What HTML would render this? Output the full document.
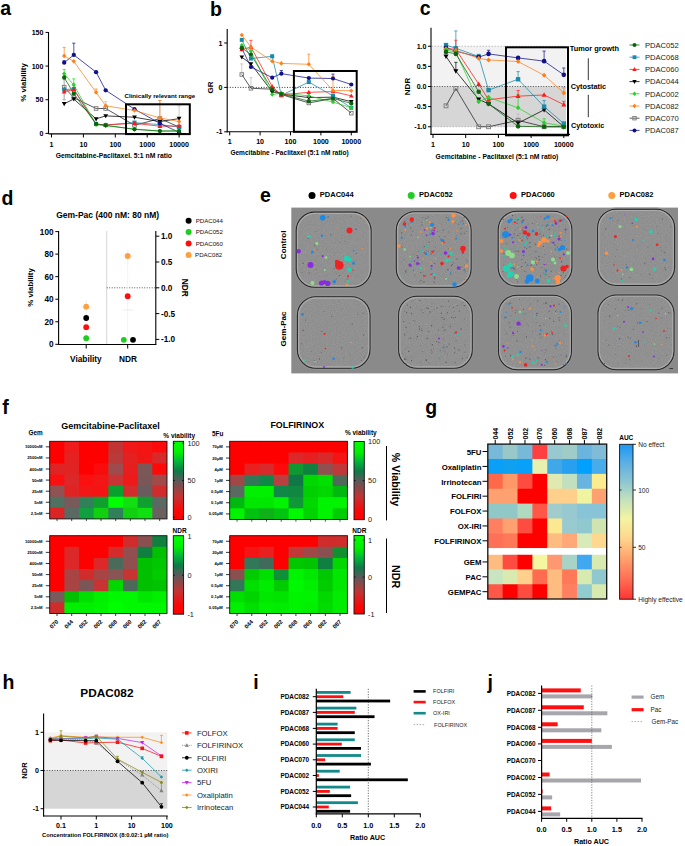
<!DOCTYPE html><html><head><meta charset="utf-8"><style>html,body{margin:0;padding:0;background:#fff;overflow:hidden}svg text{font-family:"Liberation Sans",sans-serif}</style></head><body><svg width="685" height="846" viewBox="0 0 685 846" style="display:block">
<defs><linearGradient id="gv" x1="0" y1="1" x2="0" y2="0"><stop offset="0" stop-color="#ff0000"/><stop offset="0.12" stop-color="#f80808"/><stop offset="0.3" stop-color="#c03434"/><stop offset="0.5" stop-color="#5a5a5a"/><stop offset="0.62" stop-color="#0e7a48"/><stop offset="0.75" stop-color="#00b838"/><stop offset="0.86" stop-color="#00f000"/><stop offset="1" stop-color="#00ff00"/></linearGradient><linearGradient id="gv2" x1="0" y1="1" x2="0" y2="0"><stop offset="0" stop-color="#ff0000"/><stop offset="0.11" stop-color="#f80808"/><stop offset="0.28" stop-color="#c03434"/><stop offset="0.471" stop-color="#5a5a5a"/><stop offset="0.59" stop-color="#0e7a48"/><stop offset="0.72" stop-color="#00b838"/><stop offset="0.84" stop-color="#00f000"/><stop offset="1" stop-color="#00ff00"/></linearGradient><linearGradient id="gauc" x1="0" y1="1" x2="0" y2="0"><stop offset="0" stop-color="#ff3434"/><stop offset="0.12" stop-color="#ff6a52"/><stop offset="0.28" stop-color="#ffa870"/><stop offset="0.4" stop-color="#fdd88e"/><stop offset="0.52" stop-color="#f4f4a2"/><stop offset="0.64" stop-color="#c4e2bc"/><stop offset="0.76" stop-color="#8cc6d2"/><stop offset="0.88" stop-color="#5cb0e4"/><stop offset="1" stop-color="#1a98f4"/></linearGradient><filter id="noise" x="0" y="0" width="100%" height="100%"><feTurbulence type="fractalNoise" baseFrequency="1.1" numOctaves="1" seed="3" result="t"/><feColorMatrix in="t" type="matrix" values="0 0 0 0 0.45  0 0 0 0 0.45  0 0 0 0 0.45  2.2 0 0 0 -0.7"/><feComposite in2="SourceGraphic" operator="in"/></filter></defs>
<rect width="685" height="846" fill="#fff"/>
<text x="0.3" y="14.8" font-size="19.5" font-weight="bold">a</text>
<line x1="48.5" y1="32" x2="48.5" y2="134" stroke="#000" stroke-width="1.1"/>
<line x1="48.5" y1="133.9" x2="186" y2="133.9" stroke="#000" stroke-width="1.1"/>
<line x1="45.5" y1="133.4" x2="48.5" y2="133.4" stroke="#000" stroke-width="1"/>
<text x="43.5" y="135.9" font-size="7.1" font-weight="bold" text-anchor="end">0</text>
<line x1="45.5" y1="99.74" x2="48.5" y2="99.74" stroke="#000" stroke-width="1"/>
<text x="43.5" y="102.24" font-size="7.1" font-weight="bold" text-anchor="end">50</text>
<line x1="45.5" y1="66.07" x2="48.5" y2="66.07" stroke="#000" stroke-width="1"/>
<text x="43.5" y="68.57" font-size="7.1" font-weight="bold" text-anchor="end">100</text>
<line x1="45.5" y1="32.41" x2="48.5" y2="32.41" stroke="#000" stroke-width="1"/>
<text x="43.5" y="34.91" font-size="7.1" font-weight="bold" text-anchor="end">150</text>
<line x1="51.5" y1="133.9" x2="51.5" y2="137.5" stroke="#000" stroke-width="1"/>
<text x="51.5" y="146.5" font-size="7.1" font-weight="bold" text-anchor="middle">1</text>
<line x1="83.4" y1="133.9" x2="83.4" y2="137.5" stroke="#000" stroke-width="1"/>
<text x="83.4" y="146.5" font-size="7.1" font-weight="bold" text-anchor="middle">10</text>
<line x1="115.3" y1="133.9" x2="115.3" y2="137.5" stroke="#000" stroke-width="1"/>
<text x="115.3" y="146.5" font-size="7.1" font-weight="bold" text-anchor="middle">100</text>
<line x1="147.2" y1="133.9" x2="147.2" y2="137.5" stroke="#000" stroke-width="1"/>
<text x="147.2" y="146.5" font-size="7.1" font-weight="bold" text-anchor="middle">1000</text>
<line x1="179.1" y1="133.9" x2="179.1" y2="137.5" stroke="#000" stroke-width="1"/>
<text x="179.1" y="146.5" font-size="7.1" font-weight="bold" text-anchor="middle">10000</text>
<text x="113.8" y="157.5" font-size="6.8" font-weight="bold" text-anchor="middle">Gemcitabine-Paclitaxel. 5:1 nM ratio</text>
<text x="26" y="82.5" font-size="7.9" font-weight="bold" text-anchor="middle" transform="rotate(-90 26 82.5)">% viability</text>
<line x1="64.19" y1="87.21" x2="64.19" y2="79.54" stroke="#b8b8b8" stroke-width="1.3"/>
<line x1="62.59" y1="79.54" x2="65.79" y2="79.54" stroke="#b8b8b8" stroke-width="1.3"/>
<line x1="64.19" y1="87.21" x2="64.19" y2="99.74" stroke="#b8b8b8" stroke-width="1.3"/>
<line x1="62.59" y1="99.74" x2="65.79" y2="99.74" stroke="#b8b8b8" stroke-width="1.3"/>
<line x1="105.7" y1="108.49" x2="105.7" y2="101.75" stroke="#b8b8b8" stroke-width="0.7"/>
<line x1="104.1" y1="101.75" x2="107.3" y2="101.75" stroke="#b8b8b8" stroke-width="0.7"/>
<line x1="159.89" y1="118.59" x2="159.89" y2="100.41" stroke="#b8b8b8" stroke-width="0.7"/>
<line x1="158.29" y1="100.41" x2="161.49" y2="100.41" stroke="#b8b8b8" stroke-width="0.7"/>
<line x1="179.1" y1="127" x2="179.1" y2="105.79" stroke="#b8b8b8" stroke-width="0.7"/>
<line x1="177.5" y1="105.79" x2="180.7" y2="105.79" stroke="#b8b8b8" stroke-width="0.7"/>
<polyline points="64.19,87.21 73.8,97.72 96.09,108.49 105.7,108.49 134.51,125.32 159.89,118.59 179.1,127" fill="none" stroke="#222" stroke-width="0.75"/>
<polyline points="64.19,103.77 73.8,99.06 96.09,118.92 105.7,115.89 134.51,117.24 159.89,121.62 179.1,118.59" fill="none" stroke="#000000" stroke-width="0.75"/>
<polyline points="64.19,89.64 73.8,88.96 96.09,123.97 105.7,124.98 134.51,122.63 159.89,124.65 179.1,127" fill="none" stroke="#1a8aaa" stroke-width="0.75"/>
<polyline points="64.19,91.66 73.8,89.64 96.09,124.31 105.7,124.98 134.51,123.3 159.89,126.2 179.1,125.99" fill="none" stroke="#ff1a1a" stroke-width="0.75"/>
<line x1="73.8" y1="54.89" x2="73.8" y2="43.18" stroke="#10108a" stroke-width="0.7"/>
<line x1="72.2" y1="43.18" x2="75.4" y2="43.18" stroke="#10108a" stroke-width="0.7"/>
<line x1="64.19" y1="62.7" x2="64.19" y2="60.68" stroke="#10108a" stroke-width="0.7"/>
<line x1="62.59" y1="60.68" x2="65.79" y2="60.68" stroke="#10108a" stroke-width="0.7"/>
<polyline points="64.19,62.7 73.8,54.89 96.09,72.13 105.7,90.31 134.51,109.16 159.89,123.3 179.1,132.39" fill="none" stroke="#10108a" stroke-width="0.75"/>
<line x1="64.19" y1="55.97" x2="64.19" y2="47.42" stroke="#ff8019" stroke-width="0.7"/>
<line x1="62.59" y1="47.42" x2="65.79" y2="47.42" stroke="#ff8019" stroke-width="0.7"/>
<line x1="96.09" y1="92.33" x2="96.09" y2="88.96" stroke="#ff8019" stroke-width="0.7"/>
<line x1="94.49" y1="88.96" x2="97.69" y2="88.96" stroke="#ff8019" stroke-width="0.7"/>
<line x1="159.89" y1="117.91" x2="159.89" y2="100.41" stroke="#ff8019" stroke-width="0.7"/>
<line x1="158.29" y1="100.41" x2="161.49" y2="100.41" stroke="#ff8019" stroke-width="0.7"/>
<polyline points="64.19,55.97 73.8,61.36 96.09,92.33 105.7,105.79 134.51,110.51 159.89,117.91 179.1,121.62" fill="none" stroke="#ff8019" stroke-width="0.75"/>
<line x1="73.8" y1="84.92" x2="73.8" y2="78.86" stroke="#2ad02a" stroke-width="0.7"/>
<line x1="72.2" y1="78.86" x2="75.4" y2="78.86" stroke="#2ad02a" stroke-width="0.7"/>
<line x1="64.19" y1="73.81" x2="64.19" y2="69.44" stroke="#2ad02a" stroke-width="0.7"/>
<line x1="62.59" y1="69.44" x2="65.79" y2="69.44" stroke="#2ad02a" stroke-width="0.7"/>
<polyline points="64.19,73.81 73.8,84.92 96.09,124.65 105.7,125.66 134.51,129.02 159.89,131.04 179.1,130.84" fill="none" stroke="#2ad02a" stroke-width="0.75"/>
<polyline points="64.19,77.52 73.8,93.68 96.09,123.97 105.7,125.32 134.51,129.36 159.89,131.04 179.1,131.04" fill="none" stroke="#0b640b" stroke-width="0.75"/>
<rect x="62.37" y="85.38" width="3.65" height="3.65" fill="none" stroke="#7a7a7a" stroke-width="0.9"/>
<rect x="71.97" y="95.89" width="3.65" height="3.65" fill="none" stroke="#7a7a7a" stroke-width="0.9"/>
<rect x="94.27" y="106.66" width="3.65" height="3.65" fill="none" stroke="#7a7a7a" stroke-width="0.9"/>
<rect x="103.87" y="106.66" width="3.65" height="3.65" fill="none" stroke="#7a7a7a" stroke-width="0.9"/>
<rect x="132.68" y="123.49" width="3.65" height="3.65" fill="none" stroke="#7a7a7a" stroke-width="0.9"/>
<rect x="158.07" y="116.76" width="3.65" height="3.65" fill="none" stroke="#7a7a7a" stroke-width="0.9"/>
<rect x="177.27" y="125.18" width="3.65" height="3.65" fill="none" stroke="#7a7a7a" stroke-width="0.9"/>
<polygon points="64.19,106.25 66.56,102.05 61.83,102.05" fill="#000000"/>
<polygon points="73.8,101.53 76.16,97.34 71.43,97.34" fill="#000000"/>
<polygon points="96.09,121.4 98.46,117.2 93.73,117.2" fill="#000000"/>
<polygon points="105.7,118.37 108.06,114.17 103.33,114.17" fill="#000000"/>
<polygon points="134.51,119.71 136.87,115.52 132.14,115.52" fill="#000000"/>
<polygon points="159.89,124.09 162.26,119.9 157.53,119.9" fill="#000000"/>
<polygon points="179.1,121.06 181.47,116.87 176.73,116.87" fill="#000000"/>
<rect x="62.15" y="87.59" width="4.08" height="4.08" fill="#1a8aaa"/>
<rect x="71.75" y="86.92" width="4.08" height="4.08" fill="#1a8aaa"/>
<rect x="94.05" y="121.93" width="4.08" height="4.08" fill="#1a8aaa"/>
<rect x="103.65" y="122.94" width="4.08" height="4.08" fill="#1a8aaa"/>
<rect x="132.46" y="120.58" width="4.08" height="4.08" fill="#1a8aaa"/>
<rect x="157.85" y="122.6" width="4.08" height="4.08" fill="#1a8aaa"/>
<rect x="177.06" y="124.96" width="4.08" height="4.08" fill="#1a8aaa"/>
<polygon points="64.19,89.18 66.56,93.38 61.83,93.38" fill="#ff1a1a"/>
<polygon points="73.8,87.16 76.16,91.36 71.43,91.36" fill="#ff1a1a"/>
<polygon points="96.09,121.84 98.46,126.03 93.73,126.03" fill="#ff1a1a"/>
<polygon points="105.7,122.51 108.06,126.7 103.33,126.7" fill="#ff1a1a"/>
<polygon points="134.51,120.83 136.87,125.02 132.14,125.02" fill="#ff1a1a"/>
<polygon points="159.89,123.72 162.26,127.92 157.53,127.92" fill="#ff1a1a"/>
<polygon points="179.1,123.52 181.47,127.71 176.73,127.71" fill="#ff1a1a"/>
<circle cx="64.19" cy="62.7" r="2.15" fill="#10108a"/>
<circle cx="73.8" cy="54.89" r="2.15" fill="#10108a"/>
<circle cx="96.09" cy="72.13" r="2.15" fill="#10108a"/>
<circle cx="105.7" cy="90.31" r="2.15" fill="#10108a"/>
<circle cx="134.51" cy="109.16" r="2.15" fill="#10108a"/>
<circle cx="159.89" cy="123.3" r="2.15" fill="#10108a"/>
<circle cx="179.1" cy="132.39" r="2.15" fill="#10108a"/>
<polygon points="64.19,53.61 66.34,55.97 64.19,58.34 62.04,55.97" fill="#ff8019"/>
<polygon points="73.8,58.99 75.95,61.36 73.8,63.72 71.65,61.36" fill="#ff8019"/>
<polygon points="96.09,89.96 98.24,92.33 96.09,94.69 93.94,92.33" fill="#ff8019"/>
<polygon points="105.7,103.43 107.85,105.79 105.7,108.16 103.55,105.79" fill="#ff8019"/>
<polygon points="134.51,108.14 136.66,110.51 134.51,112.87 132.36,110.51" fill="#ff8019"/>
<polygon points="159.89,115.55 162.04,117.91 159.89,120.28 157.74,117.91" fill="#ff8019"/>
<polygon points="179.1,119.25 181.25,121.62 179.1,123.98 176.95,121.62" fill="#ff8019"/>
<polygon points="64.19,71.45 66.34,73.81 64.19,76.18 62.04,73.81" fill="#2ad02a"/>
<polygon points="73.8,82.56 75.95,84.92 73.8,87.29 71.65,84.92" fill="#2ad02a"/>
<polygon points="96.09,122.28 98.24,124.65 96.09,127.01 93.94,124.65" fill="#2ad02a"/>
<polygon points="105.7,123.29 107.85,125.66 105.7,128.02 103.55,125.66" fill="#2ad02a"/>
<polygon points="134.51,126.66 136.66,129.02 134.51,131.39 132.36,129.02" fill="#2ad02a"/>
<polygon points="159.89,128.68 162.04,131.04 159.89,133.41 157.74,131.04" fill="#2ad02a"/>
<polygon points="179.1,128.48 181.25,130.84 179.1,133.21 176.95,130.84" fill="#2ad02a"/>
<circle cx="64.19" cy="77.52" r="2.15" fill="#0b640b"/>
<circle cx="73.8" cy="93.68" r="2.15" fill="#0b640b"/>
<circle cx="96.09" cy="123.97" r="2.15" fill="#0b640b"/>
<circle cx="105.7" cy="125.32" r="2.15" fill="#0b640b"/>
<circle cx="134.51" cy="129.36" r="2.15" fill="#0b640b"/>
<circle cx="159.89" cy="131.04" r="2.15" fill="#0b640b"/>
<circle cx="179.1" cy="131.04" r="2.15" fill="#0b640b"/>
<rect x="126" y="104.3" width="63.8" height="29.8" fill="none" stroke="#000" stroke-width="2"/>
<text x="124.5" y="97.7" font-size="6.15" font-weight="bold">Clinically relevant range</text>
<text x="210" y="15.5" font-size="19.5" font-weight="bold">b</text>
<line x1="227.2" y1="29" x2="227.2" y2="132.2" stroke="#000" stroke-width="1.1"/>
<line x1="226.7" y1="131.8" x2="355" y2="131.8" stroke="#000" stroke-width="1.1"/>
<line x1="224.2" y1="43" x2="227.2" y2="43" stroke="#000" stroke-width="1"/>
<text x="222.5" y="45.5" font-size="7.1" font-weight="bold" text-anchor="end">1</text>
<line x1="224.2" y1="87.4" x2="227.2" y2="87.4" stroke="#000" stroke-width="1"/>
<text x="222.5" y="89.9" font-size="7.1" font-weight="bold" text-anchor="end">0</text>
<line x1="224.2" y1="131.8" x2="227.2" y2="131.8" stroke="#000" stroke-width="1"/>
<text x="222.5" y="134.3" font-size="7.1" font-weight="bold" text-anchor="end">-1</text>
<line x1="229.7" y1="131.8" x2="229.7" y2="135.4" stroke="#000" stroke-width="1"/>
<text x="229.7" y="144.3" font-size="7.1" font-weight="bold" text-anchor="middle">1</text>
<line x1="260.1" y1="131.8" x2="260.1" y2="135.4" stroke="#000" stroke-width="1"/>
<text x="260.1" y="144.3" font-size="7.1" font-weight="bold" text-anchor="middle">10</text>
<line x1="290.5" y1="131.8" x2="290.5" y2="135.4" stroke="#000" stroke-width="1"/>
<text x="290.5" y="144.3" font-size="7.1" font-weight="bold" text-anchor="middle">100</text>
<line x1="320.9" y1="131.8" x2="320.9" y2="135.4" stroke="#000" stroke-width="1"/>
<text x="320.9" y="144.3" font-size="7.1" font-weight="bold" text-anchor="middle">1000</text>
<line x1="351.3" y1="131.8" x2="351.3" y2="135.4" stroke="#000" stroke-width="1"/>
<text x="351.3" y="144.3" font-size="7.1" font-weight="bold" text-anchor="middle">10000</text>
<text x="289.5" y="154.5" font-size="6.56" font-weight="bold" text-anchor="middle">Gemcitabine - Paclitaxel (5:1 nM ratio)</text>
<text x="213" y="87.4" font-size="8" font-weight="bold" text-anchor="middle" transform="rotate(-90 213 87.4)">GR</text>
<line x1="227.2" y1="87.4" x2="352" y2="87.4" stroke="#000" stroke-width="0.8" stroke-dasharray="1,1.6"/>
<line x1="241.8" y1="74.52" x2="241.8" y2="63.87" stroke="#b8b8b8" stroke-width="0.7"/>
<line x1="240.2" y1="63.87" x2="243.4" y2="63.87" stroke="#b8b8b8" stroke-width="0.7"/>
<line x1="250.95" y1="88.29" x2="250.95" y2="77.63" stroke="#b8b8b8" stroke-width="0.7"/>
<line x1="249.35" y1="77.63" x2="252.55" y2="77.63" stroke="#b8b8b8" stroke-width="0.7"/>
<polyline points="241.8,74.52 250.95,88.29 272.2,89.18 281.35,94.5 308.8,102.94 333,98.5 351.3,113.15" fill="none" stroke="#222" stroke-width="0.75"/>
<polyline points="241.8,57.21 250.95,63.87 272.2,91.84 281.35,94.06 308.8,97.61 333,97.17 351.3,101.61" fill="none" stroke="#000000" stroke-width="0.75"/>
<line x1="272.2" y1="56.32" x2="272.2" y2="54.99" stroke="#1a8aaa" stroke-width="0.7"/>
<line x1="270.6" y1="54.99" x2="273.8" y2="54.99" stroke="#1a8aaa" stroke-width="0.7"/>
<polyline points="241.8,39.89 250.95,58.54 272.2,56.32 281.35,95.39 308.8,82.07 333,95.84 351.3,107.82" fill="none" stroke="#1a8aaa" stroke-width="0.75"/>
<line x1="250.95" y1="47" x2="250.95" y2="40.34" stroke="#ff1a1a" stroke-width="0.7"/>
<line x1="249.35" y1="40.34" x2="252.55" y2="40.34" stroke="#ff1a1a" stroke-width="0.7"/>
<polyline points="241.8,49.66 250.95,47 272.2,86.51 281.35,94.95 308.8,92.28 333,91.62 351.3,95.84" fill="none" stroke="#ff1a1a" stroke-width="0.75"/>
<line x1="333" y1="78.52" x2="333" y2="74.08" stroke="#10108a" stroke-width="0.7"/>
<line x1="331.4" y1="74.08" x2="334.6" y2="74.08" stroke="#10108a" stroke-width="0.7"/>
<line x1="281.35" y1="73.64" x2="281.35" y2="70.53" stroke="#10108a" stroke-width="0.7"/>
<line x1="279.75" y1="70.53" x2="282.95" y2="70.53" stroke="#10108a" stroke-width="0.7"/>
<polyline points="241.8,48.33 250.95,66.98 272.2,77.63 281.35,73.64 308.8,78.08 333,78.52 351.3,84.51" fill="none" stroke="#10108a" stroke-width="0.75"/>
<line x1="308.8" y1="64.31" x2="308.8" y2="54.1" stroke="#ff8019" stroke-width="0.7"/>
<line x1="307.2" y1="54.1" x2="310.4" y2="54.1" stroke="#ff8019" stroke-width="0.7"/>
<line x1="333" y1="90.51" x2="333" y2="76.3" stroke="#ff8019" stroke-width="0.7"/>
<line x1="331.4" y1="76.3" x2="334.6" y2="76.3" stroke="#ff8019" stroke-width="0.7"/>
<polyline points="241.8,35.01 250.95,47 272.2,61.2 281.35,63.42 308.8,64.31 333,90.51 351.3,90.73" fill="none" stroke="#ff8019" stroke-width="0.75"/>
<polyline points="241.8,45.22 250.95,50.99 272.2,94.5 281.35,93.17 308.8,95.84 333,102.05 351.3,107.82" fill="none" stroke="#2ad02a" stroke-width="0.75"/>
<polyline points="241.8,47.88 250.95,54.54 272.2,89.62 281.35,94.06 308.8,101.16 333,98.5 351.3,103.38" fill="none" stroke="#0b640b" stroke-width="0.75"/>
<rect x="240.01" y="72.74" width="3.57" height="3.57" fill="none" stroke="#7a7a7a" stroke-width="0.9"/>
<rect x="249.16" y="86.5" width="3.57" height="3.57" fill="none" stroke="#7a7a7a" stroke-width="0.9"/>
<rect x="270.41" y="87.39" width="3.57" height="3.57" fill="none" stroke="#7a7a7a" stroke-width="0.9"/>
<rect x="279.56" y="92.72" width="3.57" height="3.57" fill="none" stroke="#7a7a7a" stroke-width="0.9"/>
<rect x="307.02" y="101.16" width="3.57" height="3.57" fill="none" stroke="#7a7a7a" stroke-width="0.9"/>
<rect x="331.21" y="96.72" width="3.57" height="3.57" fill="none" stroke="#7a7a7a" stroke-width="0.9"/>
<rect x="349.51" y="111.37" width="3.57" height="3.57" fill="none" stroke="#7a7a7a" stroke-width="0.9"/>
<polygon points="241.8,59.62 244.11,55.53 239.49,55.53" fill="#000000"/>
<polygon points="250.95,66.28 253.26,62.19 248.64,62.19" fill="#000000"/>
<polygon points="272.2,94.26 274.51,90.16 269.89,90.16" fill="#000000"/>
<polygon points="281.35,96.48 283.66,92.38 279.04,92.38" fill="#000000"/>
<polygon points="308.8,100.03 311.11,95.93 306.49,95.93" fill="#000000"/>
<polygon points="333,99.58 335.31,95.49 330.69,95.49" fill="#000000"/>
<polygon points="351.3,104.02 353.61,99.93 348.99,99.93" fill="#000000"/>
<rect x="239.8" y="37.9" width="3.99" height="3.99" fill="#1a8aaa"/>
<rect x="248.95" y="56.55" width="3.99" height="3.99" fill="#1a8aaa"/>
<rect x="270.2" y="54.33" width="3.99" height="3.99" fill="#1a8aaa"/>
<rect x="279.35" y="93.4" width="3.99" height="3.99" fill="#1a8aaa"/>
<rect x="306.81" y="80.08" width="3.99" height="3.99" fill="#1a8aaa"/>
<rect x="331" y="93.84" width="3.99" height="3.99" fill="#1a8aaa"/>
<rect x="349.3" y="105.83" width="3.99" height="3.99" fill="#1a8aaa"/>
<polygon points="241.8,47.25 244.11,51.34 239.49,51.34" fill="#ff1a1a"/>
<polygon points="250.95,44.58 253.26,48.68 248.64,48.68" fill="#ff1a1a"/>
<polygon points="272.2,84.1 274.51,88.19 269.89,88.19" fill="#ff1a1a"/>
<polygon points="281.35,92.53 283.66,96.63 279.04,96.63" fill="#ff1a1a"/>
<polygon points="308.8,89.87 311.11,93.96 306.49,93.96" fill="#ff1a1a"/>
<polygon points="333,89.2 335.31,93.3 330.69,93.3" fill="#ff1a1a"/>
<polygon points="351.3,93.42 353.61,97.52 348.99,97.52" fill="#ff1a1a"/>
<circle cx="241.8" cy="48.33" r="2.1" fill="#10108a"/>
<circle cx="250.95" cy="66.98" r="2.1" fill="#10108a"/>
<circle cx="272.2" cy="77.63" r="2.1" fill="#10108a"/>
<circle cx="281.35" cy="73.64" r="2.1" fill="#10108a"/>
<circle cx="308.8" cy="78.08" r="2.1" fill="#10108a"/>
<circle cx="333" cy="78.52" r="2.1" fill="#10108a"/>
<circle cx="351.3" cy="84.51" r="2.1" fill="#10108a"/>
<polygon points="241.8,32.7 243.9,35.01 241.8,37.32 239.7,35.01" fill="#ff8019"/>
<polygon points="250.95,44.69 253.05,47 250.95,49.31 248.85,47" fill="#ff8019"/>
<polygon points="272.2,58.89 274.3,61.2 272.2,63.51 270.1,61.2" fill="#ff8019"/>
<polygon points="281.35,61.11 283.45,63.42 281.35,65.73 279.25,63.42" fill="#ff8019"/>
<polygon points="308.8,62 310.9,64.31 308.8,66.62 306.7,64.31" fill="#ff8019"/>
<polygon points="333,88.2 335.1,90.51 333,92.82 330.9,90.51" fill="#ff8019"/>
<polygon points="351.3,88.42 353.4,90.73 351.3,93.04 349.2,90.73" fill="#ff8019"/>
<polygon points="241.8,42.91 243.9,45.22 241.8,47.53 239.7,45.22" fill="#2ad02a"/>
<polygon points="250.95,48.68 253.05,50.99 250.95,53.3 248.85,50.99" fill="#2ad02a"/>
<polygon points="272.2,92.19 274.3,94.5 272.2,96.81 270.1,94.5" fill="#2ad02a"/>
<polygon points="281.35,90.86 283.45,93.17 281.35,95.48 279.25,93.17" fill="#2ad02a"/>
<polygon points="308.8,93.53 310.9,95.84 308.8,98.15 306.7,95.84" fill="#2ad02a"/>
<polygon points="333,99.74 335.1,102.05 333,104.36 330.9,102.05" fill="#2ad02a"/>
<polygon points="351.3,105.51 353.4,107.82 351.3,110.13 349.2,107.82" fill="#2ad02a"/>
<circle cx="241.8" cy="47.88" r="2.1" fill="#0b640b"/>
<circle cx="250.95" cy="54.54" r="2.1" fill="#0b640b"/>
<circle cx="272.2" cy="89.62" r="2.1" fill="#0b640b"/>
<circle cx="281.35" cy="94.06" r="2.1" fill="#0b640b"/>
<circle cx="308.8" cy="101.16" r="2.1" fill="#0b640b"/>
<circle cx="333" cy="98.5" r="2.1" fill="#0b640b"/>
<circle cx="351.3" cy="103.38" r="2.1" fill="#0b640b"/>
<rect x="293.9" y="71" width="62.8" height="60.8" fill="none" stroke="#000" stroke-width="2"/>
<text x="419.7" y="14.8" font-size="19.5" font-weight="bold">c</text>
<rect x="431.5" y="46.25" width="134.5" height="40.25" fill="#f2f2f2"/>
<rect x="431.5" y="86.5" width="134.5" height="40.25" fill="#d6d6d6"/>
<line x1="431.5" y1="46.25" x2="566" y2="46.25" stroke="#999" stroke-width="0.6" stroke-dasharray="1.5,1.5"/>
<line x1="431.5" y1="126.75" x2="566" y2="126.75" stroke="#999" stroke-width="0.6" stroke-dasharray="1.5,1.5"/>
<line x1="431.5" y1="86.5" x2="566" y2="86.5" stroke="#222" stroke-width="0.8" stroke-dasharray="1,1.6"/>
<line x1="431" y1="27.7" x2="431" y2="134.9" stroke="#000" stroke-width="1.1"/>
<line x1="430.5" y1="134.4" x2="570" y2="134.4" stroke="#000" stroke-width="1.1"/>
<line x1="428" y1="46.25" x2="431" y2="46.25" stroke="#000" stroke-width="1"/>
<text x="426.5" y="48.75" font-size="7.1" font-weight="bold" text-anchor="end">1.0</text>
<line x1="428" y1="66.38" x2="431" y2="66.38" stroke="#000" stroke-width="1"/>
<text x="426.5" y="68.88" font-size="7.1" font-weight="bold" text-anchor="end">0.5</text>
<line x1="428" y1="86.5" x2="431" y2="86.5" stroke="#000" stroke-width="1"/>
<text x="426.5" y="89" font-size="7.1" font-weight="bold" text-anchor="end">0.0</text>
<line x1="428" y1="106.62" x2="431" y2="106.62" stroke="#000" stroke-width="1"/>
<text x="426.5" y="109.12" font-size="7.1" font-weight="bold" text-anchor="end">-0.5</text>
<line x1="428" y1="126.75" x2="431" y2="126.75" stroke="#000" stroke-width="1"/>
<text x="426.5" y="129.25" font-size="7.1" font-weight="bold" text-anchor="end">-1.0</text>
<line x1="433" y1="134.4" x2="433" y2="138" stroke="#000" stroke-width="1"/>
<text x="433" y="146.8" font-size="7.1" font-weight="bold" text-anchor="middle">1</text>
<line x1="465.7" y1="134.4" x2="465.7" y2="138" stroke="#000" stroke-width="1"/>
<text x="465.7" y="146.8" font-size="7.1" font-weight="bold" text-anchor="middle">10</text>
<line x1="498.4" y1="134.4" x2="498.4" y2="138" stroke="#000" stroke-width="1"/>
<text x="498.4" y="146.8" font-size="7.1" font-weight="bold" text-anchor="middle">100</text>
<line x1="531.1" y1="134.4" x2="531.1" y2="138" stroke="#000" stroke-width="1"/>
<text x="531.1" y="146.8" font-size="7.1" font-weight="bold" text-anchor="middle">1000</text>
<line x1="563.8" y1="134.4" x2="563.8" y2="138" stroke="#000" stroke-width="1"/>
<text x="563.8" y="146.8" font-size="7.1" font-weight="bold" text-anchor="middle">10000</text>
<text x="497" y="159" font-size="6.8" font-weight="bold" text-anchor="middle">Gemcitabine - Paclitaxel (5:1 nM ratio)</text>
<text x="410" y="86.5" font-size="8" font-weight="bold" text-anchor="middle" transform="rotate(-90 410 86.5)">NDR</text>
<line x1="518.09" y1="120.31" x2="518.09" y2="113.87" stroke="#b8b8b8" stroke-width="0.7"/>
<line x1="516.49" y1="113.87" x2="519.69" y2="113.87" stroke="#b8b8b8" stroke-width="0.7"/>
<polyline points="446.01,105.82 455.86,88.51 478.71,126.75 488.56,126.75 518.09,120.31 544.11,126.75 563.8,126.75" fill="none" stroke="#222" stroke-width="0.75"/>
<line x1="455.86" y1="71.2" x2="455.86" y2="62.35" stroke="#000000" stroke-width="0.7"/>
<line x1="454.26" y1="62.35" x2="457.46" y2="62.35" stroke="#000000" stroke-width="0.7"/>
<polyline points="446.01,56.31 455.86,71.2 478.71,99.38 488.56,103.81 518.09,123.13 544.11,109.84 563.8,126.75" fill="none" stroke="#000000" stroke-width="0.75"/>
<line x1="455.86" y1="48.26" x2="455.86" y2="30.96" stroke="#1a8aaa" stroke-width="0.7"/>
<line x1="454.26" y1="30.96" x2="457.46" y2="30.96" stroke="#1a8aaa" stroke-width="0.7"/>
<line x1="518.09" y1="79.25" x2="518.09" y2="71.61" stroke="#1a8aaa" stroke-width="0.7"/>
<line x1="516.49" y1="71.61" x2="519.69" y2="71.61" stroke="#1a8aaa" stroke-width="0.7"/>
<line x1="544.11" y1="106.62" x2="544.11" y2="100.59" stroke="#1a8aaa" stroke-width="0.7"/>
<line x1="542.51" y1="100.59" x2="545.71" y2="100.59" stroke="#1a8aaa" stroke-width="0.7"/>
<line x1="478.71" y1="56.51" x2="478.71" y2="54.3" stroke="#1a8aaa" stroke-width="0.7"/>
<line x1="477.11" y1="54.3" x2="480.31" y2="54.3" stroke="#1a8aaa" stroke-width="0.7"/>
<polyline points="446.01,45.04 455.86,48.26 478.71,56.51 488.56,90.12 518.09,79.25 544.11,106.62 563.8,123.53" fill="none" stroke="#1a8aaa" stroke-width="0.75"/>
<line x1="455.86" y1="49.47" x2="455.86" y2="40.21" stroke="#ff1a1a" stroke-width="0.7"/>
<line x1="454.26" y1="40.21" x2="457.46" y2="40.21" stroke="#ff1a1a" stroke-width="0.7"/>
<line x1="518.09" y1="96.16" x2="518.09" y2="90.53" stroke="#ff1a1a" stroke-width="0.7"/>
<line x1="516.49" y1="90.53" x2="519.69" y2="90.53" stroke="#ff1a1a" stroke-width="0.7"/>
<line x1="563.8" y1="104.61" x2="563.8" y2="101.39" stroke="#ff1a1a" stroke-width="0.7"/>
<line x1="562.2" y1="101.39" x2="565.4" y2="101.39" stroke="#ff1a1a" stroke-width="0.7"/>
<polyline points="446.01,48.26 455.86,49.47 478.71,84.08 488.56,99.78 518.09,96.16 544.11,94.95 563.8,104.61" fill="none" stroke="#ff1a1a" stroke-width="0.75"/>
<line x1="488.56" y1="53.9" x2="488.56" y2="50.27" stroke="#10108a" stroke-width="0.7"/>
<line x1="486.96" y1="50.27" x2="490.16" y2="50.27" stroke="#10108a" stroke-width="0.7"/>
<line x1="544.11" y1="61.14" x2="544.11" y2="51.08" stroke="#10108a" stroke-width="0.7"/>
<line x1="542.51" y1="51.08" x2="545.71" y2="51.08" stroke="#10108a" stroke-width="0.7"/>
<line x1="563.8" y1="74.83" x2="563.8" y2="67.98" stroke="#10108a" stroke-width="0.7"/>
<line x1="562.2" y1="67.98" x2="565.4" y2="67.98" stroke="#10108a" stroke-width="0.7"/>
<polyline points="446.01,47.86 455.86,51.08 478.71,57.12 488.56,53.9 518.09,57.92 544.11,61.14 563.8,74.83" fill="none" stroke="#10108a" stroke-width="0.75"/>
<line x1="563.8" y1="92.94" x2="563.8" y2="87.71" stroke="#ff8019" stroke-width="0.7"/>
<line x1="562.2" y1="87.71" x2="565.4" y2="87.71" stroke="#ff8019" stroke-width="0.7"/>
<line x1="518.09" y1="61.55" x2="518.09" y2="59.94" stroke="#ff8019" stroke-width="0.7"/>
<line x1="516.49" y1="59.94" x2="519.69" y2="59.94" stroke="#ff8019" stroke-width="0.7"/>
<polyline points="446.01,48.66 455.86,50.27 478.71,58.33 488.56,59.94 518.09,61.55 544.11,75.23 563.8,92.94" fill="none" stroke="#ff8019" stroke-width="0.75"/>
<line x1="518.09" y1="107.83" x2="518.09" y2="94.55" stroke="#2ad02a" stroke-width="0.7"/>
<line x1="516.49" y1="94.55" x2="519.69" y2="94.55" stroke="#2ad02a" stroke-width="0.7"/>
<line x1="544.11" y1="122.72" x2="544.11" y2="118.7" stroke="#2ad02a" stroke-width="0.7"/>
<line x1="542.51" y1="118.7" x2="545.71" y2="118.7" stroke="#2ad02a" stroke-width="0.7"/>
<polyline points="446.01,49.87 455.86,52.29 478.71,101.8 488.56,97.37 518.09,107.83 544.11,122.72 563.8,126.35" fill="none" stroke="#2ad02a" stroke-width="0.75"/>
<polyline points="446.01,51.88 455.86,53.9 478.71,91.73 488.56,103.81 518.09,126.35 544.11,126.75 563.8,126.75" fill="none" stroke="#0b640b" stroke-width="0.75"/>
<rect x="444.06" y="103.86" width="3.91" height="3.91" fill="none" stroke="#7a7a7a" stroke-width="0.9"/>
<rect x="453.9" y="86.56" width="3.91" height="3.91" fill="none" stroke="#7a7a7a" stroke-width="0.9"/>
<rect x="476.76" y="124.8" width="3.91" height="3.91" fill="none" stroke="#7a7a7a" stroke-width="0.9"/>
<rect x="486.6" y="124.8" width="3.91" height="3.91" fill="none" stroke="#7a7a7a" stroke-width="0.9"/>
<rect x="516.13" y="118.36" width="3.91" height="3.91" fill="none" stroke="#7a7a7a" stroke-width="0.9"/>
<rect x="542.16" y="124.8" width="3.91" height="3.91" fill="none" stroke="#7a7a7a" stroke-width="0.9"/>
<rect x="561.84" y="124.8" width="3.91" height="3.91" fill="none" stroke="#7a7a7a" stroke-width="0.9"/>
<polygon points="446.01,58.96 448.54,54.47 443.48,54.47" fill="#000000"/>
<polygon points="455.86,73.85 458.39,69.36 453.33,69.36" fill="#000000"/>
<polygon points="478.71,102.02 481.24,97.54 476.18,97.54" fill="#000000"/>
<polygon points="488.56,106.45 491.09,101.97 486.03,101.97" fill="#000000"/>
<polygon points="518.09,125.77 520.62,121.29 515.56,121.29" fill="#000000"/>
<polygon points="544.11,112.49 546.64,108 541.58,108" fill="#000000"/>
<polygon points="563.8,129.4 566.33,124.91 561.27,124.91" fill="#000000"/>
<rect x="443.83" y="42.86" width="4.37" height="4.37" fill="#1a8aaa"/>
<rect x="453.67" y="46.08" width="4.37" height="4.37" fill="#1a8aaa"/>
<rect x="476.53" y="54.33" width="4.37" height="4.37" fill="#1a8aaa"/>
<rect x="486.37" y="87.94" width="4.37" height="4.37" fill="#1a8aaa"/>
<rect x="515.9" y="77.07" width="4.37" height="4.37" fill="#1a8aaa"/>
<rect x="541.93" y="104.44" width="4.37" height="4.37" fill="#1a8aaa"/>
<rect x="561.62" y="121.34" width="4.37" height="4.37" fill="#1a8aaa"/>
<polygon points="446.01,45.62 448.54,50.1 443.48,50.1" fill="#ff1a1a"/>
<polygon points="455.86,46.83 458.39,51.31 453.33,51.31" fill="#ff1a1a"/>
<polygon points="478.71,81.44 481.24,85.92 476.18,85.92" fill="#ff1a1a"/>
<polygon points="488.56,97.14 491.09,101.62 486.03,101.62" fill="#ff1a1a"/>
<polygon points="518.09,93.52 520.62,98 515.56,98" fill="#ff1a1a"/>
<polygon points="544.11,92.31 546.64,96.79 541.58,96.79" fill="#ff1a1a"/>
<polygon points="563.8,101.97 566.33,106.45 561.27,106.45" fill="#ff1a1a"/>
<circle cx="446.01" cy="47.86" r="2.3" fill="#10108a"/>
<circle cx="455.86" cy="51.08" r="2.3" fill="#10108a"/>
<circle cx="478.71" cy="57.12" r="2.3" fill="#10108a"/>
<circle cx="488.56" cy="53.9" r="2.3" fill="#10108a"/>
<circle cx="518.09" cy="57.92" r="2.3" fill="#10108a"/>
<circle cx="544.11" cy="61.14" r="2.3" fill="#10108a"/>
<circle cx="563.8" cy="74.83" r="2.3" fill="#10108a"/>
<polygon points="446.01,46.13 448.31,48.66 446.01,51.2 443.71,48.66" fill="#ff8019"/>
<polygon points="455.86,47.74 458.16,50.27 455.86,52.8 453.56,50.27" fill="#ff8019"/>
<polygon points="478.71,55.8 481.01,58.33 478.71,60.86 476.41,58.33" fill="#ff8019"/>
<polygon points="488.56,57.41 490.86,59.94 488.56,62.47 486.26,59.94" fill="#ff8019"/>
<polygon points="518.09,59.02 520.39,61.55 518.09,64.08 515.79,61.55" fill="#ff8019"/>
<polygon points="544.11,72.7 546.41,75.23 544.11,77.76 541.81,75.23" fill="#ff8019"/>
<polygon points="563.8,90.41 566.1,92.94 563.8,95.47 561.5,92.94" fill="#ff8019"/>
<polygon points="446.01,47.34 448.31,49.87 446.01,52.4 443.71,49.87" fill="#2ad02a"/>
<polygon points="455.86,49.76 458.16,52.29 455.86,54.82 453.56,52.29" fill="#2ad02a"/>
<polygon points="478.71,99.27 481.01,101.8 478.71,104.33 476.41,101.8" fill="#2ad02a"/>
<polygon points="488.56,94.84 490.86,97.37 488.56,99.9 486.26,97.37" fill="#2ad02a"/>
<polygon points="518.09,105.3 520.39,107.83 518.09,110.36 515.79,107.83" fill="#2ad02a"/>
<polygon points="544.11,120.19 546.41,122.72 544.11,125.25 541.81,122.72" fill="#2ad02a"/>
<polygon points="563.8,123.82 566.1,126.35 563.8,128.88 561.5,126.35" fill="#2ad02a"/>
<circle cx="446.01" cy="51.88" r="2.3" fill="#0b640b"/>
<circle cx="455.86" cy="53.9" r="2.3" fill="#0b640b"/>
<circle cx="478.71" cy="91.73" r="2.3" fill="#0b640b"/>
<circle cx="488.56" cy="103.81" r="2.3" fill="#0b640b"/>
<circle cx="518.09" cy="126.35" r="2.3" fill="#0b640b"/>
<circle cx="544.11" cy="126.75" r="2.3" fill="#0b640b"/>
<circle cx="563.8" cy="126.75" r="2.3" fill="#0b640b"/>
<rect x="506" y="47.3" width="62" height="88" fill="none" stroke="#000" stroke-width="2"/>
<text x="569.8" y="50.8" font-size="7.4" font-weight="bold">Tumor growth</text>
<text x="570.8" y="88.8" font-size="7.3" font-weight="bold">Cytostatic</text>
<text x="571" y="127.5" font-size="7.3" font-weight="bold">Cytotoxic</text>
<line x1="588.3" y1="58.3" x2="588.3" y2="80.2" stroke="#000" stroke-width="0.8"/>
<line x1="588.3" y1="94.8" x2="588.3" y2="117.2" stroke="#000" stroke-width="0.8"/>
<line x1="629.5" y1="45" x2="639.5" y2="45" stroke="#0b640b" stroke-width="0.8"/>
<circle cx="634.5" cy="45" r="2" fill="#0b640b"/>
<text x="644.9" y="47.7" font-size="7.6" fill="#222">PDAC052</text>
<line x1="629.5" y1="57.2" x2="639.5" y2="57.2" stroke="#1a8aaa" stroke-width="0.8"/>
<rect x="632.6" y="55.3" width="3.8" height="3.8" fill="#1a8aaa"/>
<text x="644.9" y="59.9" font-size="7.6" fill="#222">PDAC068</text>
<line x1="629.5" y1="69.4" x2="639.5" y2="69.4" stroke="#ff1a1a" stroke-width="0.8"/>
<polygon points="634.5,67.1 636.7,71 632.3,71" fill="#ff1a1a"/>
<text x="644.9" y="72.1" font-size="7.6" fill="#222">PDAC060</text>
<line x1="629.5" y1="81.6" x2="639.5" y2="81.6" stroke="#000000" stroke-width="0.8"/>
<polygon points="634.5,83.9 636.7,80 632.3,80" fill="#000000"/>
<text x="644.9" y="84.3" font-size="7.6" fill="#222">PDAC044</text>
<line x1="629.5" y1="93.8" x2="639.5" y2="93.8" stroke="#2ad02a" stroke-width="0.8"/>
<polygon points="634.5,91.6 636.5,93.8 634.5,96 632.5,93.8" fill="#2ad02a"/>
<text x="644.9" y="96.5" font-size="7.6" fill="#222">PDAC002</text>
<line x1="629.5" y1="106" x2="639.5" y2="106" stroke="#ff8019" stroke-width="0.8"/>
<polygon points="634.5,103.8 636.5,106 634.5,108.2 632.5,106" fill="#ff8019"/>
<text x="644.9" y="108.7" font-size="7.6" fill="#222">PDAC082</text>
<line x1="629.5" y1="118.2" x2="639.5" y2="118.2" stroke="#333" stroke-width="0.8"/>
<rect x="632.8" y="116.5" width="3.4" height="3.4" fill="none" stroke="#7a7a7a" stroke-width="0.9"/>
<text x="644.9" y="120.9" font-size="7.6" fill="#222">PDAC070</text>
<line x1="629.5" y1="130.4" x2="639.5" y2="130.4" stroke="#10108a" stroke-width="0.8"/>
<circle cx="634.5" cy="130.4" r="2" fill="#10108a"/>
<text x="644.9" y="133.1" font-size="7.6" fill="#222">PDAC087</text>
<text x="1.5" y="204.5" font-size="19.5" font-weight="bold">d</text>
<text x="107.7" y="217.5" font-size="8.5" font-weight="bold" text-anchor="middle">Gem-Pac (400 nM: 80 nM)</text>
<line x1="106.7" y1="231" x2="106.7" y2="344" stroke="#dcdcdc" stroke-width="1.2"/>
<line x1="58.6" y1="231" x2="58.6" y2="344.8" stroke="#000" stroke-width="1.1"/>
<line x1="58.1" y1="344.5" x2="156.3" y2="344.5" stroke="#000" stroke-width="1.1"/>
<line x1="155.8" y1="231" x2="155.8" y2="344.8" stroke="#000" stroke-width="1.1"/>
<line x1="55.3" y1="344.3" x2="58.6" y2="344.3" stroke="#000" stroke-width="1"/>
<text x="53.5" y="347.2" font-size="8.2" font-weight="bold" text-anchor="end">0</text>
<line x1="55.3" y1="321.76" x2="58.6" y2="321.76" stroke="#000" stroke-width="1"/>
<text x="53.5" y="324.66" font-size="8.2" font-weight="bold" text-anchor="end">20</text>
<line x1="55.3" y1="299.22" x2="58.6" y2="299.22" stroke="#000" stroke-width="1"/>
<text x="53.5" y="302.12" font-size="8.2" font-weight="bold" text-anchor="end">40</text>
<line x1="55.3" y1="276.68" x2="58.6" y2="276.68" stroke="#000" stroke-width="1"/>
<text x="53.5" y="279.58" font-size="8.2" font-weight="bold" text-anchor="end">60</text>
<line x1="55.3" y1="254.14" x2="58.6" y2="254.14" stroke="#000" stroke-width="1"/>
<text x="53.5" y="257.04" font-size="8.2" font-weight="bold" text-anchor="end">80</text>
<line x1="55.3" y1="231.6" x2="58.6" y2="231.6" stroke="#000" stroke-width="1"/>
<text x="53.5" y="234.5" font-size="8.2" font-weight="bold" text-anchor="end">100</text>
<line x1="155.8" y1="236.2" x2="159.3" y2="236.2" stroke="#000" stroke-width="1"/>
<text x="161" y="239.1" font-size="8.2" font-weight="bold">1.0</text>
<line x1="155.8" y1="262" x2="159.3" y2="262" stroke="#000" stroke-width="1"/>
<text x="161" y="264.9" font-size="8.2" font-weight="bold">0.5</text>
<line x1="155.8" y1="287.8" x2="159.3" y2="287.8" stroke="#000" stroke-width="1"/>
<text x="161" y="290.7" font-size="8.2" font-weight="bold">0.0</text>
<line x1="155.8" y1="313.6" x2="159.3" y2="313.6" stroke="#000" stroke-width="1"/>
<text x="161" y="316.5" font-size="8.2" font-weight="bold">-0.5</text>
<line x1="155.8" y1="339.4" x2="159.3" y2="339.4" stroke="#000" stroke-width="1"/>
<text x="161" y="342.3" font-size="8.2" font-weight="bold">-1.0</text>
<line x1="86.2" y1="344.5" x2="86.2" y2="348.5" stroke="#000" stroke-width="1"/>
<line x1="127.7" y1="344.5" x2="127.7" y2="348.5" stroke="#000" stroke-width="1"/>
<text x="85.9" y="362" font-size="8.3" font-weight="bold" text-anchor="middle">Viability</text>
<text x="127.9" y="362" font-size="8.3" font-weight="bold" text-anchor="middle">NDR</text>
<text x="33" y="287.5" font-size="7.9" font-weight="bold" text-anchor="middle" transform="rotate(-90 33 287.5)">% viability</text>
<text x="182" y="287.8" font-size="8.3" font-weight="bold" text-anchor="middle" transform="rotate(90 182 287.8)">NDR</text>
<line x1="106.7" y1="287.8" x2="155.8" y2="287.8" stroke="#333" stroke-width="0.8" stroke-dasharray="1,1.5"/>
<line x1="86.2" y1="300" x2="86.2" y2="342" stroke="#e8e8e8" stroke-width="0.8"/>
<line x1="81" y1="307.11" x2="91.5" y2="307.11" stroke="#e8e8e8" stroke-width="0.8"/>
<line x1="81" y1="337.54" x2="91.5" y2="337.54" stroke="#e8e8e8" stroke-width="0.8"/>
<line x1="127.7" y1="250" x2="127.7" y2="342" stroke="#efefef" stroke-width="0.8"/>
<line x1="122.5" y1="256" x2="133" y2="256" stroke="#e8e8e8" stroke-width="0.8"/>
<line x1="122.5" y1="310" x2="133" y2="310" stroke="#e8e8e8" stroke-width="0.8"/>
<circle cx="86.2" cy="306.7" r="2.9" fill="#ffa040"/>
<circle cx="86.2" cy="318" r="2.9" fill="#000"/>
<circle cx="86.2" cy="327.2" r="2.9" fill="#ff0d0d"/>
<circle cx="86.2" cy="338.2" r="2.9" fill="#1fcc1f"/>
<circle cx="127.7" cy="256" r="2.9" fill="#ffa040"/>
<circle cx="127.7" cy="296.2" r="2.9" fill="#ff0d0d"/>
<circle cx="123.8" cy="339.8" r="2.9" fill="#1fcc1f"/>
<circle cx="133" cy="339.8" r="2.9" fill="#000"/>
<circle cx="188.6" cy="220.8" r="3" fill="#000"/>
<text x="195.8" y="223" font-size="6.1" fill="#111">PDAC044</text>
<circle cx="188.6" cy="232" r="3" fill="#1fcc1f"/>
<text x="195.8" y="234.2" font-size="6.1" fill="#111">PDAC052</text>
<circle cx="188.6" cy="243.6" r="3" fill="#ff0d0d"/>
<text x="195.8" y="245.8" font-size="6.1" fill="#111">PDAC060</text>
<circle cx="188.6" cy="255.1" r="3" fill="#ffa040"/>
<text x="195.1" y="257.3" font-size="6.1" fill="#111">PDAC082</text>
<text x="260" y="202" font-size="19.5" font-weight="bold">e</text>
<circle cx="312" cy="195.6" r="3.5" fill="#000"/>
<text x="319.8" y="197.4" font-size="7.5" font-weight="bold">PDAC044</text>
<circle cx="411.2" cy="195.6" r="3.5" fill="#22cc22"/>
<text x="419" y="197.4" font-size="7.5" font-weight="bold">PDAC052</text>
<circle cx="513.2" cy="195.6" r="3.5" fill="#ff1010"/>
<text x="521" y="197.4" font-size="7.5" font-weight="bold">PDAC060</text>
<circle cx="611.8" cy="195.6" r="3.5" fill="#ffa040"/>
<text x="619.6" y="197.4" font-size="7.5" font-weight="bold">PDAC082</text>
<rect x="291.3" y="207.6" width="386.7" height="165.8" fill="#8a8a8a"/>
<text x="286.2" y="244.8" font-size="8.1" font-weight="bold" text-anchor="middle" transform="rotate(-90 286.2 244.8)">Control</text>
<text x="286.2" y="329" font-size="8.1" font-weight="bold" text-anchor="middle" transform="rotate(-90 286.2 329)">Gem-Pac</text>
<rect x="295" y="210.9" width="77.3" height="77.5" rx="19.5" fill="none" stroke="#929292" stroke-width="1.0"/>
<rect x="296.2" y="212.1" width="74.9" height="75.1" rx="18.5" fill="#8c8c8c" stroke="#262626" stroke-width="1.05"/>
<rect x="297.2" y="213.1" width="72.9" height="73.1" rx="17.5" fill="#fff" filter="url(#noise)" opacity="0.3"/>
<rect x="297.5" y="213.4" width="72.3" height="72.5" rx="17.5" fill="none" stroke="#ababab" stroke-width="1.1"/>
<circle cx="309.19" cy="272.96" r="0.58" fill="#555"/>
<circle cx="317.26" cy="249.34" r="0.48" fill="#555"/>
<circle cx="343.79" cy="269.02" r="0.38" fill="#555"/>
<circle cx="302.1" cy="272.18" r="0.48" fill="#555"/>
<circle cx="351.2" cy="216.24" r="0.48" fill="#555"/>
<circle cx="348.47" cy="231.45" r="0.63" fill="#555"/>
<circle cx="360.51" cy="218.15" r="0.36" fill="#555"/>
<circle cx="336.42" cy="279.12" r="0.46" fill="#555"/>
<circle cx="314.69" cy="244.42" r="0.36" fill="#555"/>
<circle cx="315.03" cy="245.48" r="0.5" fill="#555"/>
<circle cx="315.79" cy="231.59" r="0.42" fill="#555"/>
<circle cx="330.95" cy="235.54" r="0.36" fill="#555"/>
<circle cx="356.23" cy="253.44" r="0.54" fill="#555"/>
<circle cx="312.64" cy="282.7" r="0.61" fill="#555"/>
<circle cx="308.29" cy="238.42" r="0.57" fill="#555"/>
<circle cx="347.78" cy="278.94" r="0.48" fill="#555"/>
<circle cx="355.73" cy="261.08" r="0.44" fill="#555"/>
<circle cx="339.51" cy="275.31" r="0.6" fill="#555"/>
<circle cx="334" cy="255.62" r="0.36" fill="#555"/>
<circle cx="316.44" cy="269.61" r="0.47" fill="#555"/>
<circle cx="311.77" cy="252.92" r="0.56" fill="#555"/>
<circle cx="345.32" cy="241.24" r="0.48" fill="#555"/>
<circle cx="334.21" cy="268.33" r="0.51" fill="#555"/>
<circle cx="326.51" cy="248.96" r="0.36" fill="#555"/>
<circle cx="303.11" cy="263.3" r="0.64" fill="#555"/>
<circle cx="339.88" cy="242.51" r="0.4" fill="#555"/>
<circle cx="333.8" cy="282" r="0.58" fill="#555"/>
<circle cx="336.3" cy="273.83" r="0.42" fill="#555"/>
<circle cx="334.57" cy="280.01" r="0.52" fill="#555"/>
<circle cx="330.92" cy="234.17" r="0.51" fill="#555"/>
<circle cx="363.32" cy="217.47" r="1.04" fill="#ff8c3c"/>
<circle cx="353.71" cy="250.87" r="0.87" fill="#2090e0"/>
<circle cx="362.84" cy="248.42" r="0.72" fill="#ff8c3c"/>
<circle cx="314.17" cy="249.96" r="0.81" fill="#ff8c3c"/>
<circle cx="328.1" cy="217.2" r="0.86" fill="#1e88e5"/>
<circle cx="322.69" cy="256.15" r="1.05" fill="#8a2be2"/>
<circle cx="336.94" cy="228.87" r="0.52" fill="#ff8c3c"/>
<circle cx="352.93" cy="270.25" r="0.64" fill="#ff2020"/>
<circle cx="322.7" cy="217.7" r="2.8" fill="#1e88e5"/>
<circle cx="349.5" cy="230.6" r="3" fill="#f22020"/>
<circle cx="298.7" cy="251.3" r="2.2" fill="#8a2be2"/>
<circle cx="310.5" cy="265" r="3" fill="#8a2be2"/>
<circle cx="339.3" cy="265.4" r="4.3" fill="#f22020"/>
<circle cx="337" cy="262" r="2.2" fill="#f22020"/>
<circle cx="346.7" cy="258.5" r="2.8" fill="#22d3b3"/>
<circle cx="349.5" cy="259.5" r="2" fill="#22d3b3"/>
<circle cx="349.4" cy="269.7" r="2.1" fill="#22d3b3"/>
<circle cx="353.5" cy="263.2" r="1.5" fill="#1e88e5"/>
<circle cx="321.5" cy="283" r="2.6" fill="#8a2be2"/>
<circle cx="327.7" cy="283.4" r="2.7" fill="#8a2be2"/>
<circle cx="324.5" cy="282" r="2" fill="#8a2be2"/>
<circle cx="334.3" cy="281.7" r="1.8" fill="#1e88e5"/>
<circle cx="312.4" cy="282.9" r="2" fill="#8fdc8f"/>
<circle cx="308.8" cy="236.6" r="1.7" fill="#22d3b3"/>
<circle cx="316.8" cy="243.4" r="1.5" fill="#8fdc8f"/>
<circle cx="312.5" cy="251.7" r="1.3" fill="#1e88e5"/>
<circle cx="326" cy="257.6" r="1.3" fill="#8fdc8f"/>
<circle cx="324.8" cy="270" r="1" fill="#8fdc8f"/>
<circle cx="348" cy="276.3" r="1" fill="#f22020"/>
<circle cx="348" cy="281.5" r="1.3" fill="#22d3b3"/>
<circle cx="347" cy="285" r="1.3" fill="#ff8f45"/>
<circle cx="322" cy="235.7" r="1.2" fill="#1e88e5"/>
<circle cx="356" cy="229.3" r="0.8" fill="#8a2be2"/>
<rect x="395.1" y="210.5" width="77.2" height="77.9" rx="19.5" fill="none" stroke="#929292" stroke-width="1.0"/>
<rect x="396.3" y="211.7" width="74.8" height="75.5" rx="18.5" fill="#8c8c8c" stroke="#262626" stroke-width="1.05"/>
<rect x="397.3" y="212.7" width="72.8" height="73.5" rx="17.5" fill="#fff" filter="url(#noise)" opacity="0.3"/>
<rect x="397.6" y="213" width="72.2" height="72.9" rx="17.5" fill="none" stroke="#ababab" stroke-width="1.1"/>
<circle cx="464.16" cy="279.68" r="0.37" fill="#555"/>
<circle cx="405.97" cy="272.1" r="0.57" fill="#555"/>
<circle cx="445.04" cy="236.5" r="0.53" fill="#555"/>
<circle cx="440.83" cy="254.93" r="0.4" fill="#555"/>
<circle cx="429.07" cy="242.26" r="0.57" fill="#555"/>
<circle cx="466.75" cy="279.78" r="0.51" fill="#555"/>
<circle cx="430.02" cy="233.81" r="0.36" fill="#555"/>
<circle cx="402.13" cy="247.08" r="0.45" fill="#555"/>
<circle cx="425.68" cy="275.9" r="0.51" fill="#555"/>
<circle cx="437.74" cy="231.64" r="0.36" fill="#555"/>
<circle cx="422.02" cy="224.93" r="0.5" fill="#555"/>
<circle cx="467.01" cy="261.23" r="0.4" fill="#555"/>
<circle cx="459.99" cy="269.48" r="0.57" fill="#555"/>
<circle cx="460.86" cy="267.19" r="0.59" fill="#555"/>
<circle cx="423.93" cy="281.92" r="0.64" fill="#555"/>
<circle cx="411.07" cy="266.6" r="0.56" fill="#555"/>
<circle cx="431.12" cy="251.5" r="0.5" fill="#555"/>
<circle cx="462.08" cy="249.51" r="0.6" fill="#555"/>
<circle cx="423.94" cy="275.29" r="0.62" fill="#555"/>
<circle cx="431.1" cy="254.02" r="0.63" fill="#555"/>
<circle cx="448.65" cy="248.55" r="0.42" fill="#555"/>
<circle cx="421.99" cy="262.92" r="0.4" fill="#555"/>
<circle cx="460.95" cy="233.8" r="0.62" fill="#555"/>
<circle cx="420.98" cy="280.32" r="0.56" fill="#555"/>
<circle cx="433.98" cy="250.65" r="0.55" fill="#555"/>
<circle cx="439.57" cy="236.75" r="0.41" fill="#555"/>
<circle cx="434.49" cy="278.76" r="0.54" fill="#555"/>
<circle cx="405.34" cy="271.08" r="0.57" fill="#555"/>
<circle cx="460.93" cy="228.62" r="0.57" fill="#555"/>
<circle cx="404.23" cy="259.77" r="0.43" fill="#555"/>
<circle cx="415.44" cy="274.8" r="0.38" fill="#555"/>
<circle cx="435.19" cy="273.34" r="0.42" fill="#555"/>
<circle cx="414.36" cy="275.14" r="0.48" fill="#555"/>
<circle cx="448.19" cy="217.85" r="0.46" fill="#555"/>
<circle cx="411.78" cy="261.11" r="0.37" fill="#555"/>
<circle cx="464.06" cy="217.41" r="0.57" fill="#555"/>
<circle cx="401.71" cy="232.96" r="0.59" fill="#555"/>
<circle cx="410.8" cy="228.1" r="0.56" fill="#555"/>
<circle cx="426.06" cy="218.61" r="0.65" fill="#555"/>
<circle cx="410.41" cy="218.15" r="0.45" fill="#555"/>
<circle cx="441.4" cy="265.82" r="0.38" fill="#555"/>
<circle cx="422.83" cy="217.78" r="0.48" fill="#555"/>
<circle cx="451.47" cy="265.65" r="0.62" fill="#555"/>
<circle cx="450.78" cy="273.92" r="0.56" fill="#555"/>
<circle cx="431.88" cy="230.92" r="0.55" fill="#555"/>
<circle cx="421.43" cy="222.59" r="0.48" fill="#555"/>
<circle cx="458.73" cy="224.31" r="0.53" fill="#555"/>
<circle cx="426.55" cy="250.45" r="0.39" fill="#555"/>
<circle cx="464.41" cy="233.19" r="0.53" fill="#555"/>
<circle cx="428.34" cy="216.92" r="0.52" fill="#555"/>
<circle cx="409.69" cy="219.53" r="0.36" fill="#555"/>
<circle cx="411.07" cy="222.17" r="0.54" fill="#555"/>
<circle cx="434.25" cy="282.08" r="0.63" fill="#555"/>
<circle cx="466.73" cy="231.39" r="0.48" fill="#555"/>
<circle cx="417.05" cy="255.61" r="0.54" fill="#555"/>
<circle cx="453.75" cy="263.59" r="0.43" fill="#555"/>
<circle cx="428.56" cy="251.22" r="0.35" fill="#555"/>
<circle cx="402.67" cy="243.29" r="0.38" fill="#555"/>
<circle cx="448.65" cy="231.96" r="0.38" fill="#555"/>
<circle cx="412.44" cy="231.33" r="0.42" fill="#555"/>
<circle cx="435.09" cy="247.05" r="0.44" fill="#555"/>
<circle cx="443.17" cy="230.04" r="0.62" fill="#555"/>
<circle cx="464.64" cy="264.9" r="0.48" fill="#555"/>
<circle cx="434.47" cy="254.92" r="0.37" fill="#555"/>
<circle cx="428.22" cy="251.14" r="0.4" fill="#555"/>
<circle cx="406.56" cy="269.88" r="0.46" fill="#555"/>
<circle cx="434.98" cy="277.9" r="0.53" fill="#555"/>
<circle cx="419.64" cy="282.09" r="0.46" fill="#555"/>
<circle cx="401.57" cy="261.96" r="0.38" fill="#555"/>
<circle cx="420.74" cy="272.44" r="0.55" fill="#555"/>
<circle cx="401.35" cy="246.17" r="0.47" fill="#555"/>
<circle cx="432.76" cy="229.76" r="0.53" fill="#555"/>
<circle cx="405.23" cy="234.89" r="0.46" fill="#555"/>
<circle cx="462.78" cy="220.87" r="0.58" fill="#555"/>
<circle cx="413.15" cy="254.28" r="0.47" fill="#555"/>
<circle cx="431.24" cy="266.57" r="0.47" fill="#555"/>
<circle cx="408.43" cy="223.92" r="0.37" fill="#555"/>
<circle cx="457.08" cy="258.97" r="0.64" fill="#555"/>
<circle cx="446.57" cy="217.37" r="0.55" fill="#555"/>
<circle cx="452.22" cy="264.54" r="0.5" fill="#555"/>
<circle cx="424.19" cy="246.55" r="0.59" fill="#555"/>
<circle cx="418.27" cy="251.23" r="0.49" fill="#555"/>
<circle cx="464.07" cy="269.99" r="0.63" fill="#555"/>
<circle cx="456.15" cy="235.73" r="0.42" fill="#555"/>
<circle cx="432.95" cy="233.21" r="0.48" fill="#555"/>
<circle cx="445.67" cy="277.7" r="0.53" fill="#555"/>
<circle cx="454.93" cy="222.18" r="0.46" fill="#555"/>
<circle cx="466.95" cy="225.59" r="0.48" fill="#555"/>
<circle cx="404.76" cy="221.52" r="0.62" fill="#555"/>
<circle cx="466.34" cy="259.45" r="0.39" fill="#555"/>
<circle cx="420.51" cy="231.88" r="0.95" fill="#ff8c3c"/>
<circle cx="429.74" cy="251.02" r="0.53" fill="#ff8c3c"/>
<circle cx="465.24" cy="280.16" r="0.77" fill="#ff8c3c"/>
<circle cx="434.77" cy="263.56" r="0.64" fill="#8a2be2"/>
<circle cx="431.17" cy="262.76" r="0.75" fill="#ff8c3c"/>
<circle cx="452.03" cy="254.26" r="0.56" fill="#20c8b0"/>
<circle cx="447.88" cy="269.74" r="0.74" fill="#8a2be2"/>
<circle cx="426.76" cy="220.21" r="0.66" fill="#88dd88"/>
<circle cx="447.34" cy="278.05" r="0.98" fill="#20c8b0"/>
<circle cx="424.63" cy="252.57" r="0.98" fill="#ff2020"/>
<circle cx="450.65" cy="272.51" r="0.62" fill="#1e88e5"/>
<circle cx="413.47" cy="270.17" r="0.74" fill="#1e88e5"/>
<circle cx="421.58" cy="250.99" r="1.13" fill="#20c8b0"/>
<circle cx="443.43" cy="270.15" r="0.46" fill="#20d0b0"/>
<circle cx="448.57" cy="256.42" r="1.13" fill="#ff2020"/>
<circle cx="426.57" cy="253.23" r="1.05" fill="#88dd88"/>
<circle cx="449.53" cy="255.1" r="0.59" fill="#1e88e5"/>
<circle cx="410.23" cy="256.81" r="0.78" fill="#88dd88"/>
<circle cx="434.57" cy="228.07" r="0.98" fill="#ff2020"/>
<circle cx="424" cy="276.02" r="0.85" fill="#ff2020"/>
<circle cx="450.2" cy="248.47" r="0.96" fill="#ff8c3c"/>
<circle cx="431.06" cy="274.18" r="0.8" fill="#ff2020"/>
<circle cx="441.05" cy="239.47" r="1.02" fill="#2090e0"/>
<circle cx="417.84" cy="257.65" r="1.08" fill="#8a2be2"/>
<circle cx="404.8" cy="249.42" r="1.19" fill="#88dd88"/>
<circle cx="411.4" cy="235.21" r="0.8" fill="#1e88e5"/>
<circle cx="425.05" cy="251.94" r="0.74" fill="#20c8b0"/>
<circle cx="414.55" cy="261.01" r="0.82" fill="#8a2be2"/>
<circle cx="432.65" cy="251.98" r="1.14" fill="#ff2020"/>
<circle cx="418.02" cy="237.21" r="0.7" fill="#88dd88"/>
<circle cx="443.64" cy="242.44" r="1.08" fill="#ff2020"/>
<circle cx="434.25" cy="230.5" r="0.9" fill="#8a2be2"/>
<circle cx="453" cy="257.89" r="0.68" fill="#20d0b0"/>
<circle cx="462.83" cy="253.47" r="0.84" fill="#1e88e5"/>
<circle cx="463.36" cy="224.03" r="1.06" fill="#2090e0"/>
<circle cx="456.81" cy="230.7" r="0.72" fill="#ff8c3c"/>
<circle cx="430.94" cy="227.61" r="0.78" fill="#88dd88"/>
<circle cx="431.18" cy="225.47" r="0.99" fill="#20d0b0"/>
<circle cx="461.54" cy="238.07" r="0.52" fill="#20d0b0"/>
<circle cx="431.68" cy="265.98" r="1.08" fill="#8a2be2"/>
<circle cx="424.38" cy="268.78" r="0.62" fill="#ff8c3c"/>
<circle cx="442.31" cy="242.92" r="1.07" fill="#ff8c3c"/>
<circle cx="419.49" cy="263.86" r="0.9" fill="#1e88e5"/>
<circle cx="446.01" cy="278.85" r="1.01" fill="#88dd88"/>
<circle cx="435.77" cy="258.42" r="0.5" fill="#88dd88"/>
<circle cx="426.91" cy="228.15" r="1.17" fill="#ff8c3c"/>
<circle cx="429.86" cy="222.44" r="1.14" fill="#ff8c3c"/>
<circle cx="463.55" cy="225.02" r="0.47" fill="#ff8c3c"/>
<circle cx="412.13" cy="221.75" r="1.11" fill="#2090e0"/>
<circle cx="401.84" cy="237.69" r="1.07" fill="#1e88e5"/>
<circle cx="426.57" cy="235.34" r="0.93" fill="#8a2be2"/>
<circle cx="424.62" cy="229.94" r="0.82" fill="#8a2be2"/>
<circle cx="452.1" cy="238.4" r="0.56" fill="#ff8c3c"/>
<circle cx="417.51" cy="239.15" r="0.63" fill="#20d0b0"/>
<circle cx="448.48" cy="219.77" r="1.16" fill="#1e88e5"/>
<circle cx="405.3" cy="226.13" r="1.09" fill="#2090e0"/>
<circle cx="430.05" cy="234.51" r="0.69" fill="#1e88e5"/>
<circle cx="456.08" cy="238.84" r="1.03" fill="#1e88e5"/>
<circle cx="463.34" cy="231.62" r="0.49" fill="#20c8b0"/>
<circle cx="433.04" cy="273.77" r="0.86" fill="#1e88e5"/>
<circle cx="440.02" cy="255.21" r="0.85" fill="#20c8b0"/>
<circle cx="465.38" cy="271.77" r="0.79" fill="#2090e0"/>
<circle cx="426.31" cy="246.35" r="1.11" fill="#20c8b0"/>
<circle cx="465.79" cy="225.1" r="1.15" fill="#ff8c3c"/>
<circle cx="460.6" cy="221.77" r="0.68" fill="#1e88e5"/>
<circle cx="417.69" cy="260.5" r="0.62" fill="#1e88e5"/>
<circle cx="410.82" cy="260.57" r="0.52" fill="#20c8b0"/>
<circle cx="404.52" cy="275.57" r="0.63" fill="#20c8b0"/>
<circle cx="410.34" cy="218.69" r="0.97" fill="#ff8c3c"/>
<circle cx="405.21" cy="229.77" r="1.14" fill="#ff8c3c"/>
<circle cx="423.18" cy="251.32" r="0.63" fill="#ff8c3c"/>
<circle cx="433.19" cy="225.33" r="0.54" fill="#ff2020"/>
<circle cx="431.52" cy="268.97" r="0.91" fill="#2090e0"/>
<circle cx="423.12" cy="259.12" r="0.75" fill="#ff8c3c"/>
<circle cx="434.16" cy="276.76" r="0.57" fill="#ff2020"/>
<circle cx="411.8" cy="219.5" r="2.2" fill="#f22020"/>
<circle cx="404.5" cy="224" r="1.8" fill="#f22020"/>
<circle cx="432" cy="224.8" r="2" fill="#1e88e5"/>
<circle cx="433" cy="233.5" r="1.8" fill="#8a2be2"/>
<circle cx="442.5" cy="240.5" r="1.6" fill="#1e88e5"/>
<circle cx="463" cy="248.5" r="2.8" fill="#f22020"/>
<circle cx="463" cy="252" r="1.4" fill="#f22020"/>
<circle cx="445.5" cy="253" r="1.8" fill="#8a2be2"/>
<circle cx="451" cy="253.5" r="1.6" fill="#22d3b3"/>
<circle cx="446.5" cy="260.5" r="1.8" fill="#22d3b3"/>
<circle cx="449.5" cy="260" r="1.3" fill="#22d3b3"/>
<circle cx="442" cy="263.5" r="1.8" fill="#f22020"/>
<circle cx="417.5" cy="263.5" r="1.6" fill="#8a2be2"/>
<circle cx="466.5" cy="266" r="1.8" fill="#ff8f45"/>
<circle cx="458.5" cy="268" r="1.8" fill="#8a2be2"/>
<circle cx="434.5" cy="274.5" r="1.6" fill="#22d3b3"/>
<circle cx="454.5" cy="284.5" r="2.2" fill="#1e88e5"/>
<circle cx="453.5" cy="215.5" r="2.2" fill="#ff8f45"/>
<circle cx="453" cy="221.5" r="1.6" fill="#ff8f45"/>
<circle cx="399" cy="246" r="1.8" fill="#ff8f45"/>
<circle cx="426" cy="253.5" r="1.5" fill="#1e88e5"/>
<circle cx="410" cy="265" r="1.6" fill="#8a2be2"/>
<circle cx="421" cy="268" r="1.3" fill="#22d3b3"/>
<rect x="497" y="210.1" width="76.1" height="77.2" rx="19.5" fill="none" stroke="#929292" stroke-width="1.0"/>
<rect x="498.2" y="211.3" width="73.7" height="74.8" rx="18.5" fill="#8c8c8c" stroke="#262626" stroke-width="1.05"/>
<rect x="499.2" y="212.3" width="71.7" height="72.8" rx="17.5" fill="#fff" filter="url(#noise)" opacity="0.3"/>
<rect x="499.5" y="212.6" width="71.1" height="72.2" rx="17.5" fill="none" stroke="#ababab" stroke-width="1.1"/>
<circle cx="517.83" cy="251.65" r="0.46" fill="#555"/>
<circle cx="541.88" cy="257.1" r="0.37" fill="#555"/>
<circle cx="503.07" cy="271.24" r="0.43" fill="#555"/>
<circle cx="517.6" cy="281.81" r="0.49" fill="#555"/>
<circle cx="557.16" cy="247.12" r="0.54" fill="#555"/>
<circle cx="512.1" cy="257.71" r="0.61" fill="#555"/>
<circle cx="536.57" cy="264.82" r="0.55" fill="#555"/>
<circle cx="506.41" cy="265.95" r="0.53" fill="#555"/>
<circle cx="521.99" cy="217.37" r="0.61" fill="#555"/>
<circle cx="533.26" cy="263.32" r="0.61" fill="#555"/>
<circle cx="549.12" cy="276.83" r="0.47" fill="#555"/>
<circle cx="554.82" cy="245" r="0.63" fill="#555"/>
<circle cx="559.94" cy="221.81" r="0.39" fill="#555"/>
<circle cx="516.46" cy="279.79" r="0.48" fill="#555"/>
<circle cx="543.37" cy="235.41" r="0.5" fill="#555"/>
<circle cx="527.55" cy="238.74" r="0.53" fill="#555"/>
<circle cx="540.59" cy="275.7" r="0.55" fill="#555"/>
<circle cx="563.23" cy="272.51" r="0.65" fill="#555"/>
<circle cx="546.3" cy="226.2" r="0.61" fill="#555"/>
<circle cx="565.58" cy="275.73" r="0.52" fill="#555"/>
<circle cx="549.1" cy="229.4" r="0.6" fill="#555"/>
<circle cx="539.88" cy="234.34" r="0.37" fill="#555"/>
<circle cx="558.3" cy="281.42" r="0.38" fill="#555"/>
<circle cx="554.8" cy="242.72" r="0.4" fill="#555"/>
<circle cx="521.51" cy="266.66" r="0.61" fill="#555"/>
<circle cx="505.1" cy="256.35" r="0.36" fill="#555"/>
<circle cx="549.4" cy="237.41" r="0.61" fill="#555"/>
<circle cx="566.63" cy="249.06" r="0.65" fill="#555"/>
<circle cx="522.55" cy="220.44" r="0.53" fill="#555"/>
<circle cx="504.26" cy="228.49" r="0.47" fill="#555"/>
<circle cx="542.31" cy="225.73" r="0.36" fill="#555"/>
<circle cx="559.21" cy="236.26" r="0.64" fill="#555"/>
<circle cx="561.11" cy="240.54" r="0.49" fill="#555"/>
<circle cx="536.37" cy="258.31" r="0.53" fill="#555"/>
<circle cx="538.94" cy="256.72" r="0.63" fill="#555"/>
<circle cx="535.51" cy="244.1" r="0.57" fill="#555"/>
<circle cx="517.81" cy="235.41" r="0.64" fill="#555"/>
<circle cx="536.44" cy="251.94" r="0.35" fill="#555"/>
<circle cx="529.48" cy="254.04" r="0.36" fill="#555"/>
<circle cx="542.66" cy="257.53" r="0.37" fill="#555"/>
<circle cx="543.42" cy="246.45" r="0.55" fill="#555"/>
<circle cx="525.36" cy="262.52" r="0.57" fill="#555"/>
<circle cx="503.66" cy="219.35" r="0.55" fill="#555"/>
<circle cx="565.49" cy="232.07" r="0.49" fill="#555"/>
<circle cx="541.14" cy="236.68" r="0.46" fill="#555"/>
<circle cx="522.74" cy="239.96" r="0.53" fill="#555"/>
<circle cx="521.94" cy="240.49" r="0.58" fill="#555"/>
<circle cx="503.97" cy="253.33" r="0.57" fill="#555"/>
<circle cx="522.57" cy="230.17" r="0.59" fill="#555"/>
<circle cx="517.88" cy="227.82" r="0.48" fill="#555"/>
<circle cx="548.06" cy="222.1" r="0.45" fill="#555"/>
<circle cx="524.13" cy="270.98" r="0.48" fill="#555"/>
<circle cx="558.41" cy="226.61" r="0.45" fill="#555"/>
<circle cx="544.92" cy="274.41" r="0.49" fill="#555"/>
<circle cx="516.98" cy="223.38" r="0.51" fill="#555"/>
<circle cx="514.74" cy="269.19" r="0.6" fill="#555"/>
<circle cx="514.26" cy="233.91" r="0.59" fill="#555"/>
<circle cx="544.38" cy="269.16" r="0.45" fill="#555"/>
<circle cx="510.72" cy="234.8" r="0.59" fill="#555"/>
<circle cx="520.02" cy="238.44" r="0.48" fill="#555"/>
<circle cx="529.78" cy="242.66" r="0.63" fill="#555"/>
<circle cx="512.45" cy="215.61" r="0.63" fill="#555"/>
<circle cx="560.01" cy="281.23" r="0.48" fill="#555"/>
<circle cx="564.63" cy="277.25" r="0.42" fill="#555"/>
<circle cx="551.18" cy="271.19" r="0.55" fill="#555"/>
<circle cx="536.3" cy="234.61" r="0.45" fill="#555"/>
<circle cx="517.14" cy="219.85" r="0.53" fill="#555"/>
<circle cx="521.06" cy="269.42" r="0.36" fill="#555"/>
<circle cx="561.57" cy="261.64" r="0.63" fill="#555"/>
<circle cx="561.1" cy="275.4" r="0.52" fill="#555"/>
<circle cx="503.06" cy="265.09" r="0.4" fill="#555"/>
<circle cx="521.9" cy="259.58" r="0.51" fill="#555"/>
<circle cx="529.38" cy="278.03" r="0.53" fill="#555"/>
<circle cx="524.63" cy="232.17" r="0.61" fill="#555"/>
<circle cx="533.55" cy="267.56" r="0.46" fill="#555"/>
<circle cx="515.16" cy="251.01" r="0.6" fill="#555"/>
<circle cx="513.45" cy="268.18" r="0.63" fill="#555"/>
<circle cx="555.16" cy="270.31" r="0.35" fill="#555"/>
<circle cx="543.5" cy="272.92" r="0.36" fill="#555"/>
<circle cx="520.03" cy="233.24" r="0.51" fill="#555"/>
<circle cx="529.99" cy="246.89" r="0.58" fill="#555"/>
<circle cx="502.32" cy="218.96" r="0.39" fill="#555"/>
<circle cx="510.39" cy="219.87" r="0.64" fill="#555"/>
<circle cx="558.34" cy="221.05" r="0.5" fill="#555"/>
<circle cx="522.95" cy="236.31" r="0.46" fill="#555"/>
<circle cx="544.7" cy="254.49" r="0.46" fill="#555"/>
<circle cx="514.75" cy="237.26" r="0.39" fill="#555"/>
<circle cx="538.7" cy="263.13" r="0.46" fill="#555"/>
<circle cx="507.45" cy="227.23" r="0.46" fill="#555"/>
<circle cx="541.91" cy="267.58" r="0.46" fill="#555"/>
<circle cx="554.84" cy="256.91" r="0.48" fill="#555"/>
<circle cx="526.67" cy="248.44" r="0.56" fill="#555"/>
<circle cx="529.83" cy="261.67" r="0.49" fill="#555"/>
<circle cx="518.3" cy="251.09" r="0.56" fill="#555"/>
<circle cx="506.9" cy="243.68" r="0.48" fill="#555"/>
<circle cx="559.99" cy="277.86" r="0.46" fill="#555"/>
<circle cx="561.19" cy="268.13" r="0.43" fill="#555"/>
<circle cx="532.69" cy="223.53" r="0.59" fill="#555"/>
<circle cx="545.71" cy="274.57" r="0.59" fill="#555"/>
<circle cx="546.06" cy="264.31" r="0.52" fill="#555"/>
<circle cx="509.77" cy="254.39" r="0.45" fill="#8a2be2"/>
<circle cx="518.23" cy="241.49" r="0.85" fill="#1e88e5"/>
<circle cx="509.53" cy="273.35" r="0.58" fill="#1e88e5"/>
<circle cx="524.95" cy="271.53" r="0.47" fill="#ff2020"/>
<circle cx="546.1" cy="270.48" r="1.16" fill="#1e88e5"/>
<circle cx="522.27" cy="222.05" r="1.2" fill="#1e88e5"/>
<circle cx="535.77" cy="262.64" r="0.53" fill="#ff2020"/>
<circle cx="562.73" cy="220.26" r="0.69" fill="#1e88e5"/>
<circle cx="514.69" cy="221.31" r="1.2" fill="#20d0b0"/>
<circle cx="532.13" cy="261.67" r="1.16" fill="#88dd88"/>
<circle cx="526.61" cy="242" r="0.71" fill="#2090e0"/>
<circle cx="564.75" cy="240.62" r="0.63" fill="#2090e0"/>
<circle cx="556.94" cy="278.97" r="0.76" fill="#1e88e5"/>
<circle cx="551.36" cy="259.97" r="0.84" fill="#20c8b0"/>
<circle cx="513.15" cy="242.29" r="1.12" fill="#8a2be2"/>
<circle cx="509.31" cy="264.78" r="1.14" fill="#ff8c3c"/>
<circle cx="563.76" cy="254.3" r="1.09" fill="#8a2be2"/>
<circle cx="520.23" cy="229.21" r="0.89" fill="#ff8c3c"/>
<circle cx="562.75" cy="271.48" r="0.85" fill="#88dd88"/>
<circle cx="545.97" cy="271.72" r="0.9" fill="#1e88e5"/>
<circle cx="540.44" cy="233.61" r="0.61" fill="#1e88e5"/>
<circle cx="520.28" cy="268.41" r="0.6" fill="#1e88e5"/>
<circle cx="526.16" cy="237.17" r="1.03" fill="#8a2be2"/>
<circle cx="529.85" cy="261.5" r="0.98" fill="#20d0b0"/>
<circle cx="533.01" cy="270.38" r="1.07" fill="#ff8c3c"/>
<circle cx="504.97" cy="280.63" r="0.5" fill="#2090e0"/>
<circle cx="553.08" cy="273.44" r="0.48" fill="#20d0b0"/>
<circle cx="559.96" cy="258.31" r="1.03" fill="#ff2020"/>
<circle cx="564.27" cy="271.63" r="0.63" fill="#20d0b0"/>
<circle cx="552.62" cy="225.21" r="0.92" fill="#1e88e5"/>
<circle cx="560.51" cy="232.82" r="1.1" fill="#ff8c3c"/>
<circle cx="514.87" cy="222.19" r="1.05" fill="#ff2020"/>
<circle cx="509.1" cy="270.34" r="0.67" fill="#ff8c3c"/>
<circle cx="532.02" cy="263.87" r="0.7" fill="#1e88e5"/>
<circle cx="524.53" cy="244.57" r="0.81" fill="#20d0b0"/>
<circle cx="544.24" cy="264.41" r="0.82" fill="#8a2be2"/>
<circle cx="537.88" cy="224.02" r="0.66" fill="#2090e0"/>
<circle cx="510.37" cy="273.79" r="1.13" fill="#ff2020"/>
<circle cx="536.81" cy="261.71" r="0.96" fill="#ff8c3c"/>
<circle cx="551.44" cy="235.45" r="0.96" fill="#88dd88"/>
<circle cx="510.03" cy="277.5" r="0.7" fill="#1e88e5"/>
<circle cx="537.35" cy="223.64" r="0.82" fill="#ff8c3c"/>
<circle cx="506.99" cy="235.38" r="1" fill="#8a2be2"/>
<circle cx="544.34" cy="263.62" r="0.56" fill="#ff8c3c"/>
<circle cx="559.89" cy="258.77" r="0.54" fill="#ff8c3c"/>
<circle cx="512.21" cy="237.78" r="0.99" fill="#1e88e5"/>
<circle cx="529.96" cy="235.78" r="0.59" fill="#20c8b0"/>
<circle cx="523.1" cy="227.73" r="0.5" fill="#8a2be2"/>
<circle cx="551.26" cy="251.5" r="1" fill="#ff8c3c"/>
<circle cx="509.56" cy="233.85" r="0.49" fill="#8a2be2"/>
<circle cx="505.88" cy="249.01" r="0.64" fill="#ff8c3c"/>
<circle cx="525.76" cy="237.87" r="0.75" fill="#ff8c3c"/>
<circle cx="554.74" cy="220.79" r="0.82" fill="#ff2020"/>
<circle cx="512.86" cy="254.54" r="0.96" fill="#1e88e5"/>
<circle cx="552.82" cy="263.43" r="0.59" fill="#20d0b0"/>
<circle cx="539.32" cy="259.73" r="0.74" fill="#8a2be2"/>
<circle cx="540.91" cy="225.79" r="0.75" fill="#20d0b0"/>
<circle cx="537.9" cy="227.34" r="0.58" fill="#88dd88"/>
<circle cx="526.74" cy="235.29" r="1.08" fill="#20c8b0"/>
<circle cx="559.97" cy="277.82" r="0.74" fill="#ff8c3c"/>
<circle cx="560.92" cy="236.36" r="0.82" fill="#ff8c3c"/>
<circle cx="546.94" cy="235.7" r="1.1" fill="#20c8b0"/>
<circle cx="505.12" cy="228.64" r="0.93" fill="#ff2020"/>
<circle cx="552.28" cy="259.19" r="0.82" fill="#ff8c3c"/>
<circle cx="543.01" cy="229.19" r="1.04" fill="#20d0b0"/>
<circle cx="505.56" cy="248.73" r="0.93" fill="#20c8b0"/>
<circle cx="510.31" cy="234.65" r="0.94" fill="#8a2be2"/>
<circle cx="511.84" cy="267.65" r="0.92" fill="#1e88e5"/>
<circle cx="504.83" cy="256.37" r="0.83" fill="#20c8b0"/>
<circle cx="537.53" cy="276.55" r="0.69" fill="#ff8c3c"/>
<circle cx="547.45" cy="225.01" r="1.09" fill="#1e88e5"/>
<circle cx="552.59" cy="218.5" r="0.51" fill="#ff8c3c"/>
<circle cx="566.76" cy="229.59" r="0.5" fill="#20d0b0"/>
<circle cx="531.04" cy="265.34" r="0.81" fill="#ff2020"/>
<circle cx="553.32" cy="242.77" r="1.08" fill="#8a2be2"/>
<circle cx="528.14" cy="246.97" r="0.5" fill="#2090e0"/>
<circle cx="516.47" cy="247.99" r="0.47" fill="#20c8b0"/>
<circle cx="551.43" cy="242.31" r="0.59" fill="#1e88e5"/>
<circle cx="549.04" cy="240.08" r="0.73" fill="#ff8c3c"/>
<circle cx="526.23" cy="242.34" r="1.18" fill="#20d0b0"/>
<circle cx="519.68" cy="240.25" r="1.09" fill="#ff8c3c"/>
<circle cx="515.64" cy="229.86" r="0.58" fill="#2090e0"/>
<circle cx="535.28" cy="257.56" r="0.55" fill="#1e88e5"/>
<circle cx="513.92" cy="248.07" r="0.49" fill="#1e88e5"/>
<circle cx="528.88" cy="236.9" r="0.47" fill="#1e88e5"/>
<circle cx="518.44" cy="218.84" r="0.82" fill="#20d0b0"/>
<circle cx="518.59" cy="241.51" r="0.59" fill="#ff8c3c"/>
<circle cx="542.85" cy="238.74" r="0.54" fill="#1e88e5"/>
<circle cx="554.64" cy="235.14" r="1.19" fill="#20c8b0"/>
<circle cx="553.48" cy="278.62" r="0.82" fill="#ff8c3c"/>
<circle cx="520.13" cy="269.09" r="0.92" fill="#ff8c3c"/>
<circle cx="523.4" cy="219.98" r="0.78" fill="#ff2020"/>
<circle cx="540.93" cy="216.54" r="0.47" fill="#ff2020"/>
<circle cx="504.42" cy="248.9" r="0.81" fill="#20d0b0"/>
<circle cx="544.88" cy="274.64" r="0.6" fill="#20c8b0"/>
<circle cx="524.86" cy="247.32" r="0.71" fill="#1e88e5"/>
<circle cx="527.55" cy="265" r="0.92" fill="#2090e0"/>
<circle cx="508.79" cy="235.31" r="1.09" fill="#ff2020"/>
<circle cx="535.53" cy="251.76" r="0.85" fill="#2090e0"/>
<circle cx="514.32" cy="264.24" r="1" fill="#ff8c3c"/>
<circle cx="526.08" cy="228.22" r="1.05" fill="#20c8b0"/>
<circle cx="517.81" cy="266.81" r="0.81" fill="#88dd88"/>
<circle cx="555.49" cy="249.16" r="1.01" fill="#2090e0"/>
<circle cx="563.68" cy="219.07" r="0.58" fill="#1e88e5"/>
<circle cx="555.61" cy="222.26" r="0.97" fill="#ff2020"/>
<circle cx="523.59" cy="255.22" r="1.05" fill="#1e88e5"/>
<circle cx="559.16" cy="272.82" r="0.79" fill="#ff8c3c"/>
<circle cx="566.71" cy="216.41" r="0.6" fill="#ff2020"/>
<circle cx="524.76" cy="236.47" r="0.79" fill="#20d0b0"/>
<circle cx="518.53" cy="219.46" r="0.56" fill="#8a2be2"/>
<circle cx="505.6" cy="234.5" r="3.5" fill="#1e88e5"/>
<circle cx="509" cy="221.5" r="1.8" fill="#1e88e5"/>
<circle cx="511" cy="219.8" r="1.6" fill="#1e88e5"/>
<circle cx="525" cy="232.5" r="2.3" fill="#f22020"/>
<circle cx="528.5" cy="234.5" r="2" fill="#f22020"/>
<circle cx="536.5" cy="233.9" r="1.8" fill="#f22020"/>
<circle cx="544" cy="240" r="2.8" fill="#ff8f45"/>
<circle cx="540" cy="243" r="2.2" fill="#ff8f45"/>
<circle cx="538.5" cy="245.5" r="1.6" fill="#ff8f45"/>
<circle cx="548" cy="241" r="1.5" fill="#ff8f45"/>
<circle cx="501.5" cy="241" r="2" fill="#ff8f45"/>
<circle cx="501.5" cy="251" r="1.7" fill="#ff8f45"/>
<circle cx="508.2" cy="253" r="3" fill="#8fdc8f"/>
<circle cx="512" cy="255.6" r="2.8" fill="#8fdc8f"/>
<circle cx="562.5" cy="247.5" r="2.6" fill="#1e88e5"/>
<circle cx="559.5" cy="249.5" r="1.8" fill="#1e88e5"/>
<circle cx="568" cy="253" r="2" fill="#8fdc8f"/>
<circle cx="506" cy="268.5" r="3.2" fill="#22d3b3"/>
<circle cx="510.5" cy="265" r="2.4" fill="#22d3b3"/>
<circle cx="510.5" cy="274" r="3" fill="#22d3b3"/>
<circle cx="509" cy="276" r="2.2" fill="#22d3b3"/>
<circle cx="516.5" cy="276.5" r="2.4" fill="#8fdc8f"/>
<circle cx="529.7" cy="278" r="3.8" fill="#1e88e5"/>
<circle cx="527" cy="281.5" r="2.4" fill="#1e88e5"/>
<circle cx="537.4" cy="281" r="2.4" fill="#1e88e5"/>
<circle cx="548.6" cy="280.8" r="2" fill="#22d3b3"/>
<circle cx="557.6" cy="278" r="3.1" fill="#ff8f45"/>
<circle cx="558" cy="282" r="2.3" fill="#ff8f45"/>
<circle cx="563.5" cy="268.6" r="3.1" fill="#f22020"/>
<circle cx="567" cy="266.5" r="1.8" fill="#f22020"/>
<circle cx="533" cy="262.5" r="2" fill="#8fdc8f"/>
<circle cx="553" cy="259.5" r="2" fill="#8fdc8f"/>
<circle cx="555" cy="263" r="1.4" fill="#8fdc8f"/>
<circle cx="532" cy="269" r="1.8" fill="#ff8f45"/>
<circle cx="523.5" cy="251.5" r="1.5" fill="#8a2be2"/>
<circle cx="548" cy="217" r="1.8" fill="#1e88e5"/>
<circle cx="545" cy="218.5" r="1.3" fill="#1e88e5"/>
<circle cx="560.5" cy="220.6" r="1.3" fill="#f22020"/>
<circle cx="559" cy="239" r="1.5" fill="#8a2be2"/>
<circle cx="533" cy="231" r="1.3" fill="#1e88e5"/>
<circle cx="565.5" cy="229.5" r="1" fill="#8a2be2"/>
<circle cx="556" cy="223.5" r="1.3" fill="#8a2be2"/>
<circle cx="526" cy="227.5" r="1.4" fill="#8a2be2"/>
<rect x="596.4" y="208" width="79.4" height="78.6" rx="19.5" fill="none" stroke="#929292" stroke-width="1.0"/>
<rect x="597.6" y="209.2" width="77" height="76.2" rx="18.5" fill="#8c8c8c" stroke="#262626" stroke-width="1.05"/>
<rect x="598.6" y="210.2" width="75" height="74.2" rx="17.5" fill="#fff" filter="url(#noise)" opacity="0.3"/>
<rect x="598.9" y="210.5" width="74.4" height="73.6" rx="17.5" fill="none" stroke="#ababab" stroke-width="1.1"/>
<circle cx="617.89" cy="220.24" r="0.47" fill="#555"/>
<circle cx="612.29" cy="217.74" r="0.47" fill="#555"/>
<circle cx="664.94" cy="267.79" r="0.58" fill="#555"/>
<circle cx="616.91" cy="249.8" r="0.43" fill="#555"/>
<circle cx="613.51" cy="220.44" r="0.41" fill="#555"/>
<circle cx="665.6" cy="269.73" r="0.59" fill="#555"/>
<circle cx="656.83" cy="226.39" r="0.44" fill="#555"/>
<circle cx="644.86" cy="263.12" r="0.61" fill="#555"/>
<circle cx="662.32" cy="219.11" r="0.53" fill="#555"/>
<circle cx="647.95" cy="247.71" r="0.4" fill="#555"/>
<circle cx="634.28" cy="219.29" r="0.63" fill="#555"/>
<circle cx="661.32" cy="250.55" r="0.44" fill="#555"/>
<circle cx="664.31" cy="252.24" r="0.61" fill="#555"/>
<circle cx="660.12" cy="247.87" r="0.47" fill="#555"/>
<circle cx="642.92" cy="242.6" r="0.4" fill="#555"/>
<circle cx="622.65" cy="268.62" r="0.36" fill="#555"/>
<circle cx="604.8" cy="255.92" r="0.43" fill="#555"/>
<circle cx="638.49" cy="245.34" r="0.45" fill="#555"/>
<circle cx="670.41" cy="226.54" r="0.47" fill="#555"/>
<circle cx="615.58" cy="256.35" r="0.43" fill="#555"/>
<circle cx="626.15" cy="264.14" r="0.45" fill="#555"/>
<circle cx="640.14" cy="274.87" r="0.38" fill="#555"/>
<circle cx="605.85" cy="228.81" r="0.58" fill="#555"/>
<circle cx="644.06" cy="229.39" r="0.45" fill="#555"/>
<circle cx="613.85" cy="244.51" r="0.36" fill="#555"/>
<circle cx="649.71" cy="274.3" r="0.64" fill="#555"/>
<circle cx="652.31" cy="278.66" r="0.36" fill="#555"/>
<circle cx="621.54" cy="279.08" r="0.58" fill="#555"/>
<circle cx="629.92" cy="277.53" r="0.54" fill="#555"/>
<circle cx="658.04" cy="233.21" r="0.41" fill="#555"/>
<circle cx="632.36" cy="223.23" r="0.74" fill="#8a2be2"/>
<circle cx="624.8" cy="214.82" r="0.48" fill="#8a2be2"/>
<circle cx="627.07" cy="267.45" r="1.2" fill="#1e88e5"/>
<circle cx="609.11" cy="279.19" r="0.77" fill="#20d0b0"/>
<circle cx="610.21" cy="218.32" r="1" fill="#1e88e5"/>
<circle cx="647.95" cy="224.11" r="0.48" fill="#20c8b0"/>
<circle cx="641.64" cy="235.48" r="0.48" fill="#ff8c3c"/>
<circle cx="622.22" cy="280.2" r="0.94" fill="#20d0b0"/>
<circle cx="636" cy="219.6" r="1.8" fill="#22d3b3"/>
<circle cx="620" cy="226.5" r="1.5" fill="#8fdc8f"/>
<circle cx="637" cy="226.8" r="1" fill="#ff8f45"/>
<circle cx="651" cy="231.8" r="1.8" fill="#22d3b3"/>
<circle cx="615.5" cy="236.6" r="1.5" fill="#f22020"/>
<circle cx="633" cy="240" r="1" fill="#1e88e5"/>
<circle cx="643.5" cy="241" r="1" fill="#22d3b3"/>
<circle cx="657.2" cy="244.7" r="1.3" fill="#f22020"/>
<circle cx="606.5" cy="253.3" r="1.8" fill="#ff8f45"/>
<circle cx="653" cy="258.9" r="1.3" fill="#8a2be2"/>
<circle cx="664.5" cy="260" r="1.3" fill="#1e88e5"/>
<circle cx="654.6" cy="269" r="1.8" fill="#22d3b3"/>
<circle cx="631.4" cy="269.4" r="1.8" fill="#8fdc8f"/>
<circle cx="617.5" cy="270.4" r="1" fill="#f22020"/>
<circle cx="621.6" cy="269.7" r="1" fill="#ff8f45"/>
<circle cx="623" cy="274.2" r="0.8" fill="#8fdc8f"/>
<circle cx="614" cy="265" r="0.8" fill="#f22020"/>
<rect x="296.2" y="295.6" width="75" height="73.8" rx="19.5" fill="none" stroke="#929292" stroke-width="1.0"/>
<rect x="297.4" y="296.8" width="72.6" height="71.4" rx="18.5" fill="#8c8c8c" stroke="#262626" stroke-width="1.05"/>
<rect x="298.4" y="297.8" width="70.6" height="69.4" rx="17.5" fill="#fff" filter="url(#noise)" opacity="0.3"/>
<rect x="298.7" y="298.1" width="70" height="68.8" rx="17.5" fill="none" stroke="#ababab" stroke-width="1.1"/>
<circle cx="341.64" cy="347.83" r="0.59" fill="#555"/>
<circle cx="362.28" cy="347.71" r="0.63" fill="#555"/>
<circle cx="303.27" cy="330.32" r="0.63" fill="#555"/>
<circle cx="343.32" cy="357.92" r="0.38" fill="#555"/>
<circle cx="331.7" cy="316.43" r="0.51" fill="#555"/>
<circle cx="338.48" cy="301.63" r="0.42" fill="#555"/>
<circle cx="319.45" cy="358.9" r="0.58" fill="#555"/>
<circle cx="311.71" cy="351.34" r="0.39" fill="#555"/>
<circle cx="341.29" cy="308.83" r="0.35" fill="#555"/>
<circle cx="357.69" cy="314.08" r="0.41" fill="#555"/>
<circle cx="364.86" cy="356.11" r="0.44" fill="#555"/>
<circle cx="363.51" cy="334.99" r="0.55" fill="#555"/>
<circle cx="314.63" cy="360.46" r="0.56" fill="#555"/>
<circle cx="363.84" cy="357.46" r="0.44" fill="#555"/>
<circle cx="324.73" cy="311.32" r="0.39" fill="#555"/>
<circle cx="305.61" cy="319.91" r="0.53" fill="#555"/>
<circle cx="301.62" cy="343.78" r="0.45" fill="#555"/>
<circle cx="321.42" cy="352.69" r="0.49" fill="#555"/>
<circle cx="321.8" cy="331.31" r="0.56" fill="#555"/>
<circle cx="305.08" cy="362.62" r="0.36" fill="#555"/>
<circle cx="349.84" cy="354.37" r="0.36" fill="#555"/>
<circle cx="352.29" cy="324.02" r="0.52" fill="#555"/>
<circle cx="301.99" cy="303.76" r="0.4" fill="#555"/>
<circle cx="363.1" cy="313.26" r="0.58" fill="#555"/>
<circle cx="361.46" cy="360.53" r="0.45" fill="#555"/>
<circle cx="324.61" cy="334.02" r="1.03" fill="#ff2020"/>
<circle cx="302.5" cy="314.3" r="1.4" fill="#1e88e5"/>
<circle cx="333.6" cy="358.7" r="1.2" fill="#1e88e5"/>
<circle cx="324" cy="367" r="1" fill="#8a2be2"/>
<circle cx="352.5" cy="367.5" r="1.2" fill="#22d3b3"/>
<circle cx="305" cy="360.5" r="0.9" fill="#22d3b3"/>
<circle cx="315" cy="361.5" r="0.8" fill="#8fdc8f"/>
<circle cx="325.5" cy="348.5" r="0.8" fill="#f22020"/>
<circle cx="351.5" cy="342.5" r="0.8" fill="#ff8f45"/>
<rect x="397.4" y="295.1" width="76.1" height="74.3" rx="19.5" fill="none" stroke="#929292" stroke-width="1.0"/>
<rect x="398.6" y="296.3" width="73.7" height="71.9" rx="18.5" fill="#8c8c8c" stroke="#262626" stroke-width="1.05"/>
<rect x="399.6" y="297.3" width="71.7" height="69.9" rx="17.5" fill="#fff" filter="url(#noise)" opacity="0.3"/>
<rect x="399.9" y="297.6" width="71.1" height="69.3" rx="17.5" fill="none" stroke="#ababab" stroke-width="1.1"/>
<circle cx="454.72" cy="352.82" r="0.5" fill="#555"/>
<circle cx="419.79" cy="300.33" r="0.55" fill="#555"/>
<circle cx="433.5" cy="348.85" r="0.46" fill="#555"/>
<circle cx="453.2" cy="317.73" r="0.59" fill="#555"/>
<circle cx="450.55" cy="326.76" r="0.51" fill="#555"/>
<circle cx="447.41" cy="312.63" r="0.52" fill="#555"/>
<circle cx="455.5" cy="317.27" r="0.59" fill="#555"/>
<circle cx="447.65" cy="354.25" r="0.45" fill="#555"/>
<circle cx="408.72" cy="351.44" r="0.59" fill="#555"/>
<circle cx="431.85" cy="306.29" r="0.41" fill="#555"/>
<circle cx="444.31" cy="318.91" r="0.64" fill="#555"/>
<circle cx="441.27" cy="313.14" r="0.55" fill="#555"/>
<circle cx="426.28" cy="359.9" r="0.62" fill="#555"/>
<circle cx="436.41" cy="341.49" r="0.56" fill="#555"/>
<circle cx="455.52" cy="362.69" r="0.36" fill="#555"/>
<circle cx="426.34" cy="338.75" r="0.44" fill="#555"/>
<circle cx="441.31" cy="306.03" r="0.61" fill="#555"/>
<circle cx="437.11" cy="307.77" r="0.55" fill="#555"/>
<circle cx="423.12" cy="312.84" r="0.5" fill="#555"/>
<circle cx="411.67" cy="313.71" r="0.61" fill="#555"/>
<circle cx="448.47" cy="301.1" r="0.58" fill="#555"/>
<circle cx="403.72" cy="321.57" r="0.62" fill="#555"/>
<circle cx="443.35" cy="319.86" r="0.46" fill="#555"/>
<circle cx="428.17" cy="308.4" r="0.65" fill="#555"/>
<circle cx="406.14" cy="327.32" r="0.57" fill="#555"/>
<circle cx="428.73" cy="362.98" r="0.42" fill="#555"/>
<circle cx="466.94" cy="357.32" r="0.55" fill="#555"/>
<circle cx="461.04" cy="328.88" r="0.6" fill="#555"/>
<circle cx="454.9" cy="333.32" r="0.49" fill="#555"/>
<circle cx="448.96" cy="326.44" r="0.38" fill="#555"/>
<circle cx="451.65" cy="317.29" r="0.5" fill="#555"/>
<circle cx="454.11" cy="311.3" r="0.36" fill="#555"/>
<circle cx="410.71" cy="337.96" r="0.46" fill="#555"/>
<circle cx="419.44" cy="329.15" r="0.63" fill="#555"/>
<circle cx="419.34" cy="326.54" r="0.61" fill="#555"/>
<circle cx="442.82" cy="317.42" r="0.49" fill="#555"/>
<circle cx="434.04" cy="309.39" r="0.46" fill="#555"/>
<circle cx="422.68" cy="351.72" r="0.45" fill="#555"/>
<circle cx="445.91" cy="362.33" r="0.63" fill="#555"/>
<circle cx="427.31" cy="338.83" r="0.45" fill="#555"/>
<circle cx="428.77" cy="331.48" r="0.59" fill="#555"/>
<circle cx="464.14" cy="318.88" r="0.35" fill="#555"/>
<circle cx="432.12" cy="303.95" r="0.36" fill="#555"/>
<circle cx="453.42" cy="307.47" r="0.57" fill="#555"/>
<circle cx="426.38" cy="360.27" r="0.61" fill="#555"/>
<circle cx="406.69" cy="312.61" r="0.63" fill="#555"/>
<circle cx="442.9" cy="327.27" r="0.58" fill="#555"/>
<circle cx="456.05" cy="331.72" r="0.49" fill="#555"/>
<circle cx="409.18" cy="323.43" r="0.39" fill="#555"/>
<circle cx="443.7" cy="339.06" r="0.39" fill="#555"/>
<circle cx="443.86" cy="306.52" r="0.38" fill="#555"/>
<circle cx="445.01" cy="329.87" r="0.62" fill="#555"/>
<circle cx="443.94" cy="345.12" r="0.39" fill="#555"/>
<circle cx="457.31" cy="305.64" r="0.54" fill="#555"/>
<circle cx="462.48" cy="358.3" r="0.62" fill="#555"/>
<circle cx="432.3" cy="344.63" r="0.59" fill="#555"/>
<circle cx="411.61" cy="360.58" r="0.62" fill="#555"/>
<circle cx="431.57" cy="350.05" r="0.48" fill="#555"/>
<circle cx="420.76" cy="345.83" r="0.37" fill="#555"/>
<circle cx="455.17" cy="362.8" r="0.44" fill="#555"/>
<circle cx="464.34" cy="305.65" r="0.61" fill="#555"/>
<circle cx="420.98" cy="362.04" r="0.48" fill="#555"/>
<circle cx="463.19" cy="302.34" r="0.38" fill="#555"/>
<circle cx="456.24" cy="341.1" r="0.51" fill="#555"/>
<circle cx="404.75" cy="311.37" r="0.46" fill="#555"/>
<circle cx="406.02" cy="363.76" r="0.58" fill="#555"/>
<circle cx="465" cy="345.07" r="0.45" fill="#555"/>
<circle cx="407.7" cy="347.04" r="0.38" fill="#555"/>
<circle cx="438.55" cy="329.95" r="0.5" fill="#555"/>
<circle cx="407.54" cy="305.03" r="0.51" fill="#555"/>
<circle cx="404.6" cy="333.87" r="0.4" fill="#555"/>
<circle cx="421.11" cy="309.95" r="0.52" fill="#555"/>
<circle cx="428.11" cy="314.55" r="0.42" fill="#555"/>
<circle cx="439.66" cy="358.49" r="0.48" fill="#555"/>
<circle cx="413.32" cy="320.52" r="0.42" fill="#555"/>
<circle cx="440.2" cy="350.55" r="0.52" fill="#555"/>
<circle cx="414.96" cy="321.08" r="0.46" fill="#555"/>
<circle cx="431.57" cy="325.7" r="0.65" fill="#555"/>
<circle cx="438.8" cy="342.61" r="0.56" fill="#555"/>
<circle cx="444.99" cy="351.76" r="0.46" fill="#555"/>
<circle cx="446.39" cy="362.45" r="0.4" fill="#555"/>
<circle cx="443.69" cy="324.88" r="0.37" fill="#555"/>
<circle cx="405.22" cy="348.8" r="0.38" fill="#555"/>
<circle cx="449.32" cy="306.7" r="0.46" fill="#555"/>
<circle cx="404.71" cy="334.98" r="0.59" fill="#555"/>
<circle cx="417.42" cy="336.42" r="0.63" fill="#555"/>
<circle cx="421.88" cy="330.4" r="0.57" fill="#555"/>
<circle cx="459.38" cy="311.07" r="0.55" fill="#555"/>
<circle cx="410.49" cy="307.47" r="0.64" fill="#555"/>
<circle cx="405.89" cy="359.08" r="0.58" fill="#555"/>
<circle cx="447.01" cy="346.91" r="0.55" fill="#555"/>
<circle cx="421.46" cy="328.63" r="0.41" fill="#555"/>
<circle cx="459.05" cy="350.07" r="0.59" fill="#555"/>
<circle cx="416.66" cy="338.14" r="0.43" fill="#555"/>
<circle cx="454.54" cy="347.89" r="0.65" fill="#555"/>
<circle cx="449.13" cy="344" r="0.58" fill="#555"/>
<circle cx="408.75" cy="338.34" r="0.36" fill="#555"/>
<circle cx="426.72" cy="307.78" r="0.63" fill="#555"/>
<circle cx="404.44" cy="359.17" r="0.63" fill="#555"/>
<circle cx="431.22" cy="353.49" r="0.37" fill="#555"/>
<circle cx="411.76" cy="300.93" r="0.37" fill="#555"/>
<circle cx="402.77" cy="353.23" r="0.38" fill="#555"/>
<circle cx="441.41" cy="317.76" r="0.39" fill="#555"/>
<circle cx="430.14" cy="311.92" r="0.64" fill="#555"/>
<circle cx="427.82" cy="338.25" r="0.52" fill="#555"/>
<circle cx="443.79" cy="331" r="0.43" fill="#555"/>
<circle cx="411.59" cy="357.05" r="0.41" fill="#555"/>
<circle cx="432.06" cy="351.95" r="0.52" fill="#555"/>
<circle cx="464.89" cy="352.03" r="0.5" fill="#555"/>
<circle cx="410.48" cy="338.17" r="0.49" fill="#555"/>
<circle cx="458.49" cy="334.16" r="0.97" fill="#20c8b0"/>
<circle cx="456" cy="332.5" r="1" fill="#f22020"/>
<circle cx="439" cy="338.5" r="1" fill="#8a2be2"/>
<circle cx="443.5" cy="347.5" r="1" fill="#1e88e5"/>
<circle cx="439.5" cy="355" r="0.8" fill="#22d3b3"/>
<rect x="497.3" y="294" width="75.4" height="76.9" rx="19.5" fill="none" stroke="#929292" stroke-width="1.0"/>
<rect x="498.5" y="295.2" width="73" height="74.5" rx="18.5" fill="#8c8c8c" stroke="#262626" stroke-width="1.05"/>
<rect x="499.5" y="296.2" width="71" height="72.5" rx="17.5" fill="#fff" filter="url(#noise)" opacity="0.3"/>
<rect x="499.8" y="296.5" width="70.4" height="71.9" rx="17.5" fill="none" stroke="#ababab" stroke-width="1.1"/>
<circle cx="523.55" cy="309.23" r="0.55" fill="#555"/>
<circle cx="507.21" cy="334.84" r="0.46" fill="#555"/>
<circle cx="506.27" cy="332.94" r="0.36" fill="#555"/>
<circle cx="530.69" cy="303.85" r="0.38" fill="#555"/>
<circle cx="530.09" cy="354.19" r="0.39" fill="#555"/>
<circle cx="517.01" cy="340.92" r="0.63" fill="#555"/>
<circle cx="540.01" cy="325.58" r="0.64" fill="#555"/>
<circle cx="505.53" cy="356.29" r="0.44" fill="#555"/>
<circle cx="511.88" cy="307.03" r="0.44" fill="#555"/>
<circle cx="555.55" cy="311.22" r="0.52" fill="#555"/>
<circle cx="544.03" cy="323.96" r="0.51" fill="#555"/>
<circle cx="506.58" cy="303.16" r="0.41" fill="#555"/>
<circle cx="546.73" cy="327.63" r="0.44" fill="#555"/>
<circle cx="540.56" cy="329.34" r="0.44" fill="#555"/>
<circle cx="554.13" cy="345.68" r="0.42" fill="#555"/>
<circle cx="539.84" cy="334.13" r="0.61" fill="#555"/>
<circle cx="549.91" cy="318.35" r="0.64" fill="#555"/>
<circle cx="510.17" cy="327.01" r="0.58" fill="#555"/>
<circle cx="512.38" cy="331.72" r="0.36" fill="#555"/>
<circle cx="545.93" cy="350.04" r="0.52" fill="#555"/>
<circle cx="559.41" cy="320.06" r="0.56" fill="#555"/>
<circle cx="541.13" cy="337.76" r="0.49" fill="#555"/>
<circle cx="557.1" cy="362.02" r="0.49" fill="#555"/>
<circle cx="545.67" cy="303.23" r="0.56" fill="#555"/>
<circle cx="544.56" cy="365.24" r="0.6" fill="#555"/>
<circle cx="521" cy="324.86" r="0.55" fill="#555"/>
<circle cx="503.97" cy="329.9" r="0.4" fill="#555"/>
<circle cx="510.11" cy="303.12" r="0.58" fill="#555"/>
<circle cx="510.91" cy="315.67" r="0.47" fill="#555"/>
<circle cx="559.14" cy="304.56" r="0.48" fill="#555"/>
<circle cx="538.21" cy="357.95" r="0.6" fill="#555"/>
<circle cx="558.66" cy="317.72" r="0.47" fill="#555"/>
<circle cx="525.82" cy="358" r="0.64" fill="#555"/>
<circle cx="512.31" cy="310.92" r="0.42" fill="#555"/>
<circle cx="517.67" cy="331.45" r="0.53" fill="#555"/>
<circle cx="519.58" cy="299.47" r="0.48" fill="#555"/>
<circle cx="526.5" cy="336.86" r="0.64" fill="#555"/>
<circle cx="547.38" cy="333.48" r="0.54" fill="#555"/>
<circle cx="546.45" cy="302.79" r="0.62" fill="#555"/>
<circle cx="553.2" cy="357.36" r="0.59" fill="#555"/>
<circle cx="528" cy="325.73" r="0.38" fill="#555"/>
<circle cx="543.73" cy="303.34" r="0.37" fill="#555"/>
<circle cx="516.07" cy="309.99" r="0.45" fill="#555"/>
<circle cx="505.92" cy="299.22" r="0.4" fill="#555"/>
<circle cx="509.1" cy="323.38" r="0.36" fill="#555"/>
<circle cx="559.33" cy="340.04" r="0.39" fill="#555"/>
<circle cx="518.9" cy="322.3" r="0.46" fill="#555"/>
<circle cx="510.48" cy="355.65" r="0.65" fill="#555"/>
<circle cx="532.79" cy="331.38" r="0.38" fill="#555"/>
<circle cx="509.14" cy="321.99" r="0.43" fill="#555"/>
<circle cx="556.38" cy="309.94" r="0.36" fill="#555"/>
<circle cx="564.31" cy="334.33" r="0.39" fill="#555"/>
<circle cx="537.81" cy="301" r="0.51" fill="#555"/>
<circle cx="566.1" cy="356.61" r="0.56" fill="#555"/>
<circle cx="519.47" cy="323.59" r="0.4" fill="#555"/>
<circle cx="552.68" cy="334.62" r="0.58" fill="#555"/>
<circle cx="523.93" cy="314.03" r="0.59" fill="#555"/>
<circle cx="566.52" cy="355.9" r="0.59" fill="#555"/>
<circle cx="555.69" cy="348.4" r="0.42" fill="#555"/>
<circle cx="536.15" cy="322.84" r="0.36" fill="#555"/>
<circle cx="504.32" cy="317.78" r="0.43" fill="#555"/>
<circle cx="547.51" cy="362.81" r="0.48" fill="#555"/>
<circle cx="563.41" cy="364.9" r="0.64" fill="#555"/>
<circle cx="526.2" cy="313.86" r="0.42" fill="#555"/>
<circle cx="515.29" cy="312.79" r="0.54" fill="#555"/>
<circle cx="561.02" cy="355.09" r="0.49" fill="#555"/>
<circle cx="544.94" cy="352.38" r="0.38" fill="#555"/>
<circle cx="545.44" cy="359.7" r="0.58" fill="#555"/>
<circle cx="551.26" cy="330.99" r="0.4" fill="#555"/>
<circle cx="553.79" cy="321.31" r="0.59" fill="#555"/>
<circle cx="564.71" cy="325.73" r="0.75" fill="#ff2020"/>
<circle cx="549.16" cy="311.17" r="0.55" fill="#8a2be2"/>
<circle cx="540.72" cy="330.22" r="0.94" fill="#1e88e5"/>
<circle cx="555.57" cy="363.43" r="0.94" fill="#ff8c3c"/>
<circle cx="513.32" cy="335.56" r="0.47" fill="#ff2020"/>
<circle cx="536.67" cy="360.42" r="0.78" fill="#20d0b0"/>
<circle cx="555.55" cy="313.81" r="0.64" fill="#88dd88"/>
<circle cx="535.07" cy="349.46" r="0.69" fill="#ff8c3c"/>
<circle cx="529.9" cy="308.65" r="1.13" fill="#ff8c3c"/>
<circle cx="560.06" cy="342.93" r="1.06" fill="#ff8c3c"/>
<circle cx="530" cy="359.39" r="0.83" fill="#ff8c3c"/>
<circle cx="513.07" cy="333.13" r="1.1" fill="#8a2be2"/>
<circle cx="541.84" cy="350.25" r="0.56" fill="#8a2be2"/>
<circle cx="533.33" cy="346.97" r="0.87" fill="#ff8c3c"/>
<circle cx="546.49" cy="334.43" r="0.81" fill="#ff2020"/>
<circle cx="559.14" cy="303.87" r="0.59" fill="#1e88e5"/>
<circle cx="552.15" cy="332.95" r="0.87" fill="#ff2020"/>
<circle cx="531.42" cy="339.71" r="0.83" fill="#ff8c3c"/>
<circle cx="516.06" cy="318.08" r="0.83" fill="#20c8b0"/>
<circle cx="535.49" cy="316.17" r="0.84" fill="#88dd88"/>
<circle cx="561.64" cy="357.78" r="0.6" fill="#20c8b0"/>
<circle cx="512.14" cy="308.04" r="0.78" fill="#ff2020"/>
<circle cx="545.78" cy="327.83" r="0.61" fill="#88dd88"/>
<circle cx="552.89" cy="358.06" r="0.57" fill="#ff8c3c"/>
<circle cx="512.51" cy="357.14" r="1.18" fill="#20d0b0"/>
<circle cx="550.54" cy="306.27" r="1.11" fill="#8a2be2"/>
<circle cx="565.86" cy="353.89" r="0.57" fill="#2090e0"/>
<circle cx="566.13" cy="326.25" r="0.77" fill="#ff8c3c"/>
<circle cx="523.57" cy="346.78" r="0.46" fill="#ff8c3c"/>
<circle cx="532.4" cy="345.55" r="0.74" fill="#ff8c3c"/>
<circle cx="542.81" cy="333.24" r="0.5" fill="#20d0b0"/>
<circle cx="564.72" cy="306.96" r="0.65" fill="#1e88e5"/>
<circle cx="560.57" cy="311.91" r="1.02" fill="#2090e0"/>
<circle cx="557.02" cy="343.8" r="1.16" fill="#2090e0"/>
<circle cx="512.91" cy="359.49" r="0.88" fill="#ff8c3c"/>
<circle cx="509.14" cy="303.91" r="0.97" fill="#2090e0"/>
<circle cx="559.9" cy="317.55" r="0.46" fill="#ff2020"/>
<circle cx="554" cy="305.6" r="1.09" fill="#ff2020"/>
<circle cx="520.16" cy="308.05" r="0.46" fill="#ff8c3c"/>
<circle cx="529.82" cy="359.25" r="0.92" fill="#1e88e5"/>
<circle cx="536.7" cy="315.58" r="0.53" fill="#8a2be2"/>
<circle cx="520" cy="311.88" r="1.15" fill="#88dd88"/>
<circle cx="536.96" cy="313.48" r="0.78" fill="#8a2be2"/>
<circle cx="520.54" cy="352.04" r="1.2" fill="#1e88e5"/>
<circle cx="504.47" cy="347.48" r="0.86" fill="#20d0b0"/>
<circle cx="535.9" cy="316.05" r="0.79" fill="#2090e0"/>
<circle cx="544.86" cy="335.41" r="1.12" fill="#ff8c3c"/>
<circle cx="522.89" cy="314.08" r="0.62" fill="#20d0b0"/>
<circle cx="555.93" cy="345.78" r="0.93" fill="#2090e0"/>
<circle cx="565.83" cy="363.53" r="1.08" fill="#1e88e5"/>
<circle cx="507.96" cy="347.99" r="0.64" fill="#8a2be2"/>
<circle cx="506.99" cy="343.11" r="0.74" fill="#ff8c3c"/>
<circle cx="545.74" cy="318.38" r="0.63" fill="#88dd88"/>
<circle cx="506.35" cy="312.16" r="0.65" fill="#1e88e5"/>
<circle cx="520.08" cy="362.24" r="1.18" fill="#ff8c3c"/>
<circle cx="518.5" cy="323.6" r="2.2" fill="#8a2be2"/>
<circle cx="525.6" cy="364.9" r="1.8" fill="#f22020"/>
<circle cx="565.5" cy="325.6" r="1.5" fill="#22d3b3"/>
<circle cx="505.7" cy="317.4" r="1.1" fill="#1e88e5"/>
<circle cx="503.4" cy="346.4" r="1.3" fill="#8a2be2"/>
<circle cx="504.5" cy="350.5" r="1" fill="#f22020"/>
<circle cx="517.6" cy="355" r="1.2" fill="#22d3b3"/>
<circle cx="533.3" cy="362.7" r="1.2" fill="#22d3b3"/>
<circle cx="541.8" cy="364.8" r="1" fill="#8a2be2"/>
<circle cx="546.7" cy="361.8" r="1" fill="#1e88e5"/>
<rect x="596.8" y="293.8" width="78.4" height="77.1" rx="19.5" fill="none" stroke="#929292" stroke-width="1.0"/>
<rect x="598" y="295" width="76" height="74.7" rx="18.5" fill="#8c8c8c" stroke="#262626" stroke-width="1.05"/>
<rect x="599" y="296" width="74" height="72.7" rx="17.5" fill="#fff" filter="url(#noise)" opacity="0.3"/>
<rect x="599.3" y="296.3" width="73.4" height="72.1" rx="17.5" fill="none" stroke="#ababab" stroke-width="1.1"/>
<circle cx="617.42" cy="363.19" r="0.39" fill="#555"/>
<circle cx="649.93" cy="304.68" r="0.42" fill="#555"/>
<circle cx="669.94" cy="312.97" r="0.54" fill="#555"/>
<circle cx="633.22" cy="329.22" r="0.5" fill="#555"/>
<circle cx="615.07" cy="354.4" r="0.38" fill="#555"/>
<circle cx="617.92" cy="300.33" r="0.43" fill="#555"/>
<circle cx="629.72" cy="359.17" r="0.46" fill="#555"/>
<circle cx="609.73" cy="316.23" r="0.65" fill="#555"/>
<circle cx="606.29" cy="340.37" r="0.46" fill="#555"/>
<circle cx="646.94" cy="321.57" r="0.56" fill="#555"/>
<circle cx="635.84" cy="342.34" r="0.62" fill="#555"/>
<circle cx="641.54" cy="308.48" r="0.37" fill="#555"/>
<circle cx="666.33" cy="331.59" r="0.41" fill="#555"/>
<circle cx="666.33" cy="337.62" r="0.57" fill="#555"/>
<circle cx="661.91" cy="318.05" r="0.46" fill="#555"/>
<circle cx="661.71" cy="308" r="0.58" fill="#555"/>
<circle cx="608.64" cy="345.04" r="0.56" fill="#555"/>
<circle cx="666.6" cy="355.26" r="0.5" fill="#555"/>
<circle cx="615.44" cy="309.02" r="0.51" fill="#555"/>
<circle cx="636.67" cy="303.76" r="0.62" fill="#555"/>
<circle cx="636.5" cy="345.78" r="0.42" fill="#555"/>
<circle cx="618.58" cy="299.79" r="0.45" fill="#555"/>
<circle cx="620.15" cy="327.24" r="0.46" fill="#555"/>
<circle cx="658.73" cy="358.46" r="0.4" fill="#555"/>
<circle cx="628.95" cy="310.08" r="0.55" fill="#555"/>
<circle cx="668.29" cy="312.46" r="0.58" fill="#555"/>
<circle cx="622.4" cy="299.88" r="0.58" fill="#555"/>
<circle cx="625.24" cy="310.35" r="0.48" fill="#555"/>
<circle cx="617.76" cy="326.35" r="0.48" fill="#555"/>
<circle cx="630.42" cy="338.25" r="0.44" fill="#555"/>
<circle cx="608.47" cy="304.69" r="0.38" fill="#555"/>
<circle cx="637.42" cy="323.02" r="0.59" fill="#555"/>
<circle cx="636.33" cy="346.24" r="0.64" fill="#555"/>
<circle cx="606.28" cy="300.13" r="0.39" fill="#555"/>
<circle cx="628.27" cy="337.26" r="0.57" fill="#555"/>
<circle cx="625.9" cy="363.36" r="0.35" fill="#555"/>
<circle cx="658.83" cy="313.01" r="0.61" fill="#555"/>
<circle cx="604.25" cy="363.38" r="0.58" fill="#555"/>
<circle cx="669.35" cy="337.69" r="0.4" fill="#555"/>
<circle cx="667.95" cy="328.45" r="0.38" fill="#555"/>
<circle cx="642.96" cy="332.17" r="0.8" fill="#8a2be2"/>
<circle cx="628.15" cy="307.02" r="0.99" fill="#8a2be2"/>
<circle cx="631.7" cy="308.5" r="1.5" fill="#1e88e5"/>
<circle cx="650.3" cy="310.5" r="1.3" fill="#22d3b3"/>
<circle cx="617.8" cy="315.5" r="0.8" fill="#ff8f45"/>
<circle cx="624" cy="321.8" r="1" fill="#8a2be2"/>
<circle cx="640" cy="322.8" r="1.2" fill="#1e88e5"/>
<circle cx="614" cy="328.5" r="1.4" fill="#22d3b3"/>
<circle cx="656" cy="318.5" r="0.7" fill="#f22020"/>
<circle cx="664" cy="331" r="0.9" fill="#f22020"/>
<circle cx="619.5" cy="338.7" r="0.7" fill="#8a2be2"/>
<circle cx="635.3" cy="342.3" r="1.2" fill="#1e88e5"/>
<circle cx="654.5" cy="344" r="0.8" fill="#8fdc8f"/>
<circle cx="661.5" cy="344.5" r="0.8" fill="#ff8f45"/>
<circle cx="629" cy="356" r="0.9" fill="#f22020"/>
<circle cx="654" cy="356.5" r="0.9" fill="#8a2be2"/>
<circle cx="665.5" cy="313.8" r="0.8" fill="#8fdc8f"/>
<circle cx="645" cy="342" r="0.7" fill="#22d3b3"/>
<line x1="638.5" y1="340" x2="638.5" y2="347" stroke="#333" stroke-width="0.6"/>
<line x1="669.5" y1="368.5" x2="673" y2="368.5" stroke="#222" stroke-width="0.8"/>
<text x="2.3" y="413.6" font-size="19.5" font-weight="bold">f</text>
<text x="110.6" y="428.7" font-size="9" font-weight="bold" text-anchor="middle">Gemcitabine-Paclitaxel</text>
<text x="297.3" y="428" font-size="8.9" font-weight="bold" text-anchor="middle">FOLFIRINOX</text>
<text x="28.6" y="435.1" font-size="6.4" font-weight="bold">Gem</text>
<line x1="28.6" y1="435.6" x2="42.4" y2="435.6" stroke="#bbb" stroke-width="0.5"/>
<text x="212" y="436.3" font-size="6.4" font-weight="bold">5Fu</text>
<line x1="212" y1="436.8" x2="223.3" y2="436.8" stroke="#bbb" stroke-width="0.5"/>
<rect x="49.7" y="441.3" width="15.66" height="12.09" fill="#ff0000"/>
<rect x="64.36" y="441.3" width="15.66" height="12.09" fill="#ee1c1c"/>
<rect x="79.03" y="441.3" width="15.66" height="12.09" fill="#ff0000"/>
<rect x="93.69" y="441.3" width="15.66" height="12.09" fill="#ff0000"/>
<rect x="108.35" y="441.3" width="15.66" height="12.09" fill="#c03434"/>
<rect x="123.01" y="441.3" width="15.66" height="12.09" fill="#f01818"/>
<rect x="137.68" y="441.3" width="15.66" height="12.09" fill="#f41414"/>
<rect x="152.34" y="441.3" width="14.66" height="12.09" fill="#ff0a0a"/>
<rect x="49.7" y="452.39" width="15.66" height="12.09" fill="#ff0000"/>
<rect x="64.36" y="452.39" width="15.66" height="12.09" fill="#e42222"/>
<rect x="79.03" y="452.39" width="15.66" height="12.09" fill="#ff0000"/>
<rect x="93.69" y="452.39" width="15.66" height="12.09" fill="#ff0000"/>
<rect x="108.35" y="452.39" width="15.66" height="12.09" fill="#b83a3a"/>
<rect x="123.01" y="452.39" width="15.66" height="12.09" fill="#e42020"/>
<rect x="137.68" y="452.39" width="15.66" height="12.09" fill="#f01616"/>
<rect x="152.34" y="452.39" width="14.66" height="12.09" fill="#d82a2a"/>
<rect x="49.7" y="463.47" width="15.66" height="12.09" fill="#e02424"/>
<rect x="64.36" y="463.47" width="15.66" height="12.09" fill="#e02424"/>
<rect x="79.03" y="463.47" width="15.66" height="12.09" fill="#ff0000"/>
<rect x="93.69" y="463.47" width="15.66" height="12.09" fill="#fa0c0c"/>
<rect x="108.35" y="463.47" width="15.66" height="12.09" fill="#9c4c4c"/>
<rect x="123.01" y="463.47" width="15.66" height="12.09" fill="#e81e1e"/>
<rect x="137.68" y="463.47" width="15.66" height="12.09" fill="#7a5858"/>
<rect x="152.34" y="463.47" width="14.66" height="12.09" fill="#ff0808"/>
<rect x="49.7" y="474.56" width="15.66" height="12.09" fill="#fa1010"/>
<rect x="64.36" y="474.56" width="15.66" height="12.09" fill="#dc2828"/>
<rect x="79.03" y="474.56" width="15.66" height="12.09" fill="#fa1010"/>
<rect x="93.69" y="474.56" width="15.66" height="12.09" fill="#f21616"/>
<rect x="108.35" y="474.56" width="15.66" height="12.09" fill="#c83434"/>
<rect x="123.01" y="474.56" width="15.66" height="12.09" fill="#ee1a1a"/>
<rect x="137.68" y="474.56" width="15.66" height="12.09" fill="#7a5656"/>
<rect x="152.34" y="474.56" width="14.66" height="12.09" fill="#a24a4a"/>
<rect x="49.7" y="485.64" width="15.66" height="12.09" fill="#905252"/>
<rect x="64.36" y="485.64" width="15.66" height="12.09" fill="#e02424"/>
<rect x="79.03" y="485.64" width="15.66" height="12.09" fill="#f21616"/>
<rect x="93.69" y="485.64" width="15.66" height="12.09" fill="#f51414"/>
<rect x="108.35" y="485.64" width="15.66" height="12.09" fill="#0aa030"/>
<rect x="123.01" y="485.64" width="15.66" height="12.09" fill="#d42c2c"/>
<rect x="137.68" y="485.64" width="15.66" height="12.09" fill="#6a5c5c"/>
<rect x="152.34" y="485.64" width="14.66" height="12.09" fill="#d02c2c"/>
<rect x="49.7" y="496.73" width="15.66" height="12.09" fill="#507060"/>
<rect x="64.36" y="496.73" width="15.66" height="12.09" fill="#785a5a"/>
<rect x="79.03" y="496.73" width="15.66" height="12.09" fill="#30805a"/>
<rect x="93.69" y="496.73" width="15.66" height="12.09" fill="#10a030"/>
<rect x="108.35" y="496.73" width="15.66" height="12.09" fill="#00ff00"/>
<rect x="123.01" y="496.73" width="15.66" height="12.09" fill="#10e010"/>
<rect x="137.68" y="496.73" width="15.66" height="12.09" fill="#10a030"/>
<rect x="152.34" y="496.73" width="14.66" height="12.09" fill="#5a6a62"/>
<rect x="49.7" y="507.81" width="15.66" height="11.09" fill="#dc2424"/>
<rect x="64.36" y="507.81" width="15.66" height="11.09" fill="#5a6a62"/>
<rect x="79.03" y="507.81" width="15.66" height="11.09" fill="#10a040"/>
<rect x="93.69" y="507.81" width="15.66" height="11.09" fill="#10d010"/>
<rect x="108.35" y="507.81" width="15.66" height="11.09" fill="#30805a"/>
<rect x="123.01" y="507.81" width="15.66" height="11.09" fill="#10d010"/>
<rect x="137.68" y="507.81" width="15.66" height="11.09" fill="#10e010"/>
<rect x="152.34" y="507.81" width="14.66" height="11.09" fill="#6a6060"/>
<rect x="49.7" y="441.3" width="117.3" height="77.6" fill="none" stroke="#111" stroke-width="0.9"/>
<rect x="49.7" y="535.7" width="15.66" height="12.11" fill="#ff0000"/>
<rect x="64.36" y="535.7" width="15.66" height="12.11" fill="#ff0000"/>
<rect x="79.03" y="535.7" width="15.66" height="12.11" fill="#ff0000"/>
<rect x="93.69" y="535.7" width="15.66" height="12.11" fill="#ff0000"/>
<rect x="108.35" y="535.7" width="15.66" height="12.11" fill="#ff0000"/>
<rect x="123.01" y="535.7" width="15.66" height="12.11" fill="#d02c2c"/>
<rect x="137.68" y="535.7" width="15.66" height="12.11" fill="#8a5050"/>
<rect x="152.34" y="535.7" width="14.66" height="12.11" fill="#108040"/>
<rect x="49.7" y="546.81" width="15.66" height="12.11" fill="#ff0000"/>
<rect x="64.36" y="546.81" width="15.66" height="12.11" fill="#dc2828"/>
<rect x="79.03" y="546.81" width="15.66" height="12.11" fill="#ff0000"/>
<rect x="93.69" y="546.81" width="15.66" height="12.11" fill="#ff0000"/>
<rect x="108.35" y="546.81" width="15.66" height="12.11" fill="#d42c2c"/>
<rect x="123.01" y="546.81" width="15.66" height="12.11" fill="#905050"/>
<rect x="137.68" y="546.81" width="15.66" height="12.11" fill="#108040"/>
<rect x="152.34" y="546.81" width="14.66" height="12.11" fill="#00c000"/>
<rect x="49.7" y="557.93" width="15.66" height="12.11" fill="#ff0000"/>
<rect x="64.36" y="557.93" width="15.66" height="12.11" fill="#dc2828"/>
<rect x="79.03" y="557.93" width="15.66" height="12.11" fill="#ff0000"/>
<rect x="93.69" y="557.93" width="15.66" height="12.11" fill="#dc2828"/>
<rect x="108.35" y="557.93" width="15.66" height="12.11" fill="#4a6a5a"/>
<rect x="123.01" y="557.93" width="15.66" height="12.11" fill="#905050"/>
<rect x="137.68" y="557.93" width="15.66" height="12.11" fill="#00c000"/>
<rect x="152.34" y="557.93" width="14.66" height="12.11" fill="#00c800"/>
<rect x="49.7" y="569.04" width="15.66" height="12.11" fill="#ff0000"/>
<rect x="64.36" y="569.04" width="15.66" height="12.11" fill="#a84444"/>
<rect x="79.03" y="569.04" width="15.66" height="12.11" fill="#d02c2c"/>
<rect x="93.69" y="569.04" width="15.66" height="12.11" fill="#a84444"/>
<rect x="108.35" y="569.04" width="15.66" height="12.11" fill="#885454"/>
<rect x="123.01" y="569.04" width="15.66" height="12.11" fill="#c83434"/>
<rect x="137.68" y="569.04" width="15.66" height="12.11" fill="#00c000"/>
<rect x="152.34" y="569.04" width="14.66" height="12.11" fill="#00cc00"/>
<rect x="49.7" y="580.16" width="15.66" height="12.11" fill="#ff0000"/>
<rect x="64.36" y="580.16" width="15.66" height="12.11" fill="#a84444"/>
<rect x="79.03" y="580.16" width="15.66" height="12.11" fill="#7a5656"/>
<rect x="93.69" y="580.16" width="15.66" height="12.11" fill="#c83434"/>
<rect x="108.35" y="580.16" width="15.66" height="12.11" fill="#00d800"/>
<rect x="123.01" y="580.16" width="15.66" height="12.11" fill="#4a6a5a"/>
<rect x="137.68" y="580.16" width="15.66" height="12.11" fill="#00c000"/>
<rect x="152.34" y="580.16" width="14.66" height="12.11" fill="#00c400"/>
<rect x="49.7" y="591.27" width="15.66" height="12.11" fill="#7a5a5a"/>
<rect x="64.36" y="591.27" width="15.66" height="12.11" fill="#00c000"/>
<rect x="79.03" y="591.27" width="15.66" height="12.11" fill="#00e000"/>
<rect x="93.69" y="591.27" width="15.66" height="12.11" fill="#00f000"/>
<rect x="108.35" y="591.27" width="15.66" height="12.11" fill="#00f800"/>
<rect x="123.01" y="591.27" width="15.66" height="12.11" fill="#00f800"/>
<rect x="137.68" y="591.27" width="15.66" height="12.11" fill="#00e800"/>
<rect x="152.34" y="591.27" width="14.66" height="12.11" fill="#00f000"/>
<rect x="49.7" y="602.39" width="15.66" height="11.11" fill="#d02c2c"/>
<rect x="64.36" y="602.39" width="15.66" height="11.11" fill="#00f000"/>
<rect x="79.03" y="602.39" width="15.66" height="11.11" fill="#00f000"/>
<rect x="93.69" y="602.39" width="15.66" height="11.11" fill="#00f400"/>
<rect x="108.35" y="602.39" width="15.66" height="11.11" fill="#00ff00"/>
<rect x="123.01" y="602.39" width="15.66" height="11.11" fill="#00f800"/>
<rect x="137.68" y="602.39" width="15.66" height="11.11" fill="#00f800"/>
<rect x="152.34" y="602.39" width="14.66" height="11.11" fill="#00f800"/>
<rect x="49.7" y="535.7" width="117.3" height="77.8" fill="none" stroke="#111" stroke-width="0.9"/>
<rect x="229.7" y="441.3" width="15.71" height="12.17" fill="#ff0000"/>
<rect x="244.41" y="441.3" width="15.71" height="12.17" fill="#ff0000"/>
<rect x="259.12" y="441.3" width="15.71" height="12.17" fill="#ff0000"/>
<rect x="273.84" y="441.3" width="15.71" height="12.17" fill="#ff0000"/>
<rect x="288.55" y="441.3" width="15.71" height="12.17" fill="#ff0000"/>
<rect x="303.26" y="441.3" width="15.71" height="12.17" fill="#ff0000"/>
<rect x="317.97" y="441.3" width="15.71" height="12.17" fill="#ff0000"/>
<rect x="332.69" y="441.3" width="14.71" height="12.17" fill="#ff0000"/>
<rect x="229.7" y="452.47" width="15.71" height="12.17" fill="#ff0000"/>
<rect x="244.41" y="452.47" width="15.71" height="12.17" fill="#ff0000"/>
<rect x="259.12" y="452.47" width="15.71" height="12.17" fill="#ff0000"/>
<rect x="273.84" y="452.47" width="15.71" height="12.17" fill="#ff0000"/>
<rect x="288.55" y="452.47" width="15.71" height="12.17" fill="#dc2828"/>
<rect x="303.26" y="452.47" width="15.71" height="12.17" fill="#e42020"/>
<rect x="317.97" y="452.47" width="15.71" height="12.17" fill="#d82a2a"/>
<rect x="332.69" y="452.47" width="14.71" height="12.17" fill="#f41414"/>
<rect x="229.7" y="463.64" width="15.71" height="12.17" fill="#ff0000"/>
<rect x="244.41" y="463.64" width="15.71" height="12.17" fill="#e82020"/>
<rect x="259.12" y="463.64" width="15.71" height="12.17" fill="#d82a2a"/>
<rect x="273.84" y="463.64" width="15.71" height="12.17" fill="#ff0a0a"/>
<rect x="288.55" y="463.64" width="15.71" height="12.17" fill="#109830"/>
<rect x="303.26" y="463.64" width="15.71" height="12.17" fill="#108040"/>
<rect x="317.97" y="463.64" width="15.71" height="12.17" fill="#905050"/>
<rect x="332.69" y="463.64" width="14.71" height="12.17" fill="#c03838"/>
<rect x="229.7" y="474.81" width="15.71" height="12.17" fill="#a04848"/>
<rect x="244.41" y="474.81" width="15.71" height="12.17" fill="#307858"/>
<rect x="259.12" y="474.81" width="15.71" height="12.17" fill="#108848"/>
<rect x="273.84" y="474.81" width="15.71" height="12.17" fill="#b84040"/>
<rect x="288.55" y="474.81" width="15.71" height="12.17" fill="#107848"/>
<rect x="303.26" y="474.81" width="15.71" height="12.17" fill="#00d800"/>
<rect x="317.97" y="474.81" width="15.71" height="12.17" fill="#00e000"/>
<rect x="332.69" y="474.81" width="14.71" height="12.17" fill="#506a5a"/>
<rect x="229.7" y="485.99" width="15.71" height="12.17" fill="#5a6a60"/>
<rect x="244.41" y="485.99" width="15.71" height="12.17" fill="#00f000"/>
<rect x="259.12" y="485.99" width="15.71" height="12.17" fill="#00f000"/>
<rect x="273.84" y="485.99" width="15.71" height="12.17" fill="#108848"/>
<rect x="288.55" y="485.99" width="15.71" height="12.17" fill="#108840"/>
<rect x="303.26" y="485.99" width="15.71" height="12.17" fill="#00d000"/>
<rect x="317.97" y="485.99" width="15.71" height="12.17" fill="#00d800"/>
<rect x="332.69" y="485.99" width="14.71" height="12.17" fill="#00b810"/>
<rect x="229.7" y="497.16" width="15.71" height="12.17" fill="#00b810"/>
<rect x="244.41" y="497.16" width="15.71" height="12.17" fill="#00e800"/>
<rect x="259.12" y="497.16" width="15.71" height="12.17" fill="#00e800"/>
<rect x="273.84" y="497.16" width="15.71" height="12.17" fill="#00f400"/>
<rect x="288.55" y="497.16" width="15.71" height="12.17" fill="#109838"/>
<rect x="303.26" y="497.16" width="15.71" height="12.17" fill="#00d800"/>
<rect x="317.97" y="497.16" width="15.71" height="12.17" fill="#00f400"/>
<rect x="332.69" y="497.16" width="14.71" height="12.17" fill="#00f400"/>
<rect x="229.7" y="508.33" width="15.71" height="11.17" fill="#00f400"/>
<rect x="244.41" y="508.33" width="15.71" height="11.17" fill="#00c010"/>
<rect x="259.12" y="508.33" width="15.71" height="11.17" fill="#10b018"/>
<rect x="273.84" y="508.33" width="15.71" height="11.17" fill="#00c410"/>
<rect x="288.55" y="508.33" width="15.71" height="11.17" fill="#00f800"/>
<rect x="303.26" y="508.33" width="15.71" height="11.17" fill="#00d400"/>
<rect x="317.97" y="508.33" width="15.71" height="11.17" fill="#00f400"/>
<rect x="332.69" y="508.33" width="14.71" height="11.17" fill="#00cc00"/>
<rect x="229.7" y="441.3" width="117.7" height="78.2" fill="none" stroke="#111" stroke-width="0.9"/>
<rect x="229.7" y="535.7" width="15.71" height="12.11" fill="#ff0000"/>
<rect x="244.41" y="535.7" width="15.71" height="12.11" fill="#ff0000"/>
<rect x="259.12" y="535.7" width="15.71" height="12.11" fill="#ff0000"/>
<rect x="273.84" y="535.7" width="15.71" height="12.11" fill="#ff0000"/>
<rect x="288.55" y="535.7" width="15.71" height="12.11" fill="#ff0000"/>
<rect x="303.26" y="535.7" width="15.71" height="12.11" fill="#ff0000"/>
<rect x="317.97" y="535.7" width="15.71" height="12.11" fill="#d02c2c"/>
<rect x="332.69" y="535.7" width="14.71" height="12.11" fill="#d02c2c"/>
<rect x="229.7" y="546.81" width="15.71" height="12.11" fill="#ff0000"/>
<rect x="244.41" y="546.81" width="15.71" height="12.11" fill="#f41414"/>
<rect x="259.12" y="546.81" width="15.71" height="12.11" fill="#e82020"/>
<rect x="273.84" y="546.81" width="15.71" height="12.11" fill="#ff0000"/>
<rect x="288.55" y="546.81" width="15.71" height="12.11" fill="#c03838"/>
<rect x="303.26" y="546.81" width="15.71" height="12.11" fill="#a04848"/>
<rect x="317.97" y="546.81" width="15.71" height="12.11" fill="#8a5050"/>
<rect x="332.69" y="546.81" width="14.71" height="12.11" fill="#109030"/>
<rect x="229.7" y="557.93" width="15.71" height="12.11" fill="#ff0000"/>
<rect x="244.41" y="557.93" width="15.71" height="12.11" fill="#307858"/>
<rect x="259.12" y="557.93" width="15.71" height="12.11" fill="#406a5a"/>
<rect x="273.84" y="557.93" width="15.71" height="12.11" fill="#ff0000"/>
<rect x="288.55" y="557.93" width="15.71" height="12.11" fill="#00c800"/>
<rect x="303.26" y="557.93" width="15.71" height="12.11" fill="#00c400"/>
<rect x="317.97" y="557.93" width="15.71" height="12.11" fill="#108040"/>
<rect x="332.69" y="557.93" width="14.71" height="12.11" fill="#00d800"/>
<rect x="229.7" y="569.04" width="15.71" height="12.11" fill="#8a5050"/>
<rect x="244.41" y="569.04" width="15.71" height="12.11" fill="#00cc00"/>
<rect x="259.12" y="569.04" width="15.71" height="12.11" fill="#00e000"/>
<rect x="273.84" y="569.04" width="15.71" height="12.11" fill="#109038"/>
<rect x="288.55" y="569.04" width="15.71" height="12.11" fill="#00f400"/>
<rect x="303.26" y="569.04" width="15.71" height="12.11" fill="#00e800"/>
<rect x="317.97" y="569.04" width="15.71" height="12.11" fill="#00c800"/>
<rect x="332.69" y="569.04" width="14.71" height="12.11" fill="#00e800"/>
<rect x="229.7" y="580.16" width="15.71" height="12.11" fill="#307858"/>
<rect x="244.41" y="580.16" width="15.71" height="12.11" fill="#00e000"/>
<rect x="259.12" y="580.16" width="15.71" height="12.11" fill="#00ec00"/>
<rect x="273.84" y="580.16" width="15.71" height="12.11" fill="#00cc00"/>
<rect x="288.55" y="580.16" width="15.71" height="12.11" fill="#00f800"/>
<rect x="303.26" y="580.16" width="15.71" height="12.11" fill="#00f000"/>
<rect x="317.97" y="580.16" width="15.71" height="12.11" fill="#00cc00"/>
<rect x="332.69" y="580.16" width="14.71" height="12.11" fill="#00e800"/>
<rect x="229.7" y="591.27" width="15.71" height="12.11" fill="#00e000"/>
<rect x="244.41" y="591.27" width="15.71" height="12.11" fill="#00d400"/>
<rect x="259.12" y="591.27" width="15.71" height="12.11" fill="#00e800"/>
<rect x="273.84" y="591.27" width="15.71" height="12.11" fill="#00e400"/>
<rect x="288.55" y="591.27" width="15.71" height="12.11" fill="#00f400"/>
<rect x="303.26" y="591.27" width="15.71" height="12.11" fill="#00f400"/>
<rect x="317.97" y="591.27" width="15.71" height="12.11" fill="#00d800"/>
<rect x="332.69" y="591.27" width="14.71" height="12.11" fill="#00ec00"/>
<rect x="229.7" y="602.39" width="15.71" height="11.11" fill="#00f000"/>
<rect x="244.41" y="602.39" width="15.71" height="11.11" fill="#00e000"/>
<rect x="259.12" y="602.39" width="15.71" height="11.11" fill="#00f000"/>
<rect x="273.84" y="602.39" width="15.71" height="11.11" fill="#00ec00"/>
<rect x="288.55" y="602.39" width="15.71" height="11.11" fill="#00f400"/>
<rect x="303.26" y="602.39" width="15.71" height="11.11" fill="#00f000"/>
<rect x="317.97" y="602.39" width="15.71" height="11.11" fill="#00dc00"/>
<rect x="332.69" y="602.39" width="14.71" height="11.11" fill="#00ec00"/>
<rect x="229.7" y="535.7" width="117.7" height="77.8" fill="none" stroke="#111" stroke-width="0.9"/>
<line x1="45.8" y1="446.84" x2="49.8" y2="446.84" stroke="#000" stroke-width="0.8"/>
<text x="42.6" y="448.34" font-size="4.2" font-weight="bold" text-anchor="end">10000nM</text>
<line x1="45.8" y1="457.93" x2="49.8" y2="457.93" stroke="#000" stroke-width="0.8"/>
<text x="42.6" y="459.43" font-size="4.2" font-weight="bold" text-anchor="end">2500nM</text>
<line x1="45.8" y1="469.01" x2="49.8" y2="469.01" stroke="#000" stroke-width="0.8"/>
<text x="42.6" y="470.51" font-size="4.2" font-weight="bold" text-anchor="end">400nM</text>
<line x1="45.8" y1="480.1" x2="49.8" y2="480.1" stroke="#000" stroke-width="0.8"/>
<text x="42.6" y="481.6" font-size="4.2" font-weight="bold" text-anchor="end">50nM</text>
<line x1="45.8" y1="491.19" x2="49.8" y2="491.19" stroke="#000" stroke-width="0.8"/>
<text x="42.6" y="492.69" font-size="4.2" font-weight="bold" text-anchor="end">25nM</text>
<line x1="45.8" y1="502.27" x2="49.8" y2="502.27" stroke="#000" stroke-width="0.8"/>
<text x="42.6" y="503.77" font-size="4.2" font-weight="bold" text-anchor="end">5nM</text>
<line x1="45.8" y1="513.36" x2="49.8" y2="513.36" stroke="#000" stroke-width="0.8"/>
<text x="42.6" y="514.86" font-size="4.2" font-weight="bold" text-anchor="end">2,5nM</text>
<line x1="45.8" y1="541.26" x2="49.8" y2="541.26" stroke="#000" stroke-width="0.8"/>
<text x="42.6" y="542.76" font-size="4.2" font-weight="bold" text-anchor="end">10000nM</text>
<line x1="45.8" y1="552.37" x2="49.8" y2="552.37" stroke="#000" stroke-width="0.8"/>
<text x="42.6" y="553.87" font-size="4.2" font-weight="bold" text-anchor="end">2500nM</text>
<line x1="45.8" y1="563.49" x2="49.8" y2="563.49" stroke="#000" stroke-width="0.8"/>
<text x="42.6" y="564.99" font-size="4.2" font-weight="bold" text-anchor="end">400nM</text>
<line x1="45.8" y1="574.6" x2="49.8" y2="574.6" stroke="#000" stroke-width="0.8"/>
<text x="42.6" y="576.1" font-size="4.2" font-weight="bold" text-anchor="end">50nM</text>
<line x1="45.8" y1="585.71" x2="49.8" y2="585.71" stroke="#000" stroke-width="0.8"/>
<text x="42.6" y="587.21" font-size="4.2" font-weight="bold" text-anchor="end">25nM</text>
<line x1="45.8" y1="596.83" x2="49.8" y2="596.83" stroke="#000" stroke-width="0.8"/>
<text x="42.6" y="598.33" font-size="4.2" font-weight="bold" text-anchor="end">5nM</text>
<line x1="45.8" y1="607.94" x2="49.8" y2="607.94" stroke="#000" stroke-width="0.8"/>
<text x="42.6" y="609.44" font-size="4.2" font-weight="bold" text-anchor="end">2,5nM</text>
<line x1="226" y1="446.89" x2="230" y2="446.89" stroke="#000" stroke-width="0.8"/>
<text x="222.8" y="448.39" font-size="4.2" font-weight="bold" text-anchor="end">70µM</text>
<line x1="226" y1="458.06" x2="230" y2="458.06" stroke="#000" stroke-width="0.8"/>
<text x="222.8" y="459.56" font-size="4.2" font-weight="bold" text-anchor="end">20µM</text>
<line x1="226" y1="469.23" x2="230" y2="469.23" stroke="#000" stroke-width="0.8"/>
<text x="222.8" y="470.73" font-size="4.2" font-weight="bold" text-anchor="end">4µM</text>
<line x1="226" y1="480.4" x2="230" y2="480.4" stroke="#000" stroke-width="0.8"/>
<text x="222.8" y="481.9" font-size="4.2" font-weight="bold" text-anchor="end">1µM</text>
<line x1="226" y1="491.57" x2="230" y2="491.57" stroke="#000" stroke-width="0.8"/>
<text x="222.8" y="493.07" font-size="4.2" font-weight="bold" text-anchor="end">0,5µM</text>
<line x1="226" y1="502.74" x2="230" y2="502.74" stroke="#000" stroke-width="0.8"/>
<text x="222.8" y="504.24" font-size="4.2" font-weight="bold" text-anchor="end">0,1µM</text>
<line x1="226" y1="513.91" x2="230" y2="513.91" stroke="#000" stroke-width="0.8"/>
<text x="222.8" y="515.41" font-size="4.2" font-weight="bold" text-anchor="end">0,05µM</text>
<line x1="226" y1="541.26" x2="230" y2="541.26" stroke="#000" stroke-width="0.8"/>
<text x="222.8" y="542.76" font-size="4.2" font-weight="bold" text-anchor="end">70µM</text>
<line x1="226" y1="552.37" x2="230" y2="552.37" stroke="#000" stroke-width="0.8"/>
<text x="222.8" y="553.87" font-size="4.2" font-weight="bold" text-anchor="end">20µM</text>
<line x1="226" y1="563.49" x2="230" y2="563.49" stroke="#000" stroke-width="0.8"/>
<text x="222.8" y="564.99" font-size="4.2" font-weight="bold" text-anchor="end">4µM</text>
<line x1="226" y1="574.6" x2="230" y2="574.6" stroke="#000" stroke-width="0.8"/>
<text x="222.8" y="576.1" font-size="4.2" font-weight="bold" text-anchor="end">1µM</text>
<line x1="226" y1="585.71" x2="230" y2="585.71" stroke="#000" stroke-width="0.8"/>
<text x="222.8" y="587.21" font-size="4.2" font-weight="bold" text-anchor="end">0,5µM</text>
<line x1="226" y1="596.83" x2="230" y2="596.83" stroke="#000" stroke-width="0.8"/>
<text x="222.8" y="598.33" font-size="4.2" font-weight="bold" text-anchor="end">0,1µM</text>
<line x1="226" y1="607.94" x2="230" y2="607.94" stroke="#000" stroke-width="0.8"/>
<text x="222.8" y="609.44" font-size="4.2" font-weight="bold" text-anchor="end">0,05µM</text>
<line x1="57.03" y1="518.9" x2="57.03" y2="521.1" stroke="#000" stroke-width="0.7"/>
<line x1="71.69" y1="518.9" x2="71.69" y2="521.1" stroke="#000" stroke-width="0.7"/>
<line x1="86.36" y1="518.9" x2="86.36" y2="521.1" stroke="#000" stroke-width="0.7"/>
<line x1="101.02" y1="518.9" x2="101.02" y2="521.1" stroke="#000" stroke-width="0.7"/>
<line x1="115.68" y1="518.9" x2="115.68" y2="521.1" stroke="#000" stroke-width="0.7"/>
<line x1="130.34" y1="518.9" x2="130.34" y2="521.1" stroke="#000" stroke-width="0.7"/>
<line x1="145.01" y1="518.9" x2="145.01" y2="521.1" stroke="#000" stroke-width="0.7"/>
<line x1="159.67" y1="518.9" x2="159.67" y2="521.1" stroke="#000" stroke-width="0.7"/>
<line x1="237.06" y1="519.5" x2="237.06" y2="521.7" stroke="#000" stroke-width="0.7"/>
<line x1="251.77" y1="519.5" x2="251.77" y2="521.7" stroke="#000" stroke-width="0.7"/>
<line x1="266.48" y1="519.5" x2="266.48" y2="521.7" stroke="#000" stroke-width="0.7"/>
<line x1="281.19" y1="519.5" x2="281.19" y2="521.7" stroke="#000" stroke-width="0.7"/>
<line x1="295.91" y1="519.5" x2="295.91" y2="521.7" stroke="#000" stroke-width="0.7"/>
<line x1="310.62" y1="519.5" x2="310.62" y2="521.7" stroke="#000" stroke-width="0.7"/>
<line x1="325.33" y1="519.5" x2="325.33" y2="521.7" stroke="#000" stroke-width="0.7"/>
<line x1="340.04" y1="519.5" x2="340.04" y2="521.7" stroke="#000" stroke-width="0.7"/>
<line x1="57.03" y1="613.5" x2="57.03" y2="616" stroke="#000" stroke-width="0.8"/>
<text x="58.83" y="622.1" font-size="5.8" font-weight="bold" text-anchor="end" transform="rotate(-45 58.83 622.1)">070</text>
<line x1="71.69" y1="613.5" x2="71.69" y2="616" stroke="#000" stroke-width="0.8"/>
<text x="73.49" y="622.1" font-size="5.8" font-weight="bold" text-anchor="end" transform="rotate(-45 73.49 622.1)">044</text>
<line x1="86.36" y1="613.5" x2="86.36" y2="616" stroke="#000" stroke-width="0.8"/>
<text x="88.16" y="622.1" font-size="5.8" font-weight="bold" text-anchor="end" transform="rotate(-45 88.16 622.1)">052</text>
<line x1="101.02" y1="613.5" x2="101.02" y2="616" stroke="#000" stroke-width="0.8"/>
<text x="102.82" y="622.1" font-size="5.8" font-weight="bold" text-anchor="end" transform="rotate(-45 102.82 622.1)">002</text>
<line x1="115.68" y1="613.5" x2="115.68" y2="616" stroke="#000" stroke-width="0.8"/>
<text x="117.48" y="622.1" font-size="5.8" font-weight="bold" text-anchor="end" transform="rotate(-45 117.48 622.1)">068</text>
<line x1="130.34" y1="613.5" x2="130.34" y2="616" stroke="#000" stroke-width="0.8"/>
<text x="132.14" y="622.1" font-size="5.8" font-weight="bold" text-anchor="end" transform="rotate(-45 132.14 622.1)">060</text>
<line x1="145.01" y1="613.5" x2="145.01" y2="616" stroke="#000" stroke-width="0.8"/>
<text x="146.81" y="622.1" font-size="5.8" font-weight="bold" text-anchor="end" transform="rotate(-45 146.81 622.1)">082</text>
<line x1="159.67" y1="613.5" x2="159.67" y2="616" stroke="#000" stroke-width="0.8"/>
<text x="161.47" y="622.1" font-size="5.8" font-weight="bold" text-anchor="end" transform="rotate(-45 161.47 622.1)">087</text>
<line x1="237.06" y1="613.5" x2="237.06" y2="616" stroke="#000" stroke-width="0.8"/>
<text x="238.86" y="622.1" font-size="5.8" font-weight="bold" text-anchor="end" transform="rotate(-45 238.86 622.1)">070</text>
<line x1="251.77" y1="613.5" x2="251.77" y2="616" stroke="#000" stroke-width="0.8"/>
<text x="253.57" y="622.1" font-size="5.8" font-weight="bold" text-anchor="end" transform="rotate(-45 253.57 622.1)">044</text>
<line x1="266.48" y1="613.5" x2="266.48" y2="616" stroke="#000" stroke-width="0.8"/>
<text x="268.28" y="622.1" font-size="5.8" font-weight="bold" text-anchor="end" transform="rotate(-45 268.28 622.1)">052</text>
<line x1="281.19" y1="613.5" x2="281.19" y2="616" stroke="#000" stroke-width="0.8"/>
<text x="282.99" y="622.1" font-size="5.8" font-weight="bold" text-anchor="end" transform="rotate(-45 282.99 622.1)">002</text>
<line x1="295.91" y1="613.5" x2="295.91" y2="616" stroke="#000" stroke-width="0.8"/>
<text x="297.71" y="622.1" font-size="5.8" font-weight="bold" text-anchor="end" transform="rotate(-45 297.71 622.1)">068</text>
<line x1="310.62" y1="613.5" x2="310.62" y2="616" stroke="#000" stroke-width="0.8"/>
<text x="312.42" y="622.1" font-size="5.8" font-weight="bold" text-anchor="end" transform="rotate(-45 312.42 622.1)">060</text>
<line x1="325.33" y1="613.5" x2="325.33" y2="616" stroke="#000" stroke-width="0.8"/>
<text x="327.13" y="622.1" font-size="5.8" font-weight="bold" text-anchor="end" transform="rotate(-45 327.13 622.1)">082</text>
<line x1="340.04" y1="613.5" x2="340.04" y2="616" stroke="#000" stroke-width="0.8"/>
<text x="341.84" y="622.1" font-size="5.8" font-weight="bold" text-anchor="end" transform="rotate(-45 341.84 622.1)">087</text>
<rect x="173.3" y="441.3" width="10.3" height="78.2" fill="url(#gv)" stroke="#111" stroke-width="0.9"/>
<line x1="182" y1="443.33" x2="183.6" y2="443.33" stroke="#000" stroke-width="0.8"/>
<line x1="173.3" y1="443.33" x2="174.9" y2="443.33" stroke="#000" stroke-width="0.8"/>
<text x="187.4" y="445.93" font-size="7.3" fill="#222">100</text>
<line x1="182" y1="480.4" x2="183.6" y2="480.4" stroke="#000" stroke-width="0.8"/>
<line x1="173.3" y1="480.4" x2="174.9" y2="480.4" stroke="#000" stroke-width="0.8"/>
<text x="187.4" y="483" font-size="7.3" fill="#222">50</text>
<line x1="182" y1="517.15" x2="183.6" y2="517.15" stroke="#000" stroke-width="0.8"/>
<line x1="173.3" y1="517.15" x2="174.9" y2="517.15" stroke="#000" stroke-width="0.8"/>
<text x="187.4" y="519.75" font-size="7.3" fill="#222">0</text>
<text x="163.3" y="437.5" font-size="6.5" font-weight="bold">% viability</text>
<rect x="173.3" y="535.7" width="10.3" height="78.5" fill="url(#gv)" stroke="#111" stroke-width="0.9"/>
<text x="187.4" y="538.77" font-size="7.3" fill="#222">1</text>
<line x1="182" y1="575.19" x2="183.6" y2="575.19" stroke="#000" stroke-width="0.8"/>
<line x1="173.3" y1="575.19" x2="174.9" y2="575.19" stroke="#000" stroke-width="0.8"/>
<text x="187.4" y="577.79" font-size="7.3" fill="#222">0</text>
<text x="187.4" y="616.8" font-size="7.3" fill="#222">-1</text>
<text x="172.5" y="532.5" font-size="6.5" font-weight="bold">NDR</text>
<rect x="354" y="441.5" width="10.3" height="78.2" fill="url(#gv)" stroke="#111" stroke-width="0.9"/>
<text x="368.1" y="444.1" font-size="7.3" fill="#222">100</text>
<line x1="362.7" y1="480.6" x2="364.3" y2="480.6" stroke="#000" stroke-width="0.8"/>
<line x1="354" y1="480.6" x2="355.6" y2="480.6" stroke="#000" stroke-width="0.8"/>
<text x="368.1" y="483.2" font-size="7.3" fill="#222">50</text>
<text x="368.1" y="522.3" font-size="7.3" fill="#222">0</text>
<text x="344.9" y="434.7" font-size="6.5" font-weight="bold">% viability</text>
<rect x="354" y="535.6" width="10.3" height="78.4" fill="url(#gv2)" stroke="#111" stroke-width="0.9"/>
<line x1="362.7" y1="540.07" x2="364.3" y2="540.07" stroke="#000" stroke-width="0.8"/>
<line x1="354" y1="540.07" x2="355.6" y2="540.07" stroke="#000" stroke-width="0.8"/>
<text x="368.1" y="542.67" font-size="7.3" fill="#222">1</text>
<line x1="362.7" y1="577.07" x2="364.3" y2="577.07" stroke="#000" stroke-width="0.8"/>
<line x1="354" y1="577.07" x2="355.6" y2="577.07" stroke="#000" stroke-width="0.8"/>
<text x="368.1" y="579.67" font-size="7.3" fill="#222">0</text>
<text x="368.1" y="616.6" font-size="7.3" fill="#222">-1</text>
<text x="352.3" y="532.6" font-size="6.5" font-weight="bold">NDR</text>
<line x1="386.5" y1="446" x2="386.5" y2="520.4" stroke="#000" stroke-width="1"/>
<line x1="386.5" y1="538.5" x2="386.5" y2="613" stroke="#000" stroke-width="1"/>
<text x="392" y="479.5" font-size="10.7" font-weight="bold" text-anchor="middle" transform="rotate(90 392 479.5)">% Viability</text>
<text x="392" y="576.7" font-size="10.7" font-weight="bold" text-anchor="middle" transform="rotate(90 392 576.7)">NDR</text>
<text x="425.3" y="413.8" font-size="19.5" font-weight="bold">g</text>
<rect x="487.8" y="444.1" width="15.86" height="15.88" fill="#78b8d8"/>
<rect x="502.66" y="444.1" width="15.86" height="15.88" fill="#98c8c8"/>
<rect x="517.52" y="444.1" width="15.86" height="15.88" fill="#78b8d8"/>
<rect x="532.39" y="444.1" width="15.86" height="15.88" fill="#ff4040"/>
<rect x="547.25" y="444.1" width="15.86" height="15.88" fill="#98c8d0"/>
<rect x="562.11" y="444.1" width="15.86" height="15.88" fill="#a0ccc8"/>
<rect x="576.98" y="444.1" width="15.86" height="15.88" fill="#6cb4e0"/>
<rect x="591.84" y="444.1" width="14.86" height="15.88" fill="#80bcd8"/>
<line x1="482.5" y1="451.54" x2="487.8" y2="451.54" stroke="#000" stroke-width="1"/>
<text x="481.5" y="454.74" font-size="7.8" font-weight="bold" text-anchor="end">5FU</text>
<rect x="487.8" y="458.98" width="15.86" height="15.88" fill="#0aa0f8"/>
<rect x="502.66" y="458.98" width="15.86" height="15.88" fill="#10a0f0"/>
<rect x="517.52" y="458.98" width="15.86" height="15.88" fill="#08a0f8"/>
<rect x="532.39" y="458.98" width="15.86" height="15.88" fill="#e8f0b0"/>
<rect x="547.25" y="458.98" width="15.86" height="15.88" fill="#40a8e8"/>
<rect x="562.11" y="458.98" width="15.86" height="15.88" fill="#28a0f0"/>
<rect x="576.98" y="458.98" width="15.86" height="15.88" fill="#00a0ff"/>
<rect x="591.84" y="458.98" width="14.86" height="15.88" fill="#48acea"/>
<line x1="482.5" y1="466.42" x2="487.8" y2="466.42" stroke="#000" stroke-width="1"/>
<text x="481.5" y="469.62" font-size="7.8" font-weight="bold" text-anchor="end">Oxaliplatin</text>
<rect x="487.8" y="473.86" width="15.86" height="15.88" fill="#ff6848"/>
<rect x="502.66" y="473.86" width="15.86" height="15.88" fill="#ff9868"/>
<rect x="517.52" y="473.86" width="15.86" height="15.88" fill="#ff4c40"/>
<rect x="532.39" y="473.86" width="15.86" height="15.88" fill="#ff0000"/>
<rect x="547.25" y="473.86" width="15.86" height="15.88" fill="#e0eab0"/>
<rect x="562.11" y="473.86" width="15.86" height="15.88" fill="#c0e0c0"/>
<rect x="576.98" y="473.86" width="15.86" height="15.88" fill="#68b4e0"/>
<rect x="591.84" y="473.86" width="14.86" height="15.88" fill="#fcec90"/>
<line x1="482.5" y1="481.3" x2="487.8" y2="481.3" stroke="#000" stroke-width="1"/>
<text x="481.5" y="484.5" font-size="7.8" font-weight="bold" text-anchor="end">Irrinotecan</text>
<rect x="487.8" y="488.74" width="15.86" height="15.88" fill="#ffa070"/>
<rect x="502.66" y="488.74" width="15.86" height="15.88" fill="#ffa070"/>
<rect x="517.52" y="488.74" width="15.86" height="15.88" fill="#ff0000"/>
<rect x="532.39" y="488.74" width="15.86" height="15.88" fill="#ff0000"/>
<rect x="547.25" y="488.74" width="15.86" height="15.88" fill="#ffd08c"/>
<rect x="562.11" y="488.74" width="15.86" height="15.88" fill="#ffd08c"/>
<rect x="576.98" y="488.74" width="15.86" height="15.88" fill="#f0f4a0"/>
<rect x="591.84" y="488.74" width="14.86" height="15.88" fill="#ffa070"/>
<line x1="482.5" y1="496.18" x2="487.8" y2="496.18" stroke="#000" stroke-width="1"/>
<text x="481.5" y="499.38" font-size="7.8" font-weight="bold" text-anchor="end">FOLFIRI</text>
<rect x="487.8" y="503.62" width="15.86" height="15.88" fill="#90c8c8"/>
<rect x="502.66" y="503.62" width="15.86" height="15.88" fill="#90c8c8"/>
<rect x="517.52" y="503.62" width="15.86" height="15.88" fill="#b0dac0"/>
<rect x="532.39" y="503.62" width="15.86" height="15.88" fill="#ff5848"/>
<rect x="547.25" y="503.62" width="15.86" height="15.88" fill="#a0cccc"/>
<rect x="562.11" y="503.62" width="15.86" height="15.88" fill="#98c8d0"/>
<rect x="576.98" y="503.62" width="15.86" height="15.88" fill="#88c4d8"/>
<rect x="591.84" y="503.62" width="14.86" height="15.88" fill="#88c4d8"/>
<line x1="482.5" y1="511.06" x2="487.8" y2="511.06" stroke="#000" stroke-width="1"/>
<text x="481.5" y="514.26" font-size="7.8" font-weight="bold" text-anchor="end">FOLFOX</text>
<rect x="487.8" y="518.5" width="15.86" height="15.88" fill="#ff8060"/>
<rect x="502.66" y="518.5" width="15.86" height="15.88" fill="#ffa070"/>
<rect x="517.52" y="518.5" width="15.86" height="15.88" fill="#ff4c40"/>
<rect x="532.39" y="518.5" width="15.86" height="15.88" fill="#ff0000"/>
<rect x="547.25" y="518.5" width="15.86" height="15.88" fill="#fce890"/>
<rect x="562.11" y="518.5" width="15.86" height="15.88" fill="#98cad0"/>
<rect x="576.98" y="518.5" width="15.86" height="15.88" fill="#90c8d0"/>
<rect x="591.84" y="518.5" width="14.86" height="15.88" fill="#d0e4b0"/>
<line x1="482.5" y1="525.94" x2="487.8" y2="525.94" stroke="#000" stroke-width="1"/>
<text x="481.5" y="529.14" font-size="7.8" font-weight="bold" text-anchor="end">OX-IRI</text>
<rect x="487.8" y="533.38" width="15.86" height="14.88" fill="#ff7058"/>
<rect x="502.66" y="533.38" width="15.86" height="14.88" fill="#ff7858"/>
<rect x="517.52" y="533.38" width="15.86" height="14.88" fill="#ff0000"/>
<rect x="532.39" y="533.38" width="15.86" height="14.88" fill="#ff0000"/>
<rect x="547.25" y="533.38" width="15.86" height="14.88" fill="#ffbc80"/>
<rect x="562.11" y="533.38" width="15.86" height="14.88" fill="#ffa878"/>
<rect x="576.98" y="533.38" width="15.86" height="14.88" fill="#d8eab8"/>
<rect x="591.84" y="533.38" width="14.86" height="14.88" fill="#ffd890"/>
<line x1="482.5" y1="540.82" x2="487.8" y2="540.82" stroke="#000" stroke-width="1"/>
<text x="481.5" y="544.02" font-size="7.8" font-weight="bold" text-anchor="end">FOLFIRINOX</text>
<rect x="487.8" y="554.5" width="15.86" height="15.88" fill="#ffbc80"/>
<rect x="502.66" y="554.5" width="15.86" height="15.88" fill="#ff4c40"/>
<rect x="517.52" y="554.5" width="15.86" height="15.88" fill="#ff0000"/>
<rect x="532.39" y="554.5" width="15.86" height="15.88" fill="#f4f6a0"/>
<rect x="547.25" y="554.5" width="15.86" height="15.88" fill="#ff9870"/>
<rect x="562.11" y="554.5" width="15.86" height="15.88" fill="#a8d4c8"/>
<rect x="576.98" y="554.5" width="15.86" height="15.88" fill="#40a8f0"/>
<rect x="591.84" y="554.5" width="14.86" height="15.88" fill="#d8eab0"/>
<line x1="482.5" y1="561.94" x2="487.8" y2="561.94" stroke="#000" stroke-width="1"/>
<text x="481.5" y="565.14" font-size="7.8" font-weight="bold" text-anchor="end">GEM</text>
<rect x="487.8" y="569.38" width="15.86" height="15.88" fill="#c8e4c0"/>
<rect x="502.66" y="569.38" width="15.86" height="15.88" fill="#d8eab0"/>
<rect x="517.52" y="569.38" width="15.86" height="15.88" fill="#ffd08c"/>
<rect x="532.39" y="569.38" width="15.86" height="15.88" fill="#ff6c50"/>
<rect x="547.25" y="569.38" width="15.86" height="15.88" fill="#ffbc80"/>
<rect x="562.11" y="569.38" width="15.86" height="15.88" fill="#ff7858"/>
<rect x="576.98" y="569.38" width="15.86" height="15.88" fill="#d8eab0"/>
<rect x="591.84" y="569.38" width="14.86" height="15.88" fill="#90c8d0"/>
<line x1="482.5" y1="576.82" x2="487.8" y2="576.82" stroke="#000" stroke-width="1"/>
<text x="481.5" y="580.02" font-size="7.8" font-weight="bold" text-anchor="end">PAC</text>
<rect x="487.8" y="584.26" width="15.86" height="14.88" fill="#ff5848"/>
<rect x="502.66" y="584.26" width="15.86" height="14.88" fill="#ff0000"/>
<rect x="517.52" y="584.26" width="15.86" height="14.88" fill="#ff4c40"/>
<rect x="532.39" y="584.26" width="15.86" height="14.88" fill="#ff0000"/>
<rect x="547.25" y="584.26" width="15.86" height="14.88" fill="#ffbc80"/>
<rect x="562.11" y="584.26" width="15.86" height="14.88" fill="#ff8060"/>
<rect x="576.98" y="584.26" width="15.86" height="14.88" fill="#90ccd0"/>
<rect x="591.84" y="584.26" width="14.86" height="14.88" fill="#d8eab0"/>
<line x1="482.5" y1="591.7" x2="487.8" y2="591.7" stroke="#000" stroke-width="1"/>
<text x="481.5" y="594.9" font-size="7.8" font-weight="bold" text-anchor="end">GEMPAC</text>
<rect x="487.8" y="548.2" width="118.9" height="6.3" fill="#ffffff"/>
<rect x="487.8" y="444.1" width="118.9" height="154.9" fill="none" stroke="#111" stroke-width="1.3"/>
<line x1="495.23" y1="440" x2="495.23" y2="444.1" stroke="#000" stroke-width="1"/>
<text x="497.83" y="439.5" font-size="7" font-weight="bold" transform="rotate(-90 497.83 439.5)">044</text>
<line x1="510.09" y1="440" x2="510.09" y2="444.1" stroke="#000" stroke-width="1"/>
<text x="512.69" y="439.5" font-size="7" font-weight="bold" transform="rotate(-90 512.69 439.5)">052</text>
<line x1="524.96" y1="440" x2="524.96" y2="444.1" stroke="#000" stroke-width="1"/>
<text x="527.56" y="439.5" font-size="7" font-weight="bold" transform="rotate(-90 527.56 439.5)">002</text>
<line x1="539.82" y1="440" x2="539.82" y2="444.1" stroke="#000" stroke-width="1"/>
<text x="542.42" y="439.5" font-size="7" font-weight="bold" transform="rotate(-90 542.42 439.5)">070</text>
<line x1="554.68" y1="440" x2="554.68" y2="444.1" stroke="#000" stroke-width="1"/>
<text x="557.28" y="439.5" font-size="7" font-weight="bold" transform="rotate(-90 557.28 439.5)">060</text>
<line x1="569.54" y1="440" x2="569.54" y2="444.1" stroke="#000" stroke-width="1"/>
<text x="572.14" y="439.5" font-size="7" font-weight="bold" transform="rotate(-90 572.14 439.5)">068</text>
<line x1="584.41" y1="440" x2="584.41" y2="444.1" stroke="#000" stroke-width="1"/>
<text x="587.01" y="439.5" font-size="7" font-weight="bold" transform="rotate(-90 587.01 439.5)">087</text>
<line x1="599.27" y1="440" x2="599.27" y2="444.1" stroke="#000" stroke-width="1"/>
<text x="601.87" y="439.5" font-size="7" font-weight="bold" transform="rotate(-90 601.87 439.5)">082</text>
<rect x="619.6" y="444.3" width="13.4" height="154.9" fill="url(#gauc)" stroke="#111" stroke-width="0.9"/>
<text x="619.2" y="439.8" font-size="6.5" font-weight="bold">AUC</text>
<line x1="633" y1="444.3" x2="636" y2="444.3" stroke="#000" stroke-width="0.8"/>
<text x="638.2" y="446.8" font-size="6.6" fill="#222">No effect</text>
<line x1="633" y1="490" x2="636" y2="490" stroke="#000" stroke-width="0.8"/>
<line x1="619.6" y1="490" x2="621.5" y2="490" stroke="#000" stroke-width="0.8"/>
<text x="638.2" y="492.5" font-size="6.6" fill="#222">100</text>
<line x1="633" y1="547.31" x2="636" y2="547.31" stroke="#000" stroke-width="0.8"/>
<line x1="619.6" y1="547.31" x2="621.5" y2="547.31" stroke="#000" stroke-width="0.8"/>
<text x="638.2" y="549.81" font-size="6.6" fill="#222">50</text>
<line x1="633" y1="599.2" x2="636" y2="599.2" stroke="#000" stroke-width="0.8"/>
<text x="638.2" y="601.7" font-size="6.6" fill="#222">Highly effective</text>
<text x="2.6" y="689" font-size="19.5" font-weight="bold">h</text>
<text x="106.9" y="697" font-size="11.8" font-weight="bold" text-anchor="middle">PDAC082</text>
<rect x="44" y="732.3" width="123.3" height="38.2" fill="#f2f2f2"/>
<rect x="44" y="770.5" width="123.3" height="38.2" fill="#d6d6d6"/>
<line x1="44" y1="770.5" x2="167.3" y2="770.5" stroke="#222" stroke-width="0.8" stroke-dasharray="1,1.6"/>
<line x1="43.6" y1="713.6" x2="43.6" y2="816.5" stroke="#000" stroke-width="1.1"/>
<line x1="43.1" y1="816" x2="167.8" y2="816" stroke="#000" stroke-width="1.1"/>
<line x1="40.6" y1="732.3" x2="43.6" y2="732.3" stroke="#000" stroke-width="1"/>
<text x="39" y="734.8" font-size="7.1" font-weight="bold" text-anchor="end">1</text>
<line x1="40.6" y1="770.5" x2="43.6" y2="770.5" stroke="#000" stroke-width="1"/>
<text x="39" y="773" font-size="7.1" font-weight="bold" text-anchor="end">0</text>
<line x1="40.6" y1="808.7" x2="43.6" y2="808.7" stroke="#000" stroke-width="1"/>
<text x="39" y="811.2" font-size="7.1" font-weight="bold" text-anchor="end">-1</text>
<line x1="61" y1="816" x2="61" y2="819.5" stroke="#000" stroke-width="1"/>
<text x="61" y="828.2" font-size="7.1" font-weight="bold" text-anchor="middle">0.1</text>
<line x1="96.3" y1="816" x2="96.3" y2="819.5" stroke="#000" stroke-width="1"/>
<text x="96.3" y="828.2" font-size="7.1" font-weight="bold" text-anchor="middle">1</text>
<line x1="131.6" y1="816" x2="131.6" y2="819.5" stroke="#000" stroke-width="1"/>
<text x="131.6" y="828.2" font-size="7.1" font-weight="bold" text-anchor="middle">10</text>
<line x1="166.9" y1="816" x2="166.9" y2="819.5" stroke="#000" stroke-width="1"/>
<text x="166.9" y="828.2" font-size="7.1" font-weight="bold" text-anchor="middle">100</text>
<text x="105.2" y="837" font-size="5.77" font-weight="bold" text-anchor="middle">Concentration FOLFIRINOX (8:0.02:1 µM ratio)</text>
<text x="27" y="770.5" font-size="7.5" font-weight="bold" text-anchor="middle" transform="rotate(-90 27 770.5)">NDR</text>
<line x1="161.43" y1="742.61" x2="161.43" y2="735.36" stroke="#ff8c1a" stroke-width="0.7"/>
<line x1="159.93" y1="735.36" x2="162.93" y2="735.36" stroke="#ff8c1a" stroke-width="0.7"/>
<line x1="61" y1="735.74" x2="61" y2="730.77" stroke="#8a8a10" stroke-width="0.7"/>
<line x1="59.5" y1="730.77" x2="62.5" y2="730.77" stroke="#8a8a10" stroke-width="0.7"/>
<line x1="161.43" y1="806.79" x2="161.43" y2="803.73" stroke="#000" stroke-width="0.7"/>
<line x1="159.93" y1="803.73" x2="162.93" y2="803.73" stroke="#000" stroke-width="0.7"/>
<line x1="161.43" y1="790.75" x2="161.43" y2="783.11" stroke="#808080" stroke-width="0.7"/>
<line x1="159.93" y1="783.11" x2="162.93" y2="783.11" stroke="#808080" stroke-width="0.7"/>
<line x1="142.23" y1="775.08" x2="142.23" y2="771.26" stroke="#808080" stroke-width="0.7"/>
<line x1="140.73" y1="771.26" x2="143.73" y2="771.26" stroke="#808080" stroke-width="0.7"/>
<line x1="96.3" y1="743" x2="96.3" y2="734.97" stroke="#cc22ee" stroke-width="0.7"/>
<line x1="94.8" y1="734.97" x2="97.8" y2="734.97" stroke="#cc22ee" stroke-width="0.7"/>
<line x1="117.55" y1="759.04" x2="117.55" y2="756.37" stroke="#8a8a10" stroke-width="0.7"/>
<line x1="116.05" y1="756.37" x2="119.05" y2="756.37" stroke="#8a8a10" stroke-width="0.7"/>
<line x1="142.23" y1="758.28" x2="142.23" y2="756.75" stroke="#1a9aaa" stroke-width="0.7"/>
<line x1="140.73" y1="756.75" x2="143.73" y2="756.75" stroke="#1a9aaa" stroke-width="0.7"/>
<polyline points="50.37,738.03 61,735.74 85.67,737.27 96.3,736.88 117.55,737.27 142.23,737.27 161.43,742.61" fill="none" stroke="#ff8c1a" stroke-width="0.75"/>
<polyline points="50.37,739.18 61,738.79 85.67,737.65 96.3,736.88 117.55,738.41 142.23,742.61 161.43,755.98" fill="none" stroke="#cc22ee" stroke-width="0.75"/>
<polyline points="50.37,740.7 61,739.94 85.67,743 96.3,742.61 117.55,742.23 142.23,748.34 161.43,756.37" fill="none" stroke="#ff1010" stroke-width="0.75"/>
<polyline points="50.37,739.18 61,738.79 85.67,738.79 96.3,738.03 117.55,739.18 142.23,758.28 161.43,776.99" fill="none" stroke="#1a9aaa" stroke-width="0.75"/>
<polyline points="50.37,739.18 61,736.12 85.67,738.03 96.3,736.12 117.55,759.04 142.23,772.41 161.43,782.34" fill="none" stroke="#8a8a10" stroke-width="0.75"/>
<polyline points="50.37,738.79 61,738.79 85.67,739.94 96.3,743 117.55,759.8 142.23,775.08 161.43,790.75" fill="none" stroke="#808080" stroke-width="0.75" stroke-dasharray="1.2,1"/>
<polyline points="50.37,739.94 61,740.32 85.67,740.7 96.3,740.7 117.55,761.33 142.23,782.72 161.43,806.79" fill="none" stroke="#000000" stroke-width="0.75"/>
<polygon points="50.37,736.32 52.08,738.03 50.37,739.74 48.66,738.03" fill="#ff8c1a"/>
<polygon points="61,734.03 62.71,735.74 61,737.45 59.29,735.74" fill="#ff8c1a"/>
<polygon points="85.67,735.56 87.38,737.27 85.67,738.98 83.96,737.27" fill="#ff8c1a"/>
<polygon points="96.3,735.17 98.01,736.88 96.3,738.59 94.59,736.88" fill="#ff8c1a"/>
<polygon points="117.55,735.56 119.26,737.27 117.55,738.98 115.84,737.27" fill="#ff8c1a"/>
<polygon points="142.23,735.56 143.94,737.27 142.23,738.98 140.52,737.27" fill="#ff8c1a"/>
<polygon points="161.43,740.9 163.14,742.61 161.43,744.32 159.72,742.61" fill="#ff8c1a"/>
<polygon points="50.37,741.36 52.46,737.66 48.28,737.66" fill="#cc22ee"/>
<polygon points="61,740.98 63.09,737.27 58.91,737.27" fill="#cc22ee"/>
<polygon points="85.67,739.83 87.76,736.13 83.58,736.13" fill="#cc22ee"/>
<polygon points="96.3,739.07 98.39,735.36 94.21,735.36" fill="#cc22ee"/>
<polygon points="117.55,740.6 119.64,736.89 115.46,736.89" fill="#cc22ee"/>
<polygon points="142.23,744.8 144.32,741.09 140.14,741.09" fill="#cc22ee"/>
<polygon points="161.43,758.17 163.52,754.46 159.34,754.46" fill="#cc22ee"/>
<rect x="48.57" y="738.9" width="3.61" height="3.61" fill="#ff1010"/>
<rect x="59.2" y="738.14" width="3.61" height="3.61" fill="#ff1010"/>
<rect x="83.87" y="741.19" width="3.61" height="3.61" fill="#ff1010"/>
<rect x="94.49" y="740.81" width="3.61" height="3.61" fill="#ff1010"/>
<rect x="115.75" y="740.43" width="3.61" height="3.61" fill="#ff1010"/>
<rect x="140.42" y="746.54" width="3.61" height="3.61" fill="#ff1010"/>
<rect x="159.63" y="754.56" width="3.61" height="3.61" fill="#ff1010"/>
<polygon points="50.37,737.47 52.08,739.18 50.37,740.89 48.66,739.18" fill="#1a9aaa"/>
<polygon points="61,737.08 62.71,738.79 61,740.5 59.29,738.79" fill="#1a9aaa"/>
<polygon points="85.67,737.08 87.38,738.79 85.67,740.5 83.96,738.79" fill="#1a9aaa"/>
<polygon points="96.3,736.32 98.01,738.03 96.3,739.74 94.59,738.03" fill="#1a9aaa"/>
<polygon points="117.55,737.47 119.26,739.18 117.55,740.89 115.84,739.18" fill="#1a9aaa"/>
<polygon points="142.23,756.57 143.94,758.28 142.23,759.99 140.52,758.28" fill="#1a9aaa"/>
<polygon points="161.43,775.28 163.14,776.99 161.43,778.7 159.72,776.99" fill="#1a9aaa"/>
<polygon points="50.37,737.47 52.08,739.18 50.37,740.89 48.66,739.18" fill="#8a8a10"/>
<polygon points="61,734.41 62.71,736.12 61,737.83 59.29,736.12" fill="#8a8a10"/>
<polygon points="85.67,736.32 87.38,738.03 85.67,739.74 83.96,738.03" fill="#8a8a10"/>
<polygon points="96.3,734.41 98.01,736.12 96.3,737.83 94.59,736.12" fill="#8a8a10"/>
<polygon points="117.55,757.33 119.26,759.04 117.55,760.75 115.84,759.04" fill="#8a8a10"/>
<polygon points="142.23,770.7 143.94,772.41 142.23,774.12 140.52,772.41" fill="#8a8a10"/>
<polygon points="161.43,780.63 163.14,782.34 161.43,784.05 159.72,782.34" fill="#8a8a10"/>
<polygon points="50.37,736.61 52.46,740.31 48.28,740.31" fill="#808080"/>
<polygon points="61,736.61 63.09,740.31 58.91,740.31" fill="#808080"/>
<polygon points="85.67,737.76 87.76,741.46 83.58,741.46" fill="#808080"/>
<polygon points="96.3,740.81 98.39,744.52 94.21,744.52" fill="#808080"/>
<polygon points="117.55,757.62 119.64,761.32 115.46,761.32" fill="#808080"/>
<polygon points="142.23,772.9 144.32,776.6 140.14,776.6" fill="#808080"/>
<polygon points="161.43,788.56 163.52,792.27 159.34,792.27" fill="#808080"/>
<circle cx="50.37" cy="739.94" r="1.9" fill="#000000"/>
<circle cx="61" cy="740.32" r="1.9" fill="#000000"/>
<circle cx="85.67" cy="740.7" r="1.9" fill="#000000"/>
<circle cx="96.3" cy="740.7" r="1.9" fill="#000000"/>
<circle cx="117.55" cy="761.33" r="1.9" fill="#000000"/>
<circle cx="142.23" cy="782.72" r="1.9" fill="#000000"/>
<circle cx="161.43" cy="806.79" r="1.9" fill="#000000"/>
<line x1="182" y1="732.9" x2="191.6" y2="732.9" stroke="#ff1010" stroke-width="0.8"/>
<rect x="185" y="731.1" width="3.61" height="3.61" fill="#ff1010"/>
<text x="196.9" y="735.7" font-size="7.7" fill="#222">FOLFOX</text>
<line x1="182" y1="745.33" x2="191.6" y2="745.33" stroke="#808080" stroke-width="0.8" stroke-dasharray="1.2,1"/>
<polygon points="186.8,743.14 188.89,746.85 184.71,746.85" fill="#808080"/>
<text x="196.9" y="748.13" font-size="7.7" fill="#222">FOLFIRINOX</text>
<line x1="182" y1="757.76" x2="191.6" y2="757.76" stroke="#000" stroke-width="0.8"/>
<circle cx="186.8" cy="757.76" r="1.9" fill="#000"/>
<text x="196.9" y="760.56" font-size="7.7" fill="#222">FOLFIRI</text>
<line x1="182" y1="770.19" x2="191.6" y2="770.19" stroke="#1a9aaa" stroke-width="0.8"/>
<polygon points="186.8,768.48 188.51,770.19 186.8,771.9 185.09,770.19" fill="#1a9aaa"/>
<text x="196.9" y="772.99" font-size="7.7" fill="#222">OXIRI</text>
<line x1="182" y1="782.62" x2="191.6" y2="782.62" stroke="#cc22ee" stroke-width="0.8"/>
<polygon points="186.8,784.8 188.89,781.1 184.71,781.1" fill="#cc22ee"/>
<text x="196.9" y="785.42" font-size="7.7" fill="#222">5FU</text>
<line x1="182" y1="795.05" x2="191.6" y2="795.05" stroke="#ff8c1a" stroke-width="0.8"/>
<polygon points="186.8,793.34 188.51,795.05 186.8,796.76 185.09,795.05" fill="#ff8c1a"/>
<text x="196.9" y="797.85" font-size="7.7" fill="#222">Oxaliplatin</text>
<line x1="182" y1="807.48" x2="191.6" y2="807.48" stroke="#8a8a10" stroke-width="0.8"/>
<polygon points="186.8,805.77 188.51,807.48 186.8,809.19 185.09,807.48" fill="#8a8a10"/>
<text x="196.9" y="810.28" font-size="7.7" fill="#222">Irrinotecan</text>
<text x="253.2" y="689" font-size="19.5" font-weight="bold">i</text>
<rect x="316.3" y="691" width="34.32" height="2.8" fill="#138a8a"/>
<rect x="316.3" y="695.3" width="27.04" height="2.8" fill="#ff1010"/>
<rect x="316.3" y="699.6" width="73.84" height="2.8" fill="#000"/>
<line x1="312.8" y1="696.7" x2="316.3" y2="696.7" stroke="#000" stroke-width="1"/>
<text x="309.2" y="699" font-size="6.4" font-weight="bold" text-anchor="end">PDAC082</text>
<rect x="316.3" y="706.7" width="40.04" height="2.8" fill="#138a8a"/>
<rect x="316.3" y="711" width="38.48" height="2.8" fill="#ff1010"/>
<rect x="316.3" y="715.3" width="58.24" height="2.8" fill="#000"/>
<line x1="312.8" y1="712.4" x2="316.3" y2="712.4" stroke="#000" stroke-width="1"/>
<text x="309.2" y="714.7" font-size="6.4" font-weight="bold" text-anchor="end">PDAC087</text>
<rect x="316.3" y="722.7" width="21.32" height="2.8" fill="#138a8a"/>
<rect x="316.3" y="727" width="21.32" height="2.8" fill="#ff1010"/>
<rect x="316.3" y="731.3" width="38.48" height="2.8" fill="#000"/>
<line x1="312.8" y1="728.4" x2="316.3" y2="728.4" stroke="#000" stroke-width="1"/>
<text x="309.2" y="730.7" font-size="6.4" font-weight="bold" text-anchor="end">PDAC068</text>
<rect x="316.3" y="738.4" width="38.48" height="2.8" fill="#138a8a"/>
<rect x="316.3" y="742.7" width="25.48" height="2.8" fill="#ff1010"/>
<rect x="316.3" y="747" width="44.72" height="2.8" fill="#000"/>
<line x1="312.8" y1="744.1" x2="316.3" y2="744.1" stroke="#000" stroke-width="1"/>
<text x="309.2" y="746.4" font-size="6.4" font-weight="bold" text-anchor="end">PDAC060</text>
<rect x="316.3" y="754.1" width="44.72" height="2.8" fill="#138a8a"/>
<rect x="316.3" y="758.4" width="8.84" height="2.8" fill="#ff1010"/>
<rect x="316.3" y="762.7" width="54.6" height="2.8" fill="#000"/>
<line x1="312.8" y1="759.8" x2="316.3" y2="759.8" stroke="#000" stroke-width="1"/>
<text x="309.2" y="762.1" font-size="6.4" font-weight="bold" text-anchor="end">PDAC070</text>
<rect x="316.3" y="769.8" width="23.4" height="2.8" fill="#138a8a"/>
<rect x="316.3" y="774.1" width="2.6" height="2.8" fill="#ff1010"/>
<rect x="316.3" y="778.4" width="91.52" height="2.8" fill="#000"/>
<line x1="312.8" y1="775.5" x2="316.3" y2="775.5" stroke="#000" stroke-width="1"/>
<text x="309.2" y="777.8" font-size="6.4" font-weight="bold" text-anchor="end">PDAC002</text>
<rect x="316.3" y="785.7" width="33.8" height="2.8" fill="#138a8a"/>
<rect x="316.3" y="790" width="13.52" height="2.8" fill="#ff1010"/>
<rect x="316.3" y="794.3" width="34.84" height="2.8" fill="#000"/>
<line x1="312.8" y1="791.4" x2="316.3" y2="791.4" stroke="#000" stroke-width="1"/>
<text x="309.2" y="793.7" font-size="6.4" font-weight="bold" text-anchor="end">PDAC052</text>
<rect x="316.3" y="801.3" width="41.6" height="2.8" fill="#138a8a"/>
<rect x="316.3" y="805.6" width="12.48" height="2.8" fill="#ff1010"/>
<rect x="316.3" y="809.9" width="33.8" height="2.8" fill="#000"/>
<line x1="312.8" y1="807" x2="316.3" y2="807" stroke="#000" stroke-width="1"/>
<text x="309.2" y="809.3" font-size="6.4" font-weight="bold" text-anchor="end">PDAC044</text>
<line x1="368.3" y1="688.8" x2="368.3" y2="813.9" stroke="#333" stroke-width="0.7" stroke-dasharray="1.2,1.4"/>
<line x1="316.3" y1="688.8" x2="316.3" y2="814.4" stroke="#000" stroke-width="1.2"/>
<line x1="315.8" y1="813.9" x2="420.7" y2="813.9" stroke="#000" stroke-width="1.2"/>
<line x1="316.3" y1="813.9" x2="316.3" y2="817.4" stroke="#000" stroke-width="1"/>
<text x="316.3" y="827.7" font-size="7.3" font-weight="bold" text-anchor="middle">0.0</text>
<line x1="342.3" y1="813.9" x2="342.3" y2="817.4" stroke="#000" stroke-width="1"/>
<text x="342.3" y="827.7" font-size="7.3" font-weight="bold" text-anchor="middle">0.5</text>
<line x1="368.3" y1="813.9" x2="368.3" y2="817.4" stroke="#000" stroke-width="1"/>
<text x="368.3" y="827.7" font-size="7.3" font-weight="bold" text-anchor="middle">1.0</text>
<line x1="394.3" y1="813.9" x2="394.3" y2="817.4" stroke="#000" stroke-width="1"/>
<text x="394.3" y="827.7" font-size="7.3" font-weight="bold" text-anchor="middle">1.5</text>
<line x1="420.3" y1="813.9" x2="420.3" y2="817.4" stroke="#000" stroke-width="1"/>
<text x="420.3" y="827.7" font-size="7.3" font-weight="bold" text-anchor="middle">2.0</text>
<text x="367.6" y="839.5" font-size="7.15" font-weight="bold" text-anchor="middle">Ratio AUC</text>
<line x1="413.6" y1="691.4" x2="425.7" y2="691.4" stroke="#000" stroke-width="2.6"/>
<text x="433.1" y="693.4" font-size="5.5" fill="#222">FOLFIRI</text>
<line x1="413.6" y1="702.1" x2="425.7" y2="702.1" stroke="#ff1010" stroke-width="2.6"/>
<text x="433.1" y="704.1" font-size="5.5" fill="#222">FOLFOX</text>
<line x1="413.6" y1="713.2" x2="425.7" y2="713.2" stroke="#138a8a" stroke-width="2.6"/>
<text x="433.1" y="715.2" font-size="5.5" fill="#222">OX-IRI</text>
<line x1="413.6" y1="724.6" x2="425.7" y2="724.6" stroke="#888" stroke-width="0.7" stroke-dasharray="1.5,1.5"/>
<text x="434.1" y="726.6" font-size="5.5" fill="#222">FOLFIRINOX</text>
<text x="487.4" y="688.8" font-size="19.5" font-weight="bold">j</text>
<rect x="541.6" y="688.4" width="39.16" height="4" fill="#ff1010"/>
<rect x="541.6" y="694.4" width="50.7" height="4" fill="#a6a6ac"/>
<line x1="538" y1="693.4" x2="541.6" y2="693.4" stroke="#000" stroke-width="1"/>
<text x="535.5" y="695.7" font-size="6.4" font-weight="bold" text-anchor="end">PDAC082</text>
<rect x="541.6" y="705.3" width="42.17" height="4" fill="#ff1010"/>
<rect x="541.6" y="711.3" width="65.76" height="4" fill="#a6a6ac"/>
<line x1="538" y1="710.3" x2="541.6" y2="710.3" stroke="#000" stroke-width="1"/>
<text x="535.5" y="712.6" font-size="6.4" font-weight="bold" text-anchor="end">PDAC087</text>
<rect x="541.6" y="722.3" width="16.06" height="4" fill="#ff1010"/>
<rect x="541.6" y="728.3" width="59.74" height="4" fill="#a6a6ac"/>
<line x1="538" y1="727.3" x2="541.6" y2="727.3" stroke="#000" stroke-width="1"/>
<text x="535.5" y="729.6" font-size="6.4" font-weight="bold" text-anchor="end">PDAC068</text>
<rect x="541.6" y="738.9" width="50.2" height="4" fill="#ff1010"/>
<rect x="541.6" y="744.9" width="70.28" height="4" fill="#a6a6ac"/>
<line x1="538" y1="743.9" x2="541.6" y2="743.9" stroke="#000" stroke-width="1"/>
<text x="535.5" y="746.2" font-size="6.4" font-weight="bold" text-anchor="end">PDAC060</text>
<line x1="538" y1="760.5" x2="541.6" y2="760.5" stroke="#000" stroke-width="1"/>
<text x="535.5" y="762.8" font-size="6.4" font-weight="bold" text-anchor="end">PDAC070</text>
<rect x="541.6" y="772.5" width="8.03" height="4" fill="#ff1010"/>
<rect x="541.6" y="778.5" width="99.4" height="4" fill="#a6a6ac"/>
<line x1="538" y1="777.5" x2="541.6" y2="777.5" stroke="#000" stroke-width="1"/>
<text x="535.5" y="779.8" font-size="6.4" font-weight="bold" text-anchor="end">PDAC002</text>
<rect x="541.6" y="789.4" width="1" height="4" fill="#ff1010"/>
<rect x="541.6" y="795.4" width="10.54" height="4" fill="#a6a6ac"/>
<line x1="538" y1="794.4" x2="541.6" y2="794.4" stroke="#000" stroke-width="1"/>
<text x="535.5" y="796.7" font-size="6.4" font-weight="bold" text-anchor="end">PDAC052</text>
<rect x="541.6" y="806.4" width="9.54" height="4" fill="#ff1010"/>
<rect x="541.6" y="812.4" width="18.57" height="4" fill="#a6a6ac"/>
<line x1="538" y1="811.4" x2="541.6" y2="811.4" stroke="#000" stroke-width="1"/>
<text x="535.5" y="813.7" font-size="6.4" font-weight="bold" text-anchor="end">PDAC044</text>
<line x1="591.8" y1="685.5" x2="591.8" y2="818.3" stroke="#555" stroke-width="0.7" stroke-dasharray="1.2,1.4"/>
<line x1="541.6" y1="685.5" x2="541.6" y2="818.8" stroke="#000" stroke-width="1.2"/>
<line x1="541.1" y1="818.3" x2="642.5" y2="818.3" stroke="#000" stroke-width="1.2"/>
<line x1="541.6" y1="818.3" x2="541.6" y2="821.8" stroke="#000" stroke-width="1"/>
<text x="541.6" y="832" font-size="7.3" font-weight="bold" text-anchor="middle">0.0</text>
<line x1="566.7" y1="818.3" x2="566.7" y2="821.8" stroke="#000" stroke-width="1"/>
<text x="566.7" y="832" font-size="7.3" font-weight="bold" text-anchor="middle">0.5</text>
<line x1="591.8" y1="818.3" x2="591.8" y2="821.8" stroke="#000" stroke-width="1"/>
<text x="591.8" y="832" font-size="7.3" font-weight="bold" text-anchor="middle">1.0</text>
<line x1="616.9" y1="818.3" x2="616.9" y2="821.8" stroke="#000" stroke-width="1"/>
<text x="616.9" y="832" font-size="7.3" font-weight="bold" text-anchor="middle">1.5</text>
<line x1="642" y1="818.3" x2="642" y2="821.8" stroke="#000" stroke-width="1"/>
<text x="642" y="832" font-size="7.3" font-weight="bold" text-anchor="middle">2.0</text>
<text x="591.5" y="843.5" font-size="7.15" font-weight="bold" text-anchor="middle">Ratio AUC</text>
<line x1="631.6" y1="697.1" x2="643.6" y2="697.1" stroke="#a6a6ac" stroke-width="3.2"/>
<text x="650.5" y="699.3" font-size="6.3" fill="#222">Gem</text>
<line x1="631.6" y1="709.7" x2="643.6" y2="709.7" stroke="#ff1010" stroke-width="3.2"/>
<text x="650.5" y="711.9" font-size="6.3" fill="#222">Pac</text>
<line x1="631.6" y1="721.6" x2="643.6" y2="721.6" stroke="#888" stroke-width="0.7" stroke-dasharray="1.5,1.5"/>
<text x="651.5" y="723.8" font-size="6.3" fill="#222">Gem-Pac</text>
</svg></body></html>
